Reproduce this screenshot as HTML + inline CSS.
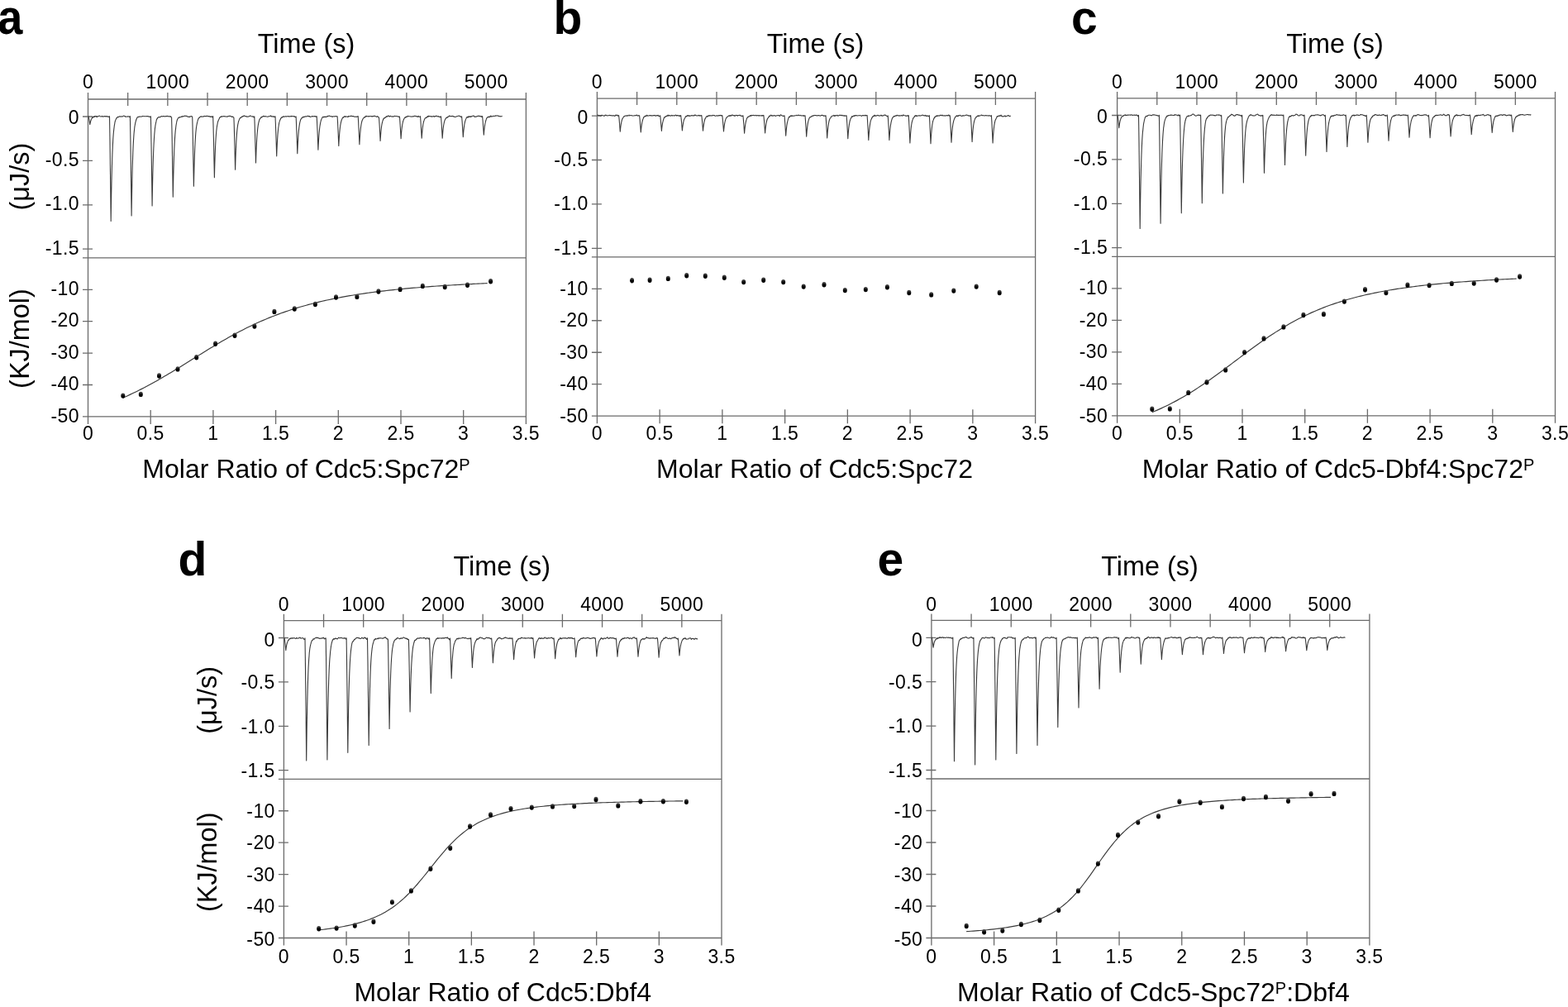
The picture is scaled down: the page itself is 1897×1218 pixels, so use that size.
<!DOCTYPE html>
<html><head><meta charset="utf-8"><title>ITC</title>
<style>
html,body{margin:0;padding:0;background:#fff;}
svg{display:block;}
text{font-family:'Liberation Sans', Arial, Helvetica, sans-serif;fill:#000;}
.tk{font-size:23px;letter-spacing:0.4px;}
</style></head><body>
<svg width="1897" height="1218" viewBox="0 0 1897 1218">
<defs><linearGradient id="dg" x1="0" y1="0" x2="0" y2="1"><stop offset="0" stop-color="#5a5a5a"/><stop offset="0.55" stop-color="#000"/><stop offset="1" stop-color="#000"/></linearGradient></defs>
<rect width="1897" height="1218" fill="#fff"/>
<g id="pa">
<path d="M106.5 112L106.5 512.9M636.4 112L636.4 512.9M106.5 120L636.4 120M100 311.9L636.4 311.9M100 503.9L636.4 503.9M154.67 112L154.67 128M202.85 112L202.85 128M251.02 112L251.02 128M299.19 112L299.19 128M347.36 112L347.36 128M395.54 112L395.54 128M443.71 112L443.71 128M491.88 112L491.88 128M540.05 112L540.05 128M588.23 112L588.23 128M100 141L112 141M100 194.4L112 194.4M100 247.8L112 247.8M100 301.2L112 301.2M182.2 495.9L182.2 512.9M257.9 495.9L257.9 512.9M333.6 495.9L333.6 512.9M409.3 495.9L409.3 512.9M485 495.9L485 512.9M560.7 495.9L560.7 512.9M100 350.3L112 350.3M100 388.7L112 388.7M100 427.1L112 427.1M100 465.5L112 465.5" stroke="#6b6b6b" stroke-width="1.3" fill="none"/>
<path d="M106.8 141.05L107.1 140.71L107.4 142.06L107.44 142.41L107.78 144.14L108 145.48L108.12 146.18L108.46 148.35L108.6 149.44L108.8 150.59L109.05 149.26L109.2 148.62L109.3 148.05L109.55 147.12L109.8 146.23L110.05 145.47L110.3 144.73L110.4 144.46L110.55 144.19L110.8 143.68L111 143.43L111.05 143.33L111.3 142.88L111.55 142.73L111.6 142.65L111.8 142.34L112.05 141.59L112.2 142.38L112.3 142.04L112.55 141.8L112.8 141.58L113.05 141L113.3 141.32L113.4 141.17L113.55 141.08L113.8 141.57L114 140.91L114.05 141.2L114.3 140.63L114.55 140.78L114.6 141.24L114.8 140.8L115.05 140.67L115.2 140.57L115.3 140.63L115.55 140.57L115.8 140.66L116.05 140.42L116.3 141.08L116.4 141.01L116.55 141.24L116.8 141.22L117 140.79L117.05 141.44L117.3 141.26L117.55 141.37L117.6 141.2L118.2 140.76L118.8 140.84L119.4 140.34L120 140.19L120.6 140.17L121.2 140.65L121.8 141.04L122.4 141.06L123 140.82L123.6 140.29L124.2 141.12L124.8 140.99L125.4 140.92L126 140.63L126.6 140.63L127.2 141.04L127.8 140.48L128.4 140.92L129 140.74L129.5 140.94L129.6 140.59L130 140.87L130.2 141.08L130.5 141.16L130.8 141.07L131 141.06L131.4 141.2L131.5 141.02L132 141.6L132.5 140.65L132.6 145.72L132.84 160.56L133.18 184.79L133.2 186.42L133.52 211.01L133.8 233.77L133.86 238.69L134.2 267.46L134.4 253.3L134.45 249.88L134.7 234.98L134.95 222.13L135 219.82L135.2 211.11L135.45 201.45L135.6 196.42L135.7 193.27L135.95 186.1L136.2 179.72L136.45 174.41L136.7 169.64L136.8 168.06L136.95 165.83L137.2 162.36L137.4 160L137.45 159.49L137.7 157.11L137.95 154.9L138 154.78L138.2 153.01L138.45 151.12L138.6 150.43L138.7 150.05L138.95 148.19L139.2 147.2L139.45 146.24L139.7 145.47L139.8 144.99L139.95 144.87L140.2 144.5L140.4 143.83L140.45 143.73L140.7 143.29L140.95 142.77L141 142.95L141.2 142.88L141.45 142.81L141.6 142.06L141.7 142.25L141.95 141.83L142.2 141.73L142.45 141.33L142.7 141.67L142.8 141.56L142.95 141.59L143.4 141.66L144 141.14L144.6 140.75L145.2 141.12L145.8 140.83L146.4 141L147 141.09L147.6 140.69L148.2 140.94L148.8 140.64L149.4 140.14L150 140.25L150.6 140.31L151.2 140.74L151.8 141.35L152.4 141.02L153 140.93L153.6 141.23L154.2 141.07L154.4 141.02L154.8 140.67L154.9 140.82L155.4 140.84L155.9 140.92L156 141.02L156.4 141.17L156.6 141.13L156.9 141.57L157.2 141.86L157.4 140.63L157.74 159.48L157.8 163.31L158.08 182.55L158.4 205.98L158.42 207.51L158.76 233.7L159 252.84L159.1 260.94L159.35 244.66L159.6 230.34L159.85 218.11L160.1 207.55L160.2 203.6L160.35 198.27L160.6 190.37L160.8 184.87L160.85 183.58L161.1 177.74L161.35 172.8L161.4 171.85L161.6 168.38L161.85 164.59L162 162.62L162.1 161.33L162.35 158.59L162.6 156.55L162.85 153.8L163.1 152.03L163.2 151.7L163.35 150.93L163.6 149.53L163.8 148.16L163.85 148.24L164.1 147.29L164.35 146.34L164.4 146.15L164.6 145.52L164.85 144.33L165 144.19L165.1 144.18L165.35 143.56L165.6 142.99L165.85 142.05L166.1 141.97L166.2 141.88L166.35 141.88L166.6 141.61L166.8 141.43L166.85 141.37L167.1 141.68L167.35 141.6L167.4 141.43L167.6 141.33L167.85 141.33L168 141.49L168.6 141.12L169.2 140.94L169.8 140.89L170.4 141.19L171 141.07L171.6 140.93L172.2 140.41L172.8 140.68L173.4 140.58L174 140.46L174.6 140.74L175.2 140.79L175.8 140.82L176.4 140.68L177 140.6L177.6 140.74L178.2 140.58L178.8 140.62L179.4 140.86L179.9 141.03L180 140.88L180.4 141.01L180.6 141.31L180.9 141.03L181.2 141.27L181.4 141.36L181.8 141.43L181.9 141.53L182.4 140.79L182.74 157.82L183 173.39L183.08 178.58L183.42 200.85L183.6 213.12L183.76 224.3L184.1 248.87L184.2 242.72L184.35 234.13L184.6 221.36L184.8 212.26L184.85 210.28L185.1 200.77L185.35 192.55L185.4 191.03L185.6 185.43L185.85 179.24L186 176.25L186.1 174.03L186.35 169.47L186.6 165.49L186.85 162.15L187.1 159.19L187.2 158.2L187.35 156.42L187.6 154.36L187.8 153.28L187.85 152.68L188.1 150.86L188.35 149.82L188.4 149.67L188.6 148.28L188.85 147.47L189 146.76L189.1 146.04L189.35 144.98L189.6 144.59L189.85 143.86L190.1 143.3L190.2 143.26L190.35 143.36L190.6 142.67L190.8 142.52L190.85 142.47L191.1 142.09L191.35 142.19L191.4 141.97L191.6 141.81L191.85 141.74L192 141.77L192.1 141.52L192.35 141.43L192.6 141.6L192.85 141.66L193.2 141.87L193.8 141.81L194.4 140.98L195 140.62L195.6 140.67L196.2 140.84L196.8 141.03L197.4 140.49L198 140.55L198.6 140.56L199.2 140.99L199.8 141.05L200.4 140.5L201 140.52L201.6 140.77L202.2 140.3L202.8 140.64L203.4 140.66L204 140.71L204.6 141.03L205.1 141.07L205.2 140.64L205.6 140.91L205.8 140.75L206.1 140.87L206.4 140.82L206.6 141.5L207 141.13L207.1 141.43L207.6 142.19L207.94 155.86L208.2 170.15L208.28 174.7L208.62 194.89L208.8 206.14L208.96 216.18L209.3 238.24L209.4 232.79L209.55 225L209.8 213.44L210 205.33L210.05 203.42L210.3 194.93L210.55 187.43L210.6 186.18L210.8 181.04L211.05 175.62L211.2 172.64L211.3 170.71L211.55 166.69L211.8 163.19L212.05 160.12L212.3 157.38L212.4 156.98L212.55 155.59L212.8 153.26L213 151.82L213.05 151.32L213.3 150L213.55 148.64L213.6 147.83L213.8 147.24L214.05 146.1L214.2 145.89L214.3 145.45L214.55 144.43L214.8 144.25L215.05 143.54L215.3 143.27L215.4 142.93L215.55 142.95L215.8 142.41L216 142.33L216.05 142.34L216.3 142L216.55 142.09L216.6 141.79L216.8 141.98L217.05 142.17L217.2 142L217.3 142.07L217.55 142.05L217.8 141.54L218.05 141.7L218.4 141.81L219 141.45L219.6 140.9L220.2 141.47L220.8 140.8L221.4 140.35L222 140.87L222.6 140.76L223.2 140.46L223.8 139.86L224.4 140.28L225 140.49L225.6 140.41L226.2 140.34L226.8 141.01L227.4 141.24L228 141.57L228.6 140.94L229.2 141.26L229.7 141.61L229.8 141.21L230.2 140.77L230.4 140.88L230.7 140.79L231 140.62L231.2 140.76L231.6 140.78L231.7 140.44L232.2 140.64L232.7 141.76L232.8 143.86L233.04 153.85L233.38 170.16L233.4 171.1L233.72 187.75L234 202.73L234.06 206.27L234.4 225.14L234.6 215.94L234.65 213.64L234.9 203.76L235.15 195.11L235.2 193.5L235.4 187.73L235.65 181.26L235.8 177.92L235.9 175.76L236.15 170.9L236.4 166.85L236.65 163.22L236.9 160.06L237 159.01L237.15 157.46L237.4 155.18L237.6 153.51L237.65 153.48L237.9 151.71L238.15 150.56L238.2 150.12L238.4 149.1L238.65 148.08L238.8 147.4L238.9 146.81L239.15 146.16L239.4 145.06L239.65 144.67L239.9 143.71L240 143.69L240.15 143.33L240.4 142.81L240.6 143.03L240.65 142.61L240.9 142.61L241.15 142.41L241.2 142.4L241.4 142.04L241.65 141.64L241.8 141.68L241.9 141.58L242.15 141.47L242.4 141.11L242.65 141.32L242.9 141.24L243 140.97L243.15 140.83L243.6 140.82L244.2 141.15L244.8 141.3L245.4 141.09L246 140.87L246.6 141.03L247.2 140.5L247.8 140.4L248.4 140.59L249 140.56L249.6 140.59L250.2 140.35L250.8 140.26L251.4 140.69L252 140.61L252.6 140.5L253.2 141.03L253.8 140.7L254.4 141.44L254.7 141.37L255 141.09L255.2 141.17L255.6 141.09L255.7 140.8L256.2 140.81L256.7 141.87L256.8 141.51L257.2 141.59L257.4 141.7L257.7 140.57L258 150.64L258.04 152.27L258.38 166.48L258.6 176.18L258.72 181.78L259.06 197.95L259.2 204.76L259.4 214.64L259.65 204.58L259.8 199.04L259.9 195.73L260.15 188.25L260.4 181.6L260.65 175.99L260.9 171.15L261 169.42L261.15 166.91L261.4 163.49L261.6 160.88L261.65 160.17L261.9 157.66L262.15 155.38L262.2 154.99L262.4 153.47L262.65 152.09L262.8 151.12L262.9 150.86L263.15 149.36L263.4 147.76L263.65 147.46L263.9 146.16L264 146.28L264.15 146.02L264.4 145.1L264.6 144.82L264.65 144.65L264.9 144.36L265.15 143.57L265.2 143.46L265.4 143.19L265.65 142.25L265.8 142.42L265.9 142.32L266.15 141.78L266.4 141.54L266.65 141.54L266.9 141.52L267 141.61L267.15 141.16L267.4 140.93L267.6 141.33L267.65 140.95L267.9 141.12L268.15 140.99L268.2 141.14L268.8 140.65L269.4 140.96L270 140.74L270.6 140.63L271.2 140.55L271.8 140.87L272.4 140.81L273 141.04L273.6 141.05L274.2 141.12L274.8 141.15L275.4 140.86L276 140.84L276.6 140.46L277.2 140.23L277.8 140.44L278.4 140.25L279 140.59L279.6 140.93L279.9 141L280.2 141.45L280.4 141.28L280.8 141.24L280.9 140.92L281.4 141.48L281.9 141.21L282 141.31L282.4 142.02L282.6 142.26L282.9 142.31L283.2 149.66L283.24 150.89L283.58 163.39L283.8 171.93L283.92 176.77L284.26 190.73L284.4 196.76L284.6 205.32L284.85 196.52L285 191.87L285.1 188.77L285.35 182.23L285.6 176.61L285.85 171.59L286.1 167.34L286.2 165.95L286.35 163.67L286.6 160.58L286.8 158.43L286.85 157.83L287.1 155.4L287.35 153.45L287.4 153.08L287.6 151.66L287.85 149.97L288 149.82L288.1 149.04L288.35 147.93L288.6 146.74L288.85 146.33L289.1 145.69L289.2 144.91L289.35 144.82L289.6 144.17L289.8 143.91L289.85 143.79L290.1 143.18L290.35 143.14L290.4 142.91L290.6 142.67L290.85 142.46L291 142.2L291.1 142.5L291.35 142.52L291.6 142.22L291.85 141.82L292.1 141.71L292.2 141.84L292.35 141.66L292.6 141.18L292.8 141.43L292.85 140.85L293.1 140.87L293.35 140.77L293.4 141.14L294 140.63L294.6 140.72L295.2 139.76L295.8 140.27L296.4 140.54L297 140.59L297.6 140.95L298.2 140.82L298.8 141.19L299.4 141.04L300 141.21L300.6 141.06L301.2 140.6L301.8 140.66L302.4 140.1L303 139.96L303.6 140.42L304.2 140.77L304.8 141.02L305.3 141.01L305.4 140.81L305.8 141.09L306 140.73L306.3 141.14L306.6 140.97L306.8 141.34L307.2 141.96L307.3 142.07L307.8 140.84L308.14 149.62L308.4 157.68L308.48 160.35L308.82 172.03L309 178.4L309.16 184.25L309.5 196.96L309.6 193.85L309.75 189.35L310 182.64L310.2 177.85L310.25 176.88L310.5 171.87L310.75 167.51L310.8 166.79L311 163.83L311.25 160.61L311.4 158.92L311.5 157.95L311.75 155.61L312 153.56L312.25 151.74L312.5 150.3L312.6 149.79L312.75 149.04L313 147.59L313.2 147.64L313.25 147.25L313.5 145.81L313.75 145.33L313.8 144.81L314 144.41L314.25 144.1L314.4 143.91L314.5 143.81L314.75 143.22L315 143.28L315.25 142.68L315.5 141.98L315.6 142.38L315.75 142.51L316 142.17L316.2 142.16L316.25 141.65L316.5 141.72L316.75 141.32L316.8 141.51L317 141.59L317.25 141.47L317.4 141.16L317.5 141.29L317.75 141.22L318 141.03L318.25 140.92L318.6 140.33L319.2 140.59L319.8 140.5L320.4 141.04L321 140.67L321.6 140.75L322.2 141.01L322.8 140.96L323.4 141.19L324 141.18L324.6 140.9L325.2 140.75L325.8 140.65L326.4 140.52L327 140.44L327.6 139.83L328.2 141.06L328.8 140.83L329.4 140.83L330 140.98L330.5 140.77L330.6 140.93L331 141.42L331.2 141.14L331.5 140.97L331.8 140.88L332 141.07L332.4 141.61L332.5 141.4L333 140.79L333.34 148.45L333.6 155.23L333.68 157.64L334.02 167.6L334.2 173.02L334.36 178.04L334.7 188.85L334.8 186.05L334.95 182.07L335.2 176.61L335.4 172.5L335.45 171.67L335.7 167.41L335.95 163.81L336 162.99L336.2 160.65L336.45 157.94L336.6 156.51L336.7 155.55L336.95 153.49L337.2 151.76L337.45 150.05L337.7 148.74L337.8 148L337.95 147.69L338.2 146.92L338.4 146.04L338.45 146.17L338.7 145.48L338.95 145.08L339 144.43L339.2 144.64L339.45 143.4L339.6 143.45L339.7 143.38L339.95 143.16L340.2 142.4L340.45 142.13L340.7 142.14L340.8 142.42L340.95 141.71L341.2 141.82L341.4 141.45L341.45 141.73L341.7 141.83L341.95 141.84L342 141.8L342.2 141.62L342.45 141.42L342.6 140.79L342.7 140.94L342.95 140.94L343.2 140.83L343.45 140.99L343.8 141.13L344.4 141.16L345 140.91L345.6 140.67L346.2 140.7L346.8 141.16L347.4 140.7L348 140.73L348.6 140.58L349.2 140.64L349.8 141.22L350.4 140.86L351 140.45L351.6 140.74L352.2 141.04L352.8 140.33L353.4 140.47L354 140.72L354.6 140.84L355.1 140.72L355.2 140.46L355.6 140.76L355.8 140.66L356.1 140.57L356.4 141.18L356.6 141.19L357 141.41L357.1 141.63L357.6 141.77L358.1 140.86L358.2 142.56L358.44 147.83L358.78 156.35L358.8 156.81L359.12 165.67L359.4 173.6L359.46 175.36L359.8 185.61L360 180.59L360.05 179.47L360.3 174L360.55 169.49L360.6 168.59L360.8 165.41L361.05 161.97L361.2 160.22L361.3 159.05L361.55 156.59L361.8 154.44L362.05 152.57L362.3 150.92L362.4 150.34L362.55 149.41L362.8 148.2L363 147.26L363.05 147.42L363.3 146.08L363.55 145.47L363.6 145.05L363.8 144.55L364.05 144.3L364.2 143.76L364.3 143.88L364.55 143.45L364.8 142.9L365.05 143.02L365.3 142.54L365.4 142.41L365.55 142.55L365.8 142.13L366 142.12L366.05 142.06L366.3 141.99L366.55 141.25L366.6 141.77L366.8 141.59L367.05 141.42L367.2 141.24L367.3 141.31L367.55 141.6L367.8 141.64L368.05 141.42L368.3 141.41L368.4 141.21L368.55 141.06L369 141.17L369.6 140.7L370.2 140.93L370.8 140.83L371.4 140.75L372 140.42L372.6 140.13L373.2 140.48L373.8 141.01L374.4 140.49L375 141.16L375.6 141.54L376.2 141.31L376.8 141.1L377.4 140.64L378 140.52L378.6 140.98L379.2 140.68L379.8 140.75L380.2 140.7L380.4 140.45L380.7 140.49L381 140.88L381.2 140.9L381.6 140.6L381.7 140.91L382.2 140.87L382.7 141.29L382.8 141.57L383.2 140.68L383.4 144.15L383.54 147.17L383.88 154.9L384 157.74L384.22 163.3L384.56 172.17L384.6 173.14L384.9 181.31L385.15 175.76L385.2 174.73L385.4 171.03L385.65 166.9L385.8 164.66L385.9 163.34L386.15 160.07L386.4 157.65L386.65 155.24L386.9 153.24L387 152.54L387.15 151.54L387.4 150.1L387.6 149.05L387.65 148.65L387.9 147.6L388.15 146.41L388.2 146.1L388.4 145.31L388.65 145.1L388.8 144.34L388.9 144.16L389.15 143.68L389.4 143.11L389.65 142.59L389.9 142.02L390 141.77L390.15 141.89L390.4 141.63L390.6 141.75L390.65 141.63L390.9 141.31L391.15 141.55L391.2 141.8L391.4 141.73L391.65 141.64L391.8 141.29L391.9 141.89L392.15 141.29L392.4 141.53L392.65 141.49L392.9 141.38L393 141.48L393.15 141L393.4 141.01L393.6 141.6L393.65 141.22L394.2 141.26L394.8 141.63L395.4 141.12L396 140.3L396.6 140.84L397.2 140.58L397.8 140.08L398.4 140.01L399 140.41L399.6 140.56L400.2 140.89L400.8 141.04L401.4 140.68L402 141.06L402.6 141.43L403.2 140.75L403.8 140.7L404.4 140.75L405 141.08L405.1 140.86L405.6 140.82L406.1 140.6L406.2 140.44L406.6 140.6L406.8 140.5L407.1 140.57L407.4 140.97L407.6 141.02L408 141.35L408.1 140.74L408.44 146.22L408.6 149.16L408.78 153.04L409.12 160.42L409.2 162.22L409.46 168.26L409.8 176.38L410.05 171.56L410.3 167.37L410.4 165.8L410.55 163.76L410.8 160.48L411 158.41L411.05 157.86L411.3 155.47L411.55 153.41L411.6 153.15L411.8 151.7L412.05 150.18L412.2 149.33L412.3 148.89L412.55 147.79L412.8 146.71L413.05 146.06L413.3 145.03L413.4 144.71L413.55 144.17L413.8 144.02L414 143.31L414.05 143.38L414.3 142.84L414.55 142.67L414.6 142.41L414.8 141.98L415.05 142.6L415.2 142.27L415.3 141.51L415.55 141.92L415.8 141.7L416.05 141.36L416.3 141L416.4 141.09L416.55 141.17L416.8 140.9L417 140.54L417.05 140.88L417.3 141.02L417.55 141.1L417.6 141.21L417.8 140.87L418.05 141.08L418.2 141.39L418.3 140.9L418.55 140.98L418.8 141.01L419.4 140.95L420 141.05L420.6 141.5L421.2 141.35L421.8 140.38L422.4 140.73L423 140.69L423.6 140.78L424.2 140.19L424.8 140.36L425.4 140.28L426 140.64L426.6 140.63L427.2 140.6L427.8 140.67L428.4 141.15L429 141.17L429.6 141.24L430.2 141.21L430.7 141.01L430.8 141.32L431.2 141.23L431.4 141.33L431.7 141.29L432 141.15L432.2 140.71L432.6 140.95L432.7 141L433.2 140.59L433.54 146.06L433.8 151.02L433.88 152.58L434.22 159.68L434.4 163.53L434.56 166.91L434.9 174.62L435 172.78L435.15 170.02L435.4 166.05L435.6 163.2L435.65 162.52L435.9 159.64L436.15 157.08L436.2 156.62L436.4 154.79L436.65 152.96L436.8 152.01L436.9 151.3L437.15 149.78L437.4 148.51L437.65 147.53L437.9 146.53L438 146.28L438.15 145.69L438.4 145.45L438.6 144.6L438.65 144.81L438.9 143.92L439.15 143.75L439.2 143.63L439.4 143.35L439.65 142.9L439.8 142.92L439.9 142.72L440.15 142.28L440.4 142.21L440.65 141.77L440.9 141.95L441 141.83L441.15 141.44L441.4 141.51L441.6 141.95L441.65 141.3L441.9 141.13L442.15 141.34L442.2 140.86L442.4 141.02L442.65 140.68L442.8 140.35L442.9 140.77L443.15 140.36L443.4 140.84L443.65 140.78L444 140.62L444.6 140.77L445.2 140.69L445.8 141.03L446.4 140.53L447 140.78L447.6 140.81L448.2 140.55L448.8 140.56L449.4 140.52L450 141.22L450.6 140.61L451.2 140.66L451.8 140.58L452.4 140.39L453 140.42L453.6 140.27L454.2 140.66L454.8 141.05L455.4 141.19L455.9 141.36L456 140.84L456.4 140.55L456.6 140.88L456.9 140.94L457.2 141.12L457.4 141.19L457.8 141.43L457.9 141.88L458.4 141.95L458.74 145.35L459 149.65L459.08 151.06L459.42 157.2L459.6 160.58L459.76 163.72L460.1 170.37L460.2 168.75L460.35 166.35L460.6 162.9L460.8 160.42L460.85 159.78L461.1 157.12L461.35 154.96L461.4 154.44L461.6 152.88L461.85 151.28L462 150.4L462.1 149.79L462.35 148.54L462.6 147.5L462.85 146.68L463.1 145.74L463.2 145.73L463.35 145.33L463.6 144.81L463.8 144L463.85 144.08L464.1 143.19L464.35 143.55L464.4 143.17L464.6 142.96L464.85 142.73L465 142.86L465.1 142.84L465.35 142.51L465.6 142.76L465.85 142.45L466.1 141.9L466.2 142.17L466.35 141.94L466.6 141.68L466.8 141.8L466.85 141.42L467.1 141.45L467.35 141.08L467.4 140.88L467.6 141.2L467.85 140.85L468 140.75L468.1 141.19L468.35 140.97L468.6 141.08L468.85 140.59L469.2 140.49L469.8 139.85L470.4 140.61L471 140.91L471.6 140.9L472.2 140.22L472.8 140.58L473.4 141.02L474 141.02L474.6 140.82L475.2 141.25L475.8 140.96L476.4 140.88L477 140.46L477.6 140.4L478.2 140.47L478.8 140.56L479.4 140.56L480 140.45L480.4 140.69L480.6 140.81L480.9 140.82L481.2 140.84L481.4 140.91L481.8 141.14L481.9 141.06L482.4 141.4L482.9 141.28L483 140.85L483.4 141.42L483.6 142.94L483.74 144.96L484.08 150.1L484.2 152.05L484.42 155.68L484.76 161.49L484.8 162.18L485.1 167.6L485.35 163.89L485.4 163.22L485.6 160.67L485.85 158.02L486 156.5L486.1 155.64L486.35 153.65L486.6 152.01L486.85 150.37L487.1 149.14L487.2 148.69L487.35 147.85L487.6 146.85L487.8 146.22L487.85 146.1L488.1 145.35L488.35 144.84L488.4 144.58L488.6 143.96L488.85 143.81L489 143.32L489.1 143.21L489.35 142.92L489.6 142.69L489.85 141.96L490.1 141.96L490.2 142.18L490.35 142L490.6 142.17L490.8 141.49L490.85 141.96L491.1 141.54L491.35 141.66L491.4 141.61L491.6 141.19L491.85 141.5L492 140.92L492.1 141.21L492.35 141.28L492.6 141.2L492.85 140.99L493.1 140.92L493.2 140.37L493.35 140.62L493.6 140.34L493.8 140.64L493.85 140.45L494.4 140.77L495 140.69L495.6 140.71L496.2 140.82L496.8 140.93L497.4 141.11L498 141L498.6 140.93L499.2 140.69L499.8 141.08L500.4 140.73L501 140.39L501.6 140.41L502.2 140.23L502.8 140.47L503.4 140.58L504 140.93L504.6 140.69L505.2 141.39L505.5 140.97L505.8 141.22L506 140.5L506.4 140.36L506.5 140.87L507 141.18L507.5 141.23L507.6 141.15L508 141.01L508.2 141.13L508.5 140.66L508.8 144.23L508.84 144.94L509.18 149.92L509.4 153.43L509.52 155.45L509.86 161.37L510 163.8L510.2 167.29L510.45 163.65L510.6 161.74L510.7 160.58L510.95 157.81L511.2 155.51L511.45 153.5L511.7 151.62L511.8 151.01L511.95 150.2L512.2 148.76L512.4 147.97L512.45 147.69L512.7 146.75L512.95 145.89L513 145.79L513.2 145.29L513.45 144.51L513.6 143.97L513.7 144.18L513.95 143.6L514.2 143.05L514.45 142.82L514.7 142.49L514.8 142.65L514.95 142.5L515.2 142.39L515.4 142.58L515.45 142.18L515.7 142.14L515.95 142.13L516 142.43L516.2 142.07L516.45 141.57L516.6 141.66L516.7 141.59L516.95 141.11L517.2 141.34L517.45 141.33L517.7 140.5L517.8 140.8L517.95 140.66L518.2 141.07L518.4 140.32L518.45 140.79L518.7 140.48L518.95 140.31L519 140.7L519.2 140.65L519.6 140.54L520.2 140.69L520.8 140.58L521.4 140.87L522 141.22L522.6 140.71L523.2 141.04L523.8 141.07L524.4 140.4L525 140.68L525.6 141.23L526.2 140.67L526.8 140.67L527.4 140.33L528 140.31L528.6 140.38L529.2 140.84L529.8 140.73L530.4 140.93L530.5 140.47L531 141.1L531.5 141.43L531.6 141.4L532 141.37L532.2 141.15L532.5 141.39L532.8 141.45L533 141.89L533.4 141.77L533.5 140.7L533.84 144.99L534 147.36L534.18 150.06L534.52 155.45L534.6 156.76L534.86 161.28L535.2 167.21L535.45 163.59L535.7 160.34L535.8 159.28L535.95 157.65L536.2 155.27L536.4 153.68L536.45 153.35L536.7 151.43L536.95 150.26L537 149.86L537.2 148.88L537.45 147.61L537.6 147.1L537.7 146.81L537.95 145.84L538.2 145.22L538.45 144.9L538.7 144.19L538.8 144.18L538.95 144L539.2 143.08L539.4 143.34L539.45 143.26L539.7 142.86L539.95 142.53L540 142.61L540.2 142.24L540.45 142.52L540.6 141.82L540.7 142.32L540.95 142.04L541.2 142.24L541.45 141.98L541.7 141.3L541.8 141.79L541.95 141.55L542.2 141.07L542.4 141.07L542.45 141.27L542.7 140.97L542.95 140.88L543 140.75L543.2 140.56L543.45 140.08L543.6 140.04L543.7 140.36L543.95 140.58L544.2 140.22L544.8 140.42L545.4 140.7L546 140.56L546.6 140.59L547.2 140.34L547.8 140.49L548.4 141.03L549 140.7L549.6 141.28L550.2 141.41L550.8 141.5L551.4 141.27L552 141.17L552.6 140.67L553.2 140.53L553.8 140.42L554.4 140.28L555 140.1L555.6 140.17L556.1 140.65L556.2 140.61L556.6 140.64L556.8 140.78L557.1 141.08L557.4 141.17L557.6 141.1L558 141.67L558.1 141.3L558.6 140.83L558.94 144.7L559.2 148.21L559.28 149.41L559.62 154.7L559.8 157.5L559.96 160L560.3 165.67L560.4 164.34L560.55 162.42L560.8 159.3L561 157.28L561.05 156.83L561.3 154.62L561.55 152.74L561.6 152.38L561.8 151.02L562.05 149.59L562.2 148.88L562.3 148.47L562.55 147.4L562.8 146.31L563.05 145.65L563.3 145.1L563.4 144.23L563.55 144L563.8 143.5L564 143.23L564.05 143.2L564.3 142.53L564.55 141.92L564.6 142.1L564.8 141.91L565.05 141.46L565.2 141.5L565.3 141.43L565.55 141.89L565.8 141.56L566.05 141.44L566.3 142.23L566.4 141.25L566.55 141.37L566.8 141.3L567 140.64L567.05 141L567.3 141.32L567.55 141.18L567.6 141.16L567.8 141.21L568.05 141.11L568.2 141.15L568.3 141.33L568.55 141.24L568.8 140.94L569.05 141.51L569.4 140.77L570 141.24L570.6 140.75L571.2 140.48L571.8 140.29L572.4 140.25L573 139.87L573.6 140.93L574.2 140.96L574.8 141.45L575.4 141.06L576 141.25L576.6 141L577.2 140.54L577.8 140.6L578.4 140.15L579 140.27L579.6 140.71L580.2 140.2L580.6 140.47L580.8 140.47L581.1 140.47L581.4 140.94L581.6 141.01L582 140.88L582.1 140.39L582.6 141.34L583.1 141.46L583.2 140.98L583.6 140.65L583.8 142.61L583.94 144.23L584.28 148.58L584.4 150.08L584.62 153.2L584.96 158.15L585 158.71L585.3 163.16L585.55 160.14L585.6 159.41L585.8 157.45L586.05 155.11L586.2 154.04L586.3 153.17L586.55 151.62L586.8 150L587.05 148.92L587.3 147.66L587.4 147.23L587.55 146.72L587.8 145.86L588 145.26L588.05 145.05L588.3 144.42L588.55 143.46L588.6 143.32L588.8 143.11L589.05 142.45L589.2 142.35L589.3 142.47L589.55 142.26L589.8 141.89L590.05 141.87L590.3 141.81L590.4 141.4L590.55 141.28L590.8 141.24L591 141.51L591.05 141.64L591.3 141.32L591.55 141.55L591.6 141.18L591.8 141.44L592.05 141.17L592.2 141.78L592.3 141.3L592.55 141.33L592.8 140.9L593.05 141.19L593.3 140.65L593.4 140.55L593.55 140.43L593.8 139.99L594 140.86L594.05 140.42L594.6 140.92L595.2 140.8L595.8 140.83L596.4 140.59L597 140.25L597.6 140.46L598.2 140.52L598.8 140.33L599.4 139.79L600 140.26L600.6 140.03L601.2 139.76L601.8 139.78L602.4 140.21L603 140.41L603.6 140.14L604.2 140.68L604.8 140.85L605.4 140.64L606 140.98L606.6 140.81L607.2 140.42L607.7 140.52" stroke="#3a3a3a" stroke-width="1.1" fill="none" stroke-linejoin="round"/>
<path d="M148.8 481.15L151.57 479.93L154.34 478.67L157.12 477.39L159.89 476.09L162.66 474.76L165.43 473.41L168.21 472.03L170.98 470.63L173.75 469.2L176.52 467.75L179.3 466.27L182.07 464.78L184.84 463.26L187.61 461.72L190.38 460.16L193.16 458.58L195.93 456.99L198.7 455.37L201.47 453.74L204.25 452.09L207.02 450.43L209.79 448.76L212.56 447.07L215.34 445.38L218.11 443.67L220.88 441.96L223.65 440.24L226.43 438.51L229.2 436.79L231.97 435.06L234.74 433.33L237.51 431.6L240.29 429.88L243.06 428.16L245.83 426.44L248.6 424.73L251.38 423.04L254.15 421.35L256.92 419.67L259.69 418L262.47 416.35L265.24 414.72L268.01 413.1L270.78 411.5L273.55 409.91L276.33 408.35L279.1 406.8L281.87 405.28L284.64 403.78L287.42 402.3L290.19 400.84L292.96 399.41L295.73 398L298.51 396.61L301.28 395.25L304.05 393.91L306.82 392.6L309.59 391.32L312.37 390.06L315.14 388.82L317.91 387.61L320.68 386.43L323.46 385.27L326.23 384.13L329 383.03L331.77 381.94L334.55 380.88L337.32 379.84L340.09 378.83L342.86 377.84L345.64 376.88L348.41 375.94L351.18 375.02L353.95 374.12L356.72 373.25L359.5 372.39L362.27 371.56L365.04 370.75L367.81 369.95L370.59 369.18L373.36 368.43L376.13 367.69L378.9 366.98L381.68 366.28L384.45 365.6L387.22 364.93L389.99 364.29L392.76 363.66L395.54 363.04L398.31 362.44L401.08 361.86L403.85 361.29L406.63 360.74L409.4 360.2L412.17 359.67L414.94 359.16L417.72 358.66L420.49 358.17L423.26 357.69L426.03 357.23L428.81 356.78L431.58 356.34L434.35 355.9L437.12 355.49L439.89 355.08L442.67 354.68L445.44 354.29L448.21 353.91L450.98 353.54L453.76 353.17L456.53 352.82L459.3 352.48L462.07 352.14L464.85 351.81L467.62 351.49L470.39 351.18L473.16 350.87L475.93 350.58L478.71 350.28L481.48 350L484.25 349.72L487.02 349.45L489.8 349.18L492.57 348.93L495.34 348.67L498.11 348.42L500.89 348.18L503.66 347.95L506.43 347.71L509.2 347.49L511.97 347.27L514.75 347.05L517.52 346.84L520.29 346.63L523.06 346.43L525.84 346.23L528.61 346.04L531.38 345.85L534.15 345.66L536.93 345.48L539.7 345.3L542.47 345.13L545.24 344.96L548.02 344.79L550.79 344.63L553.56 344.47L556.33 344.31L559.1 344.16L561.88 344.01L564.65 343.86L567.42 343.71L570.19 343.57L572.97 343.43L575.74 343.3L578.51 343.16L581.28 343.03L584.06 342.9L586.83 342.78L589.6 342.65" stroke="#3a3a3a" stroke-width="1.15" fill="none"/>
<ellipse cx="148.8" cy="478.6" rx="2.5" ry="3.2" fill="url(#dg)"/>
<ellipse cx="170.3" cy="476.9" rx="2.5" ry="3.2" fill="url(#dg)"/>
<ellipse cx="192.5" cy="454.5" rx="2.5" ry="3.2" fill="url(#dg)"/>
<ellipse cx="215" cy="446.4" rx="2.5" ry="3.2" fill="url(#dg)"/>
<ellipse cx="237.7" cy="432.3" rx="2.5" ry="3.2" fill="url(#dg)"/>
<ellipse cx="260.6" cy="415.8" rx="2.5" ry="3.2" fill="url(#dg)"/>
<ellipse cx="284" cy="405.7" rx="2.5" ry="3.2" fill="url(#dg)"/>
<ellipse cx="307.9" cy="394.6" rx="2.5" ry="3.2" fill="url(#dg)"/>
<ellipse cx="331.9" cy="376.9" rx="2.5" ry="3.2" fill="url(#dg)"/>
<ellipse cx="356.3" cy="373.5" rx="2.5" ry="3.2" fill="url(#dg)"/>
<ellipse cx="381.4" cy="368" rx="2.5" ry="3.2" fill="url(#dg)"/>
<ellipse cx="406.5" cy="359.5" rx="2.5" ry="3.2" fill="url(#dg)"/>
<ellipse cx="431.9" cy="358.9" rx="2.5" ry="3.2" fill="url(#dg)"/>
<ellipse cx="457.9" cy="352.5" rx="2.5" ry="3.2" fill="url(#dg)"/>
<ellipse cx="484.1" cy="349.9" rx="2.5" ry="3.2" fill="url(#dg)"/>
<ellipse cx="511.3" cy="345.9" rx="2.5" ry="3.2" fill="url(#dg)"/>
<ellipse cx="538.2" cy="347" rx="2.5" ry="3.2" fill="url(#dg)"/>
<ellipse cx="565.5" cy="344.8" rx="2.5" ry="3.2" fill="url(#dg)"/>
<ellipse cx="593.6" cy="340.2" rx="2.5" ry="3.2" fill="url(#dg)"/>
<text transform="translate(-2.7 40.8) scale(0.95 1.035)" font-size="57" font-weight="bold">a</text>
<text x="370.5" y="63.8" font-size="32.4" text-anchor="middle">Time (s)</text>
<text x="106.5" y="107.05" class="tk" text-anchor="middle">0</text>
<text x="202.85" y="107.05" class="tk" text-anchor="middle">1000</text>
<text x="299.19" y="107.05" class="tk" text-anchor="middle">2000</text>
<text x="395.54" y="107.05" class="tk" text-anchor="middle">3000</text>
<text x="491.88" y="107.05" class="tk" text-anchor="middle">4000</text>
<text x="588.23" y="107.05" class="tk" text-anchor="middle">5000</text>
<text x="95.9" y="149.8" class="tk" text-anchor="end">0</text>
<text x="95.9" y="200.8" class="tk" text-anchor="end">-0.5</text>
<text x="95.9" y="254.2" class="tk" text-anchor="end">-1.0</text>
<text x="95.9" y="307.6" class="tk" text-anchor="end">-1.5</text>
<text x="95.9" y="356.7" class="tk" text-anchor="end">-10</text>
<text x="95.9" y="395.1" class="tk" text-anchor="end">-20</text>
<text x="95.9" y="433.5" class="tk" text-anchor="end">-30</text>
<text x="95.9" y="471.9" class="tk" text-anchor="end">-40</text>
<text x="95.9" y="511.1" class="tk" text-anchor="end">-50</text>
<text x="106.5" y="532.2" class="tk" text-anchor="middle">0</text>
<text x="182.2" y="532.2" class="tk" text-anchor="middle">0.5</text>
<text x="257.9" y="532.2" class="tk" text-anchor="middle">1</text>
<text x="333.6" y="532.2" class="tk" text-anchor="middle">1.5</text>
<text x="409.3" y="532.2" class="tk" text-anchor="middle">2</text>
<text x="485" y="532.2" class="tk" text-anchor="middle">2.5</text>
<text x="560.7" y="532.2" class="tk" text-anchor="middle">3</text>
<text x="636.4" y="532.2" class="tk" text-anchor="middle">3.5</text>
<text x="370.5" y="578.4" font-size="32.05" text-anchor="middle">Molar Ratio of Cdc5:Spc72<tspan font-size="20" dy="-9">P</tspan></text>
<text transform="translate(34.8 213.6) rotate(-90)" font-size="32.4" text-anchor="middle">(μJ/s)</text>
<text transform="translate(34.9 409.6) rotate(-90)" font-size="32.4" text-anchor="middle">(KJ/mol)</text>
</g>
<g id="pb">
<path d="M722.4 111.1L722.4 512.2M1252.6 111.1L1252.6 512.2M722.4 119.1L1252.6 119.1M715.9 310.8L1252.6 310.8M715.9 503.2L1252.6 503.2M770.6 111.1L770.6 127.1M818.8 111.1L818.8 127.1M867 111.1L867 127.1M915.2 111.1L915.2 127.1M963.4 111.1L963.4 127.1M1011.6 111.1L1011.6 127.1M1059.8 111.1L1059.8 127.1M1108 111.1L1108 127.1M1156.2 111.1L1156.2 127.1M1204.4 111.1L1204.4 127.1M715.9 140.1L727.9 140.1M715.9 193.5L727.9 193.5M715.9 246.9L727.9 246.9M715.9 300.3L727.9 300.3M798.14 495.2L798.14 512.2M873.89 495.2L873.89 512.2M949.63 495.2L949.63 512.2M1025.37 495.2L1025.37 512.2M1101.11 495.2L1101.11 512.2M1176.86 495.2L1176.86 512.2M715.9 349.28L727.9 349.28M715.9 387.76L727.9 387.76M715.9 426.24L727.9 426.24M715.9 464.72L727.9 464.72" stroke="#6b6b6b" stroke-width="1.3" fill="none"/>
<path d="M722.7 139.7L723.3 139.18L723.9 139.49L724.5 139.69L725.1 139.53L725.7 139.74L726.3 139.8L726.9 140.25L727.5 139.52L728.1 139.25L728.7 139.73L729.3 139.82L729.9 139.81L730.5 140.25L731.1 140.27L731.7 139.75L732.3 139.13L732.9 139.54L733.5 139.37L734.1 139.86L734.7 139.99L735.3 139.69L735.9 139.69L736.5 139.8L737.1 139.35L737.7 139.59L738.3 139.66L738.9 139.62L739.5 139.63L740.1 139.97L740.7 139.86L741.3 140.03L741.9 139.63L742.5 139.9L743.1 139.76L743.7 140.39L744.3 140.07L744.9 139.18L745.5 139.35L745.6 139.45L746.1 139.18L746.6 139.58L746.7 139.84L747.1 139.31L747.3 139.76L747.6 139.95L747.9 140.26L748.1 139.93L748.5 140.15L748.6 139.66L748.94 142.68L749.1 144.33L749.28 146.4L749.62 150.47L749.7 151.55L749.96 154.86L750.3 159.17L750.55 156.54L750.8 154.15L750.9 153.27L751.05 152.21L751.3 150.47L751.5 149.35L751.55 149.09L751.8 147.82L752.05 146.74L752.1 146.64L752.3 145.76L752.55 145.05L752.7 144.61L752.8 144.22L753.05 143.57L753.3 143.15L753.55 143.01L753.8 142.53L753.9 142.05L754.05 141.89L754.3 141.67L754.5 141.41L754.55 141.24L754.8 141.06L755.05 140.7L755.1 141.05L755.3 140.83L755.55 140.54L755.7 140.38L755.8 140.25L756.05 140.19L756.3 140.18L756.55 140.1L756.8 139.76L756.9 139.98L757.05 140.09L757.3 140.17L757.5 140.29L757.55 140.24L757.8 140.19L758.05 140.25L758.1 140.17L758.3 139.67L758.55 139.63L758.7 139.75L758.8 139.97L759.05 139.87L759.3 139.82L759.9 140.2L760.5 139.7L761.1 139.13L761.7 139.97L762.3 139.81L762.9 139.57L763.5 139.55L764.1 139.74L764.7 139.89L765.3 140.04L765.9 140.02L766.5 139.97L767.1 139.95L767.7 139.74L768.3 139.59L768.9 139.77L769.5 139.72L770.1 139.32L770.6 139.13L770.7 139.33L771.1 139.92L771.3 139.94L771.6 140.12L771.9 140.08L772.1 139.67L772.5 139.73L772.6 139.59L773.1 139.98L773.6 139.72L773.7 140.64L773.94 142.98L774.28 146.63L774.3 147.03L774.62 151L774.9 154.53L774.96 155.39L775.3 160.05L775.5 157.88L775.55 157.27L775.8 154.9L776.05 152.75L776.1 152.47L776.3 151.1L776.55 149.58L776.7 148.6L776.8 148.11L777.05 147.01L777.3 146.05L777.55 145.08L777.8 144.33L777.9 144.06L778.05 143.69L778.3 143.21L778.5 142.5L778.55 142.12L778.8 141.89L779.05 141.95L779.1 141.36L779.3 141.37L779.55 141.45L779.7 140.71L779.8 140.95L780.05 140.7L780.3 140.41L780.55 140.79L780.8 140.36L780.9 140.29L781.05 140.52L781.3 140.31L781.5 139.97L781.55 140.68L781.8 140.31L782.05 140.08L782.1 140.04L782.3 139.41L782.55 139.76L782.7 139.53L782.8 139.36L783.05 139.43L783.3 139.81L783.55 140.11L783.8 140.07L783.9 140.19L784.05 140.04L784.5 140.06L785.1 139.94L785.7 139.65L786.3 139.66L786.9 139.52L787.5 139.97L788.1 139.76L788.7 139.88L789.3 139.9L789.9 139.93L790.5 139.57L791.1 139.87L791.7 139.59L792.3 139.4L792.9 140.2L793.5 140.17L794.1 139.87L794.7 139.63L795.3 139.74L795.7 139.57L795.9 139.85L796.2 139.28L796.5 140.01L796.7 140.19L797.1 140.48L797.2 140.2L797.7 140.43L798.2 140.65L798.3 140.64L798.7 139.75L798.9 141.33L799.04 142.63L799.38 146.4L799.5 147.78L799.72 150.15L800.06 154.14L800.1 154.75L800.4 158.42L800.65 155.72L800.7 155.28L800.9 153.5L801.15 151.61L801.3 150.69L801.4 150.06L801.65 148.64L801.9 147.3L802.15 146.5L802.4 145.47L802.5 145.14L802.65 144.72L802.9 144.01L803.1 143.41L803.15 143.28L803.4 142.78L803.65 141.81L803.7 142.11L803.9 141.98L804.15 141.8L804.3 141.75L804.4 141.63L804.65 141.63L804.9 141.47L805.15 140.9L805.4 140.82L805.5 141.2L805.65 140.55L805.9 140.43L806.1 140.68L806.15 140.44L806.4 140.22L806.65 140.38L806.7 140.5L806.9 140.27L807.15 140.39L807.3 139.89L807.4 140.02L807.65 139.54L807.9 139.3L808.15 139.14L808.4 139.93L808.5 139.6L808.65 140.12L808.9 140.18L809.1 140.22L809.15 139.85L809.7 139.59L810.3 139.86L810.9 139.9L811.5 140.19L812.1 139.81L812.7 139.37L813.3 139.93L813.9 139.72L814.5 139.85L815.1 139.74L815.7 139.73L816.3 140.12L816.9 139.38L817.5 139.12L818.1 139.46L818.7 140.12L819.3 139.51L819.9 139.47L820.5 139.85L820.7 139.76L821.1 140.13L821.2 139.88L821.7 140.12L822.2 140.39L822.3 139.81L822.7 139.79L822.9 140.44L823.2 140.08L823.5 139.83L823.7 139.69L824.04 142.68L824.1 143.09L824.38 146.09L824.7 149.68L824.72 149.68L825.06 153.84L825.3 156.73L825.4 157.95L825.65 155.51L825.9 153.28L826.15 151.57L826.4 149.96L826.5 149.37L826.65 148.44L826.9 147.33L827.1 146.46L827.15 146.17L827.4 145.33L827.65 144.6L827.7 144.41L827.9 144.04L828.15 143.45L828.3 143.1L828.4 143.14L828.65 142.68L828.9 142.26L829.15 141.48L829.4 141.38L829.5 141.21L829.65 140.78L829.9 140.5L830.1 140.99L830.15 140.99L830.4 140.81L830.65 140.65L830.7 140.73L830.9 140.4L831.15 140.13L831.3 140.01L831.4 139.69L831.65 140.07L831.9 139.61L832.15 139.69L832.4 140.15L832.5 139.88L832.65 139.76L832.9 139.65L833.1 139.9L833.15 140.1L833.4 140.28L833.65 139.9L833.7 140.03L833.9 139.95L834.15 140.08L834.3 140.54L834.9 139.96L835.5 140.09L836.1 139.93L836.7 139.54L837.3 139.64L837.9 139.93L838.5 140.02L839.1 139.56L839.7 139.94L840.3 139.67L840.9 138.88L841.5 139.49L842.1 139.78L842.7 139.86L843.3 139.92L843.9 140.06L844.5 139.76L845.1 139.47L845.7 139.86L845.8 139.33L846.3 140.07L846.8 139.86L846.9 139.87L847.3 140.03L847.5 139.71L847.8 139.82L848.1 140L848.3 139.62L848.7 140.26L848.8 139.62L849.14 142.52L849.3 144.21L849.48 146.17L849.82 149.88L849.9 150.76L850.16 153.83L850.5 158.09L850.75 155.61L851 153.53L851.1 152.87L851.25 151.81L851.5 150.03L851.7 148.91L851.75 148.54L852 147.45L852.25 146.31L852.3 146.1L852.5 145.36L852.75 144.51L852.9 144.08L853 143.85L853.25 143.38L853.5 142.84L853.75 142.98L854 141.95L854.1 141.74L854.25 141.29L854.5 141.14L854.7 140.76L854.75 140.97L855 140.74L855.25 140.73L855.3 140.58L855.5 140.83L855.75 141.21L855.9 141L856 140.97L856.25 140.43L856.5 140.19L856.75 140.61L857 140.08L857.1 140.04L857.25 139.86L857.5 139.91L857.7 139.99L857.75 139.85L858 140.13L858.25 139.91L858.3 140.1L858.5 139.68L858.75 139.73L858.9 139.91L859 139.81L859.25 139.97L859.5 139.76L860.1 139.85L860.7 140.06L861.3 139.72L861.9 139.93L862.5 139.26L863.1 139.48L863.7 139.51L864.3 139.5L864.9 140.12L865.5 140.28L866.1 140.19L866.7 139.86L867.3 139.82L867.9 139.83L868.5 140.14L869.1 139.94L869.7 139.51L870.3 139.53L870.8 139.86L870.9 139.86L871.3 139.45L871.5 139.72L871.8 139.53L872.1 139.61L872.3 139.6L872.7 139.81L872.8 139.68L873.3 140.25L873.8 139.63L873.9 140.51L874.14 142.62L874.48 146.41L874.5 146.5L874.82 150.35L875.1 153.78L875.16 154.69L875.5 158.99L875.7 156.76L875.75 156.35L876 154.09L876.25 152.01L876.3 151.64L876.5 150.32L876.75 148.92L876.9 148.08L877 147.67L877.25 146.49L877.5 145.59L877.75 144.87L878 144.14L878.1 143.85L878.25 143.55L878.5 142.9L878.7 142.73L878.75 142.48L879 142.17L879.25 142.17L879.3 141.85L879.5 141.6L879.75 141.45L879.9 141.22L880 141.45L880.25 141.17L880.5 140.82L880.75 140.63L881 140.5L881.1 140.29L881.25 140.24L881.5 140.02L881.7 139.98L881.75 139.96L882 140.18L882.25 139.99L882.3 139.73L882.5 139.83L882.75 140.1L882.9 140.41L883 139.9L883.25 140.25L883.5 139.95L883.75 139.59L884 139.83L884.1 139.97L884.25 139.64L884.7 140.08L885.3 139.34L885.9 138.9L886.5 139.45L887.1 139.91L887.7 139.46L888.3 139.54L888.9 140.32L889.5 140.14L890.1 139.36L890.7 139.57L891.3 139.84L891.9 139.48L892.5 140.1L893.1 139.6L893.7 139.5L894.3 139.51L894.9 139.21L895.5 139.21L895.9 139.97L896.1 140.17L896.4 140.28L896.7 140.18L896.9 140.02L897.3 140.33L897.4 140.21L897.9 140.4L898.4 140.44L898.5 140.6L898.9 139.73L899.1 141.55L899.24 143.09L899.58 147.18L899.7 148.69L899.92 151.53L900.26 156.29L900.3 156.86L900.6 161.29L900.85 158.36L900.9 157.81L901.1 155.77L901.35 153.58L901.5 152.4L901.6 151.62L901.85 150.03L902.1 148.72L902.35 147.41L902.6 146.39L902.7 146.11L902.85 145.43L903.1 144.67L903.3 143.98L903.35 144.01L903.6 143.34L903.85 142.46L903.9 142.6L904.1 142.43L904.35 141.9L904.5 141.65L904.6 141.88L904.85 141.7L905.1 141.35L905.35 141.02L905.6 141.23L905.7 141.17L905.85 141.24L906.1 140.84L906.3 140.85L906.35 141L906.6 140.64L906.85 140.62L906.9 140.52L907.1 140.16L907.35 140.2L907.5 139.85L907.6 140.22L907.85 139.59L908.1 139.85L908.35 140.38L908.6 139.82L908.7 139.98L908.85 139.97L909.1 139.35L909.3 139.79L909.35 139.51L909.9 139.79L910.5 139.57L911.1 139.57L911.7 139.38L912.3 139.68L912.9 139.5L913.5 139.77L914.1 139.81L914.7 139.33L915.3 139.98L915.9 139.7L916.5 139.66L917.1 139.45L917.7 139.92L918.3 140.11L918.9 139.49L919.5 139.76L920.1 140L920.7 140.07L920.9 139.9L921.3 139.49L921.4 139.73L921.9 140.09L922.4 139.65L922.5 140.05L922.9 139.93L923.1 139.44L923.4 139.79L923.7 140.02L923.9 139.55L924.24 143.07L924.3 143.73L924.58 147.1L924.9 151.28L924.92 151.63L925.26 156.17L925.5 159.55L925.6 160.99L925.85 158.13L926.1 155.46L926.35 153.37L926.6 151.57L926.7 150.89L926.85 150.01L927.1 148.62L927.3 147.65L927.35 147.39L927.6 146.41L927.85 145.49L927.9 145.29L928.1 144.79L928.35 143.95L928.5 143.55L928.6 143.32L928.85 143.31L929.1 142.84L929.35 142.32L929.6 142.25L929.7 142.07L929.85 141.51L930.1 141.58L930.3 141.66L930.35 141.21L930.6 140.57L930.85 140.08L930.9 140.68L931.1 140.32L931.35 139.97L931.5 140.15L931.6 140.22L931.85 140.27L932.1 139.68L932.35 139.72L932.6 139.41L932.7 139.15L932.85 139.16L933.1 139.77L933.3 139.66L933.35 139.57L933.6 139.72L933.85 140.1L933.9 140.15L934.1 140.13L934.35 139.92L934.5 140.17L935.1 139.7L935.7 140.19L936.3 139.74L936.9 139.66L937.5 139.74L938.1 140.22L938.7 140.47L939.3 139.74L939.9 139.76L940.5 139.67L941.1 139.4L941.7 139.65L942.3 139.54L942.9 140.18L943.5 140.45L944.1 139.03L944.7 138.85L945.3 139.34L945.9 139.68L946 139.89L946.5 140.09L947 140L947.1 140.29L947.5 140.39L947.7 140.34L948 140.49L948.3 140.27L948.5 140.18L948.9 140.55L949 139.7L949.34 143.55L949.5 145.73L949.68 148.31L950.02 153.33L950.1 154.56L950.36 158.63L950.7 164.19L950.95 160.96L951.2 157.97L951.3 156.95L951.45 155.6L951.7 153.32L951.9 151.76L951.95 151.45L952.2 149.8L952.45 148.47L952.5 148.17L952.7 147.34L952.95 146.23L953.1 145.7L953.2 145.16L953.45 144.4L953.7 143.8L953.95 142.66L954.2 142.29L954.3 141.75L954.45 141.57L954.7 141.41L954.9 141.89L954.95 141.14L955.2 141.38L955.45 141.5L955.5 141.43L955.7 140.93L955.95 140.75L956.1 140.16L956.2 140.7L956.45 140.1L956.7 140.11L956.95 140.02L957.2 139.68L957.3 140.03L957.45 140.06L957.7 140.36L957.9 140.65L957.95 140.57L958.2 140.45L958.45 139.88L958.5 140.08L958.7 140.12L958.95 140.25L959.1 140.24L959.2 140.15L959.45 140.18L959.7 140.08L960.3 140.27L960.9 140.17L961.5 139.77L962.1 139.72L962.7 139.79L963.3 139.71L963.9 139.34L964.5 139.66L965.1 139.81L965.7 139.2L966.3 139.12L966.9 139.8L967.5 139.72L968.1 139.37L968.7 139.66L969.3 140.1L969.9 139.71L970.5 139.8L971 139.94L971.1 140.03L971.5 140.17L971.7 139.77L972 140.29L972.3 139.62L972.5 139.8L972.9 140.17L973 140.09L973.5 140.32L974 139.76L974.1 140.72L974.34 143.87L974.68 148.57L974.7 148.88L975.02 153.78L975.3 158.33L975.36 159.37L975.7 165.12L975.9 162.3L975.95 161.67L976.2 158.66L976.45 156.2L976.5 155.59L976.7 153.83L976.95 151.95L977.1 150.83L977.2 150.17L977.45 148.66L977.7 147.48L977.95 146.25L978.2 145.46L978.3 145.16L978.45 144.66L978.7 144.07L978.9 143.57L978.95 143.42L979.2 142.78L979.45 142.16L979.5 142.3L979.7 141.77L979.95 141.78L980.1 141.68L980.2 141.83L980.45 141.76L980.7 141.56L980.95 141.26L981.2 141.31L981.3 141.04L981.45 141.08L981.7 140.76L981.9 140.42L981.95 140.35L982.2 140.36L982.45 140.63L982.5 140.57L982.7 140.64L982.95 140.39L983.1 140.21L983.2 140.38L983.45 139.71L983.7 139.95L983.95 139.83L984.2 139.88L984.3 139.75L984.45 139.72L984.9 139.9L985.5 139.42L986.1 139.54L986.7 139.63L987.3 139.78L987.9 139.65L988.5 140.11L989.1 139.67L989.7 139.52L990.3 139.87L990.9 139.59L991.5 139.87L992.1 140.03L992.7 140.13L993.3 139.6L993.9 139.69L994.5 139.14L995.1 139.4L995.7 139.81L996 140.06L996.3 140.31L996.5 139.93L996.9 139.81L997 139.78L997.5 140.08L998 140.19L998.1 140.36L998.5 140.44L998.7 140.56L999 139.65L999.3 143.4L999.34 143.99L999.68 149.19L999.9 152.91L1000.02 154.87L1000.36 160.8L1000.5 163.39L1000.7 166.97L1000.95 163.33L1001.1 161.24L1001.2 159.98L1001.45 157.12L1001.7 154.84L1001.95 152.81L1002.2 151.15L1002.3 150.45L1002.45 149.5L1002.7 148.25L1002.9 147.17L1002.95 146.93L1003.2 145.99L1003.45 145L1003.5 144.83L1003.7 144.28L1003.95 143.82L1004.1 143.57L1004.2 143.27L1004.45 143.06L1004.7 142.73L1004.95 142.26L1005.2 141.64L1005.3 142.03L1005.45 141.5L1005.7 141.22L1005.9 141.2L1005.95 140.92L1006.2 140.71L1006.45 140.72L1006.5 140.26L1006.7 140.29L1006.95 140.32L1007.1 140.19L1007.2 140.1L1007.45 140.06L1007.7 139.94L1007.95 140.07L1008.2 139.98L1008.3 139.86L1008.45 139.7L1008.7 139.65L1008.9 139.43L1008.95 139.67L1009.2 140.14L1009.45 139.93L1009.5 140.38L1010.1 140.43L1010.7 139.56L1011.3 139.61L1011.9 140.02L1012.5 139.59L1013.1 139.33L1013.7 140.11L1014.3 140.14L1014.9 139.6L1015.5 139.22L1016.1 139.47L1016.7 139.4L1017.3 139.57L1017.9 139.25L1018.5 139.83L1019.1 139.42L1019.7 139.83L1020.3 139.73L1020.9 140.12L1021.1 140.37L1021.5 139.7L1021.6 140L1022.1 140.13L1022.6 139.98L1022.7 140.06L1023.1 139.85L1023.3 140L1023.6 140.32L1023.9 140.41L1024.1 139.7L1024.44 143.97L1024.5 144.96L1024.78 149.26L1025.1 154.76L1025.12 155.17L1025.46 161.29L1025.7 165.76L1025.8 167.64L1026.05 163.8L1026.3 160.44L1026.55 157.59L1026.8 155.27L1026.9 154.31L1027.05 153.22L1027.3 151.42L1027.5 149.99L1027.55 149.81L1027.8 148.39L1028.05 147.22L1028.1 146.89L1028.3 146.1L1028.55 145.2L1028.7 144.68L1028.8 144.51L1029.05 143.84L1029.3 143.4L1029.55 143.08L1029.8 142.37L1029.9 142L1030.05 142.04L1030.3 141.65L1030.5 141.78L1030.55 141.02L1030.8 140.66L1031.05 141.48L1031.1 140.86L1031.3 141.01L1031.55 140.85L1031.7 140.92L1031.8 140.88L1032.05 140.56L1032.3 140.38L1032.55 140L1032.8 140.29L1032.9 140.31L1033.05 140.39L1033.3 140.12L1033.5 140.07L1033.55 140.54L1033.8 140.15L1034.05 139.97L1034.1 139.77L1034.3 139.47L1034.55 139.47L1034.7 139.63L1035.3 139.87L1035.9 139.55L1036.5 139.56L1037.1 140.06L1037.7 140.02L1038.3 139.68L1038.9 139.72L1039.5 139.81L1040.1 139.64L1040.7 139.74L1041.3 139.82L1041.9 140.13L1042.5 140.46L1043.1 139.82L1043.7 139.52L1044.3 139.46L1044.9 140.01L1045.5 139.84L1046.1 139.5L1046.6 139.75L1046.7 139.34L1047.1 139.98L1047.3 139.68L1047.6 139.43L1047.9 139.56L1048.1 139.62L1048.5 139.69L1048.6 139.54L1049.1 139.65L1049.44 144.54L1049.7 148.72L1049.78 150.16L1050.12 156.3L1050.3 159.7L1050.46 162.67L1050.8 169.39L1050.9 167.74L1051.05 165.45L1051.3 162.04L1051.5 159.54L1051.55 158.91L1051.8 156.32L1052.05 154.03L1052.1 153.63L1052.3 152.1L1052.55 150.37L1052.7 149.33L1052.8 148.81L1053.05 147.48L1053.3 146.33L1053.55 145.66L1053.8 144.89L1053.9 144.58L1054.05 144.28L1054.3 144L1054.5 142.84L1054.55 143.48L1054.8 143.06L1055.05 142.26L1055.1 142.19L1055.3 141.72L1055.55 141.48L1055.7 141.24L1055.8 141.39L1056.05 140.57L1056.3 140.83L1056.55 141.02L1056.8 140.31L1056.9 140.43L1057.05 140.05L1057.3 140.39L1057.5 139.95L1057.55 139.94L1057.8 139.33L1058.05 139.68L1058.1 139.37L1058.3 139.69L1058.55 140.02L1058.7 140.38L1058.8 140.33L1059.05 140.01L1059.3 140.1L1059.55 140.11L1059.9 139.71L1060.5 140.13L1061.1 139.73L1061.7 139.37L1062.3 139.61L1062.9 140.04L1063.5 139.7L1064.1 139.99L1064.7 140.18L1065.3 139.67L1065.9 139.27L1066.5 139.58L1067.1 140.33L1067.7 139.84L1068.3 139.71L1068.9 139.88L1069.5 139.36L1070.1 138.91L1070.7 139.2L1071.2 139.44L1071.3 139.28L1071.7 139.56L1071.9 139.78L1072.2 140.05L1072.5 140.1L1072.7 140.19L1073.1 140.58L1073.2 140.47L1073.7 140.94L1074.2 139.89L1074.3 140.81L1074.54 144.37L1074.88 150.01L1074.9 150.45L1075.22 156.2L1075.5 161.49L1075.56 162.77L1075.9 169.43L1076.1 166.09L1076.15 165.44L1076.4 161.91L1076.65 158.9L1076.7 158.38L1076.9 156.21L1077.15 154.01L1077.3 152.68L1077.4 151.97L1077.65 150.38L1077.9 148.9L1078.15 147.55L1078.4 146.61L1078.5 146.09L1078.65 145.59L1078.9 144.76L1079.1 144.3L1079.15 143.94L1079.4 143.1L1079.65 142.97L1079.7 142.73L1079.9 142.5L1080.15 142.14L1080.3 141.63L1080.4 141.64L1080.65 141.71L1080.9 141.32L1081.15 141.1L1081.4 140.35L1081.5 140.71L1081.65 140.51L1081.9 140.5L1082.1 140.8L1082.15 140.65L1082.4 140.8L1082.65 140.63L1082.7 140.28L1082.9 140.38L1083.15 140.25L1083.3 140.27L1083.4 139.75L1083.65 139.78L1083.9 140.09L1084.15 140.28L1084.4 139.91L1084.5 139.97L1084.65 139.86L1085.1 139.28L1085.7 139.81L1086.3 139.64L1086.9 139.92L1087.5 139.75L1088.1 140.23L1088.7 139.7L1089.3 140.01L1089.9 139.97L1090.5 139.53L1091.1 139.57L1091.7 140.18L1092.3 139.87L1092.9 138.85L1093.5 139.43L1094.1 139.69L1094.7 139.81L1095.3 139.69L1095.9 140.12L1096.2 140.62L1096.5 140.26L1096.7 140.2L1097.1 139.86L1097.2 139.88L1097.7 139.81L1098.2 139.68L1098.3 140.09L1098.7 140.48L1098.9 140.93L1099.2 139.66L1099.5 144.19L1099.54 144.93L1099.88 151.31L1100.1 155.79L1100.22 158.27L1100.56 165.53L1100.7 168.66L1100.9 173.02L1101.15 168.56L1101.3 166.17L1101.4 164.59L1101.65 161.16L1101.9 158.29L1102.15 155.55L1102.4 153.32L1102.5 152.6L1102.65 151.5L1102.9 149.85L1103.1 148.67L1103.15 148.5L1103.4 147.27L1103.65 146.36L1103.7 146.12L1103.9 145.45L1104.15 144.78L1104.3 144.43L1104.4 144.16L1104.65 142.96L1104.9 143.15L1105.15 142.37L1105.4 142.18L1105.5 141.93L1105.65 141.74L1105.9 141.98L1106.1 141.33L1106.15 141.66L1106.4 140.75L1106.65 140.54L1106.7 140.33L1106.9 140.14L1107.15 139.9L1107.3 139.91L1107.4 140.08L1107.65 139.89L1107.9 139.86L1108.15 140.52L1108.4 139.97L1108.5 140.05L1108.65 140.23L1108.9 139.69L1109.1 140.24L1109.15 140.37L1109.4 140.14L1109.65 140.37L1109.7 140.2L1110.3 140.04L1110.9 139.97L1111.5 139.73L1112.1 139.97L1112.7 139.66L1113.3 139.93L1113.9 140.09L1114.5 139.72L1115.1 139.48L1115.7 139.3L1116.3 139.14L1116.9 139.49L1117.5 139.55L1118.1 140.16L1118.7 139.71L1119.3 139.35L1119.9 140.14L1120.5 139.85L1121.1 140.69L1121.3 140.31L1121.7 139.93L1121.8 139.89L1122.3 140.09L1122.8 140.44L1122.9 140.17L1123.3 140.5L1123.5 140.69L1123.8 140.4L1124.1 140.38L1124.3 139.62L1124.64 144.95L1124.7 146.04L1124.98 151.56L1125.3 158.1L1125.32 158.59L1125.66 166.05L1125.9 171.4L1126 173.63L1126.25 169.1L1126.5 165.02L1126.75 161.53L1127 158.62L1127.1 157.6L1127.25 156.04L1127.5 153.74L1127.7 152.23L1127.75 151.91L1128 150.14L1128.25 148.65L1128.3 148.46L1128.5 147.48L1128.75 146.38L1128.9 145.96L1129 145.52L1129.25 144.84L1129.5 144.61L1129.75 143.31L1130 143.64L1130.1 142.69L1130.25 142.62L1130.5 142.42L1130.7 141.61L1130.75 141.86L1131 141.77L1131.25 141.88L1131.3 141.27L1131.5 140.91L1131.75 141.29L1131.9 140.82L1132 141.03L1132.25 140.51L1132.5 140.47L1132.75 140.18L1133 140.13L1133.1 140.7L1133.25 140.43L1133.5 140.29L1133.7 139.72L1133.75 140.5L1134 139.91L1134.25 139.85L1134.3 140.18L1134.5 139.98L1134.75 140.18L1134.9 140.22L1135.5 139.87L1136.1 139.83L1136.7 140.16L1137.3 139.63L1137.9 139.09L1138.5 139.5L1139.1 139.9L1139.7 139.19L1140.3 139.33L1140.9 140.07L1141.5 140.06L1142.1 139.62L1142.7 139.97L1143.3 140.1L1143.9 139.76L1144.5 139.83L1145.1 139.79L1145.7 139.53L1146.3 139.94L1146.8 139.65L1146.9 139.7L1147.3 139.67L1147.5 139.09L1147.8 139.58L1148.1 139.1L1148.3 139.76L1148.7 139.81L1148.8 140.52L1149.3 139.71L1149.64 144.73L1149.9 149.47L1149.98 150.99L1150.32 157.7L1150.5 161.43L1150.66 164.67L1151 172.1L1151.1 170.36L1151.25 167.8L1151.5 163.86L1151.7 161.13L1151.75 160.4L1152 157.69L1152.25 155.2L1152.3 154.68L1152.5 153.08L1152.75 151.28L1152.9 150.22L1153 149.69L1153.25 148.31L1153.5 147.32L1153.75 146.22L1154 145.39L1154.1 145.12L1154.25 144.74L1154.5 143.95L1154.7 143.59L1154.75 143.23L1155 143L1155.25 142.35L1155.3 142.49L1155.5 141.55L1155.75 141.64L1155.9 141.61L1156 141.37L1156.25 141.03L1156.5 140.6L1156.75 140.37L1157 140.32L1157.1 139.91L1157.25 140.15L1157.5 140.38L1157.7 139.91L1157.75 139.93L1158 140.3L1158.25 140.26L1158.3 140.1L1158.5 140.74L1158.75 140.55L1158.9 140.44L1159 140.67L1159.25 139.89L1159.5 139.68L1159.75 139.61L1160.1 140.02L1160.7 139.82L1161.3 139.3L1161.9 139.55L1162.5 140.21L1163.1 140.3L1163.7 140.39L1164.3 139.79L1164.9 140.18L1165.5 139.59L1166.1 140.01L1166.7 139.97L1167.3 139.67L1167.9 139.44L1168.5 139.24L1169.1 139.17L1169.7 139L1170.3 139.45L1170.9 139.77L1171.4 139.86L1171.5 139.55L1171.9 140.09L1172.1 140.19L1172.4 140.2L1172.7 139.93L1172.9 139.99L1173.3 139.75L1173.4 140.35L1173.9 140.62L1174.4 139.82L1174.5 140.96L1174.74 144.58L1175.08 150.75L1175.1 151.04L1175.42 157.3L1175.7 162.96L1175.76 164.29L1176.1 171.5L1176.3 168.04L1176.35 167.05L1176.6 163.4L1176.85 160.06L1176.9 159.6L1177.1 157.05L1177.35 154.7L1177.5 153.39L1177.6 152.61L1177.85 150.82L1178.1 149.24L1178.35 148.09L1178.6 146.65L1178.7 146.51L1178.85 145.82L1179.1 144.98L1179.3 144.2L1179.35 143.91L1179.6 143.98L1179.85 143.35L1179.9 143.01L1180.1 142.78L1180.35 142.08L1180.5 142.35L1180.6 141.82L1180.85 141.6L1181.1 141.81L1181.35 141.1L1181.6 141.23L1181.7 141.2L1181.85 141.03L1182.1 140.73L1182.3 140.42L1182.35 140.62L1182.6 140.27L1182.85 140.12L1182.9 140.05L1183.1 140.55L1183.35 140.51L1183.5 140.07L1183.6 140.29L1183.85 140.3L1184.1 140.6L1184.35 139.7L1184.6 140.2L1184.7 139.95L1184.85 139.9L1185.3 140.05L1185.9 140.07L1186.5 139.6L1187.1 139.04L1187.7 139.26L1188.3 139.72L1188.9 139.55L1189.5 139.72L1190.1 139.75L1190.7 139.84L1191.3 139.95L1191.9 139.77L1192.5 139.64L1193.1 139.64L1193.7 139.97L1194.3 139.69L1194.9 139.73L1195.5 140.12L1196.1 139.92L1196.4 139.99L1196.7 139.58L1196.9 139.82L1197.3 139.73L1197.4 140.01L1197.9 140.12L1198.4 140.11L1198.5 140.37L1198.9 140.11L1199.1 140.68L1199.4 139.62L1199.7 144.17L1199.74 144.9L1200.08 151.2L1200.3 155.65L1200.42 158.19L1200.76 165.36L1200.9 168.49L1201.1 172.93L1201.35 168.39L1201.5 165.97L1201.6 164.45L1201.85 161.1L1202.1 158.15L1202.35 155.64L1202.6 153.56L1202.7 152.67L1202.85 151.66L1203.1 150.17L1203.3 148.94L1203.35 148.77L1203.6 147.51L1203.85 146.49L1203.9 146.31L1204.1 145.45L1204.35 145.12L1204.5 144.56L1204.6 144.24L1204.85 144.13L1205.1 143.54L1205.35 143.02L1205.6 142.58L1205.7 142.35L1205.85 141.53L1206.1 141.06L1206.3 140.99L1206.35 141.23L1206.6 140.69L1206.85 140.56L1206.9 140.63L1207.1 140.66L1207.35 140.64L1207.5 140.51L1207.6 140.87L1207.85 140.46L1208.1 140.54L1208.35 140.12L1208.6 139.77L1208.7 139.79L1208.85 140.03L1209.1 139.84L1209.3 139.91L1209.35 140.21L1209.6 140.5L1209.85 140.49L1209.9 140.42L1210.5 139.64L1211.1 139.17L1211.7 140.45L1212.3 140.58L1212.9 140.9L1213.5 140.69L1214.1 140.86L1214.7 140.53L1215.3 140.48L1215.9 139.92L1216.5 140.86L1217.1 140.93L1217.7 140.42L1218.3 140.23L1218.9 140.07L1219.5 139.55L1220.1 139.99L1220.7 139.85L1221.3 140.58L1221.9 140.58L1222.5 140.16L1222.6 139.88" stroke="#3a3a3a" stroke-width="1.1" fill="none" stroke-linejoin="round"/>
<ellipse cx="764.5" cy="339.3" rx="2.5" ry="3.2" fill="url(#dg)"/>
<ellipse cx="786.1" cy="338.7" rx="2.5" ry="3.2" fill="url(#dg)"/>
<ellipse cx="808.3" cy="336.9" rx="2.5" ry="3.2" fill="url(#dg)"/>
<ellipse cx="830.7" cy="333.2" rx="2.5" ry="3.2" fill="url(#dg)"/>
<ellipse cx="853.3" cy="333.7" rx="2.5" ry="3.2" fill="url(#dg)"/>
<ellipse cx="876.3" cy="335.8" rx="2.5" ry="3.2" fill="url(#dg)"/>
<ellipse cx="899.7" cy="341.1" rx="2.5" ry="3.2" fill="url(#dg)"/>
<ellipse cx="923.7" cy="338.7" rx="2.5" ry="3.2" fill="url(#dg)"/>
<ellipse cx="947.7" cy="341.1" rx="2.5" ry="3.2" fill="url(#dg)"/>
<ellipse cx="972.2" cy="346.6" rx="2.5" ry="3.2" fill="url(#dg)"/>
<ellipse cx="997" cy="344.3" rx="2.5" ry="3.2" fill="url(#dg)"/>
<ellipse cx="1022.3" cy="351.1" rx="2.5" ry="3.2" fill="url(#dg)"/>
<ellipse cx="1047.3" cy="350.1" rx="2.5" ry="3.2" fill="url(#dg)"/>
<ellipse cx="1073.4" cy="347.2" rx="2.5" ry="3.2" fill="url(#dg)"/>
<ellipse cx="1099.8" cy="354" rx="2.5" ry="3.2" fill="url(#dg)"/>
<ellipse cx="1126.7" cy="356.4" rx="2.5" ry="3.2" fill="url(#dg)"/>
<ellipse cx="1153.8" cy="351.6" rx="2.5" ry="3.2" fill="url(#dg)"/>
<ellipse cx="1181.2" cy="346.6" rx="2.5" ry="3.2" fill="url(#dg)"/>
<ellipse cx="1209.2" cy="354" rx="2.5" ry="3.2" fill="url(#dg)"/>
<text x="669.5" y="41" font-size="57" font-weight="bold">b</text>
<text x="986.4" y="63.7" font-size="32.4" text-anchor="middle">Time (s)</text>
<text x="722.4" y="106.8" class="tk" text-anchor="middle">0</text>
<text x="818.8" y="106.8" class="tk" text-anchor="middle">1000</text>
<text x="915.2" y="106.8" class="tk" text-anchor="middle">2000</text>
<text x="1011.6" y="106.8" class="tk" text-anchor="middle">3000</text>
<text x="1108" y="106.8" class="tk" text-anchor="middle">4000</text>
<text x="1204.4" y="106.8" class="tk" text-anchor="middle">5000</text>
<text x="711.6" y="149.9" class="tk" text-anchor="end">0</text>
<text x="711.6" y="200.9" class="tk" text-anchor="end">-0.5</text>
<text x="711.6" y="254.3" class="tk" text-anchor="end">-1.0</text>
<text x="711.6" y="307.7" class="tk" text-anchor="end">-1.5</text>
<text x="711.6" y="356.68" class="tk" text-anchor="end">-10</text>
<text x="711.6" y="395.16" class="tk" text-anchor="end">-20</text>
<text x="711.6" y="433.64" class="tk" text-anchor="end">-30</text>
<text x="711.6" y="472.12" class="tk" text-anchor="end">-40</text>
<text x="711.6" y="511.4" class="tk" text-anchor="end">-50</text>
<text x="722.4" y="531.7" class="tk" text-anchor="middle">0</text>
<text x="798.14" y="531.7" class="tk" text-anchor="middle">0.5</text>
<text x="873.89" y="531.7" class="tk" text-anchor="middle">1</text>
<text x="949.63" y="531.7" class="tk" text-anchor="middle">1.5</text>
<text x="1025.37" y="531.7" class="tk" text-anchor="middle">2</text>
<text x="1101.11" y="531.7" class="tk" text-anchor="middle">2.5</text>
<text x="1176.86" y="531.7" class="tk" text-anchor="middle">3</text>
<text x="1252.6" y="531.7" class="tk" text-anchor="middle">3.5</text>
<text x="985.5" y="577.6" font-size="32.05" text-anchor="middle">Molar Ratio of Cdc5:Spc72</text>
</g>
<g id="pc">
<path d="M1351.6 110.9L1351.6 511.8M1881.5 110.9L1881.5 511.8M1351.6 118.9L1881.5 118.9M1345.1 310.4L1881.5 310.4M1345.1 502.8L1881.5 502.8M1399.77 110.9L1399.77 126.9M1447.95 110.9L1447.95 126.9M1496.12 110.9L1496.12 126.9M1544.29 110.9L1544.29 126.9M1592.46 110.9L1592.46 126.9M1640.64 110.9L1640.64 126.9M1688.81 110.9L1688.81 126.9M1736.98 110.9L1736.98 126.9M1785.15 110.9L1785.15 126.9M1833.33 110.9L1833.33 126.9M1345.1 139.5L1357.1 139.5M1345.1 192.9L1357.1 192.9M1345.1 246.3L1357.1 246.3M1345.1 299.7L1357.1 299.7M1427.3 494.8L1427.3 511.8M1503 494.8L1503 511.8M1578.7 494.8L1578.7 511.8M1654.4 494.8L1654.4 511.8M1730.1 494.8L1730.1 511.8M1805.8 494.8L1805.8 511.8M1345.1 348.88L1357.1 348.88M1345.1 387.36L1357.1 387.36M1345.1 425.84L1357.1 425.84M1345.1 464.32L1357.1 464.32" stroke="#6b6b6b" stroke-width="1.3" fill="none"/>
<path d="M1351.9 140.34L1352.1 139.4L1352.44 141.73L1352.5 142.26L1352.78 144.65L1353.1 147.64L1353.12 147.75L1353.46 151.18L1353.7 153.69L1353.8 154.79L1354.05 152.74L1354.3 150.82L1354.55 149.22L1354.8 147.87L1354.9 147.27L1355.05 146.67L1355.3 145.59L1355.5 144.9L1355.55 144.89L1355.8 144.12L1356.05 143.42L1356.1 143.28L1356.3 142.84L1356.55 142.27L1356.7 142L1356.8 141.94L1357.05 141.55L1357.3 141.17L1357.55 141.01L1357.8 140.75L1357.9 140.71L1358.05 140.39L1358.3 140.35L1358.5 139.97L1358.55 140.43L1358.8 140.36L1359.05 139.73L1359.1 140.01L1359.3 139.8L1359.55 139.75L1359.7 139.67L1359.8 139.85L1360.05 139.59L1360.3 139.18L1360.55 139.27L1360.8 139.18L1360.9 139L1361.05 139.19L1361.3 139.16L1361.5 139.48L1361.55 139.18L1361.8 139.38L1362.05 138.91L1362.1 139.04L1362.3 139.48L1362.55 139.48L1362.7 139.64L1363.3 139.22L1363.9 139.38L1364.5 138.94L1365.1 139.19L1365.7 139.11L1366.3 139.07L1366.9 138.99L1367.5 139.32L1368.1 138.83L1368.7 138.86L1369.3 139.27L1369.9 139.14L1370.5 139.39L1371.1 139.19L1371.7 139.21L1372.3 139.01L1372.9 139.33L1373.5 139.41L1374.1 139.14L1374.5 139.27L1374.7 139.27L1375 139.06L1375.3 139.05L1375.5 139.52L1375.9 139.5L1376 139.56L1376.5 140.13L1377 140.84L1377.1 140.06L1377.5 139.4L1377.7 151.09L1377.84 160.87L1378.18 187.24L1378.3 196.99L1378.52 215.67L1378.86 245.52L1378.9 249.08L1379.2 276.47L1379.45 257.7L1379.5 254.2L1379.7 241.43L1379.95 227.48L1380.1 220L1380.2 215.35L1380.45 205.07L1380.7 195.95L1380.95 188.23L1381.2 181.55L1381.3 179.01L1381.45 175.94L1381.7 170.78L1381.9 167.39L1381.95 166.41L1382.2 162.84L1382.45 159.7L1382.5 159.35L1382.7 157.57L1382.95 155.08L1383.1 153.75L1383.2 152.91L1383.45 150.56L1383.7 148.99L1383.95 147.82L1384.2 146.66L1384.3 146L1384.45 145.35L1384.7 144.36L1384.9 143.71L1384.95 143.51L1385.2 142.5L1385.45 142.33L1385.5 141.86L1385.7 141.37L1385.95 141.31L1386.1 140.84L1386.2 140.78L1386.45 140.81L1386.7 140.48L1386.95 140.38L1387.2 140.6L1387.3 140.72L1387.45 140.63L1387.7 140.62L1387.9 140.09L1387.95 140.5L1388.5 140.07L1389.1 139.48L1389.7 139.28L1390.3 139.26L1390.9 139.27L1391.5 139.19L1392.1 139.69L1392.7 139.63L1393.3 139.66L1393.9 139.29L1394.5 138.81L1395.1 138.87L1395.7 139.1L1396.3 138.78L1396.9 139L1397.5 139.3L1398.1 139.19L1398.7 139.31L1399.3 139.69L1399.4 139.46L1399.9 139.63L1400.4 139.65L1400.5 139.96L1400.9 139.94L1401.1 140.01L1401.4 140.06L1401.7 140.06L1401.9 140.07L1402.3 141.22L1402.4 139.22L1402.74 159.82L1402.9 171.18L1403.08 184.86L1403.42 211.97L1403.5 218.5L1403.76 240.6L1404.1 270.21L1404.35 252.19L1404.6 236.81L1404.7 231.24L1404.85 223.44L1405.1 211.93L1405.3 203.85L1405.35 201.97L1405.6 193.32L1405.85 185.99L1405.9 184.69L1406.1 179.62L1406.35 174.17L1406.5 171.17L1406.6 169.28L1406.85 165.12L1407.1 161.57L1407.35 158.45L1407.6 155.73L1407.7 154.26L1407.85 153.58L1408.1 151.83L1408.3 150.02L1408.35 149.94L1408.6 148.27L1408.85 147.46L1408.9 146.82L1409.1 146.1L1409.35 145.49L1409.5 144.89L1409.6 144.33L1409.85 143.93L1410.1 143.21L1410.35 142.78L1410.6 142.44L1410.7 142.31L1410.85 141.6L1411.1 141.3L1411.3 141.35L1411.35 141.13L1411.6 140.32L1411.85 140.92L1411.9 140.43L1412.1 140.46L1412.35 140.21L1412.5 140.19L1412.6 140.33L1412.85 139.74L1413.1 139.96L1413.7 139.58L1414.3 139.6L1414.9 139.42L1415.5 139.32L1416.1 138.97L1416.7 139.45L1417.3 139.08L1417.9 139.19L1418.5 139.34L1419.1 139.44L1419.7 139.51L1420.3 139.33L1420.9 139.34L1421.5 138.57L1422.1 138.97L1422.7 139.06L1423.3 138.98L1423.9 139.31L1424.5 139.8L1424.6 139.83L1425.1 139.64L1425.6 138.94L1425.7 139.73L1426.1 139.27L1426.3 139.94L1426.6 139.41L1426.9 139.69L1427.1 139.64L1427.5 140.27L1427.6 139.14L1427.94 157.7L1428.1 168.14L1428.28 180.45L1428.62 204.9L1428.7 211.03L1428.96 230.85L1429.3 257.81L1429.55 241.56L1429.8 227.74L1429.9 222.6L1430.05 215.74L1430.3 205.18L1430.5 197.95L1430.55 196.12L1430.8 188.44L1431.05 181.67L1431.1 180.52L1431.3 176L1431.55 170.96L1431.7 168.18L1431.8 166.48L1432.05 162.77L1432.3 159.47L1432.55 156.92L1432.8 154.22L1432.9 153.34L1433.05 151.65L1433.3 149.84L1433.5 148.52L1433.55 148.48L1433.8 147.12L1434.05 145.45L1434.1 145.94L1434.3 145.31L1434.55 143.72L1434.7 143.46L1434.8 143.52L1435.05 142.58L1435.3 142.12L1435.55 141.68L1435.8 140.98L1435.9 141.1L1436.05 140.8L1436.3 140.76L1436.5 140.72L1436.55 140.75L1436.8 140.63L1437.05 140.43L1437.1 140.61L1437.3 140.96L1437.55 140.36L1437.7 139.89L1437.8 140.29L1438.05 140.23L1438.3 140.08L1438.9 140.21L1439.5 140L1440.1 139.87L1440.7 139.56L1441.3 139.54L1441.9 138.88L1442.5 138.51L1443.1 137.94L1443.7 138.06L1444.3 138.48L1444.9 139.2L1445.5 139.31L1446.1 139.93L1446.7 140.19L1447.3 139.93L1447.9 139.89L1448.5 139.29L1449.1 139.25L1449.6 139.23L1449.7 139.35L1450.1 139.42L1450.3 139L1450.6 138.94L1450.9 139.02L1451.1 139.45L1451.5 139.44L1451.6 139.58L1452.1 139.57L1452.6 139.08L1452.7 143.21L1452.94 155.72L1453.28 176.23L1453.3 177.53L1453.62 198.35L1453.9 217.36L1453.96 221.57L1454.3 245.78L1454.5 233.99L1454.55 231.27L1454.8 218.72L1455.05 207.89L1455.1 205.94L1455.3 198.54L1455.55 190.38L1455.7 186.19L1455.8 183.41L1456.05 177.38L1456.3 172.18L1456.55 167.72L1456.8 163.73L1456.9 162.45L1457.05 160.38L1457.3 157.4L1457.5 154.74L1457.55 154.8L1457.8 152.46L1458.05 150.48L1458.1 150.06L1458.3 148.64L1458.55 147.38L1458.7 146.37L1458.8 145.87L1459.05 145.36L1459.3 144.25L1459.55 143.67L1459.8 143.37L1459.9 143.49L1460.05 143.3L1460.3 142.78L1460.5 142.01L1460.55 142.58L1460.8 142.36L1461.05 141.75L1461.1 141.81L1461.3 141.21L1461.55 140.98L1461.7 140.92L1461.8 140.82L1462.05 140.55L1462.3 140.42L1462.55 140.12L1462.8 140.26L1462.9 139.6L1463.05 140.11L1463.5 139.8L1464.1 139.29L1464.7 139.07L1465.3 139.27L1465.9 139.06L1466.5 139.26L1467.1 139.17L1467.7 139.06L1468.3 139.68L1468.9 139.62L1469.5 139.56L1470.1 139.92L1470.7 139.87L1471.3 139.37L1471.9 139.13L1472.5 138.94L1473.1 139.01L1473.7 139.15L1474.3 139.16L1474.7 139.13L1474.9 138.85L1475.2 139.11L1475.5 139.18L1475.7 139.3L1476.1 139.38L1476.2 139.5L1476.7 139.69L1477.2 140.42L1477.3 140.3L1477.7 139.4L1477.9 147.39L1478.04 154.31L1478.38 172.39L1478.5 179.19L1478.72 192.1L1479.06 212.61L1479.1 215.21L1479.4 233.96L1479.65 221.04L1479.7 218.67L1479.9 209.79L1480.15 200.06L1480.3 195.01L1480.4 191.7L1480.65 184.51L1480.9 178.2L1481.15 172.91L1481.4 168.17L1481.5 166.67L1481.65 164.31L1481.9 160.9L1482.1 158.39L1482.15 157.9L1482.4 155.36L1482.65 152.54L1482.7 152.23L1482.9 150.73L1483.15 149.49L1483.3 148.72L1483.4 148.12L1483.65 146.68L1483.9 145.91L1484.15 145.04L1484.4 144.13L1484.5 144.32L1484.65 144.14L1484.9 143.52L1485.1 142.68L1485.15 142.95L1485.4 141.95L1485.65 141.76L1485.7 142.06L1485.9 141.59L1486.15 141.46L1486.3 141.74L1486.4 141.27L1486.65 141.23L1486.9 140.86L1487.15 140.81L1487.4 140.65L1487.5 140.34L1487.65 140.09L1487.9 140.17L1488.1 139.65L1488.15 140.05L1488.7 139.47L1489.3 139.03L1489.9 138.12L1490.5 138.6L1491.1 138.58L1491.7 139.23L1492.3 139.52L1492.9 140.09L1493.5 139.97L1494.1 140.09L1494.7 139.32L1495.3 138.76L1495.9 138.9L1496.5 138.43L1497.1 138.61L1497.7 138.8L1498.3 139.25L1498.9 139.04L1499.5 139.4L1499.7 139.32L1500.1 139.28L1500.2 139.46L1500.7 139.69L1501.2 139.65L1501.3 139.99L1501.7 139.85L1501.9 140.29L1502.2 140.92L1502.5 140.96L1502.7 139.35L1503.04 152.2L1503.1 154.81L1503.38 167.78L1503.7 183.68L1503.72 184.67L1504.06 202.43L1504.3 215.48L1504.4 220.96L1504.65 209.71L1504.9 200.1L1505.15 191.66L1505.4 184.57L1505.5 181.76L1505.65 178.28L1505.9 172.89L1506.1 169.22L1506.15 168.28L1506.4 164.44L1506.65 161.05L1506.7 160.39L1506.9 158.03L1507.15 155.55L1507.3 154.17L1507.4 153.38L1507.65 151.63L1507.9 150.12L1508.15 148.67L1508.4 147.91L1508.5 147.32L1508.65 146.35L1508.9 145.66L1509.1 145.3L1509.15 144.86L1509.4 143.92L1509.65 143.38L1509.7 143.43L1509.9 143.14L1510.15 142.2L1510.3 141.63L1510.4 141.89L1510.65 141.28L1510.9 140.56L1511.15 140.18L1511.4 140.03L1511.5 139.69L1511.65 139.58L1511.9 139.68L1512.1 139.6L1512.15 139.47L1512.4 139.04L1512.65 139.13L1512.7 138.77L1512.9 139.08L1513.15 138.77L1513.3 139.28L1513.9 139.05L1514.5 139.32L1515.1 139.57L1515.7 140.01L1516.3 139.8L1516.9 140L1517.5 139.97L1518.1 140.02L1518.7 139.32L1519.3 139.07L1519.9 138.81L1520.5 138.78L1521.1 137.96L1521.7 138.18L1522.3 138.92L1522.9 139.47L1523.5 139.43L1524.1 139.64L1524.7 139.91L1524.8 140.2L1525.3 140.08L1525.8 139.81L1525.9 140.2L1526.3 139.68L1526.5 139.91L1526.8 139.88L1527.1 139.82L1527.3 140.19L1527.7 140.53L1527.8 139.24L1528.14 150.28L1528.3 156.38L1528.48 163.67L1528.82 178.16L1528.9 181.55L1529.16 193.34L1529.5 209.24L1529.75 199.62L1530 191.39L1530.1 188.32L1530.25 184.27L1530.5 177.98L1530.7 173.6L1530.75 172.7L1531 168.04L1531.25 164.09L1531.3 163.47L1531.5 160.7L1531.75 157.76L1531.9 156.2L1532 155.13L1532.25 153.01L1532.5 151.15L1532.75 149.83L1533 148.36L1533.1 148L1533.25 147.31L1533.5 146.2L1533.7 145.92L1533.75 145.78L1534 144.95L1534.25 144.35L1534.3 143.81L1534.5 143.59L1534.75 143.18L1534.9 142.95L1535 142.22L1535.25 141.88L1535.5 141.9L1535.75 141.13L1536 140.75L1536.1 140.65L1536.25 140.76L1536.5 140.28L1536.7 139.85L1536.75 139.86L1537 139.82L1537.25 139.22L1537.3 139.29L1537.5 138.88L1537.75 139.31L1537.9 139.23L1538 138.76L1538.25 139.08L1538.5 138.62L1539.1 139.09L1539.7 139.39L1540.3 139.1L1540.9 139.23L1541.5 139.58L1542.1 139.22L1542.7 139.32L1543.3 139.47L1543.9 139.53L1544.5 138.89L1545.1 139.11L1545.7 139.56L1546.3 139.39L1546.9 139.36L1547.5 139.15L1548.1 139.47L1548.7 139.18L1549.3 139.29L1549.8 139.45L1549.9 139.03L1550.3 139.22L1550.5 139.29L1550.8 139.46L1551.1 139.48L1551.3 139.26L1551.7 139.63L1551.8 139.7L1552.3 140L1552.8 139.08L1552.9 141.41L1553.14 148.65L1553.48 160.03L1553.5 160.91L1553.82 172.64L1554.1 183.43L1554.16 185.7L1554.5 199.4L1554.7 192.73L1554.75 191.29L1555 184.25L1555.25 178.01L1555.3 177.03L1555.5 172.78L1555.75 168.18L1555.9 165.8L1556 164.25L1556.25 160.88L1556.5 157.95L1556.75 155.27L1557 153.05L1557.1 152.33L1557.25 151.08L1557.5 149.36L1557.7 147.9L1557.75 147.74L1558 146.43L1558.25 145.35L1558.3 145.16L1558.5 144.26L1558.75 143.63L1558.9 142.58L1559 142.72L1559.25 141.97L1559.5 141.65L1559.75 141.59L1560 140.91L1560.1 141.16L1560.25 140.75L1560.5 140.86L1560.7 140.52L1560.75 140.82L1561 141.05L1561.25 140.74L1561.3 140.47L1561.5 140.52L1561.75 140.51L1561.9 140.43L1562 140.35L1562.25 139.97L1562.5 140.14L1562.75 139.5L1563 139.63L1563.1 139.69L1563.25 139.77L1563.7 139.45L1564.3 139.85L1564.9 140.14L1565.5 139.59L1566.1 139.68L1566.7 139.19L1567.3 139.06L1567.9 138.09L1568.5 138.24L1569.1 138.37L1569.7 138.69L1570.3 139.66L1570.9 139.81L1571.5 140L1572.1 139.99L1572.7 139.13L1573.3 139.16L1573.9 138.78L1574.5 138.78L1575 138.92L1575.1 139.07L1575.5 138.96L1575.7 139.25L1576 139.24L1576.3 139.62L1576.5 140L1576.9 139.46L1577 139.91L1577.5 139.86L1578 139.09L1578.1 140.98L1578.34 146.8L1578.68 156.23L1578.7 156.7L1579.02 166.44L1579.3 175.08L1579.36 177.11L1579.7 188.11L1579.9 182.82L1579.95 181.51L1580.2 175.72L1580.45 170.88L1580.5 169.82L1580.7 166.39L1580.95 162.71L1581.1 160.75L1581.2 159.51L1581.45 156.77L1581.7 154.36L1581.95 152.18L1582.2 150.45L1582.3 149.82L1582.45 148.99L1582.7 147.52L1582.9 146.68L1582.95 146.54L1583.2 145.12L1583.45 144.5L1583.5 144.36L1583.7 143.67L1583.95 143.05L1584.1 142.61L1584.2 142.29L1584.45 142.04L1584.7 141.68L1584.95 141.09L1585.2 140.98L1585.3 140.66L1585.45 140.91L1585.7 140.98L1585.9 140.13L1585.95 140.51L1586.2 139.79L1586.45 139.79L1586.5 139.22L1586.7 139.63L1586.95 139.82L1587.1 139.5L1587.2 139.8L1587.45 139.72L1587.7 139.74L1587.95 139.67L1588.2 139.53L1588.3 139.75L1588.45 139.78L1588.9 139.39L1589.5 139.88L1590.1 139.45L1590.7 139.79L1591.3 138.93L1591.9 138.93L1592.5 139.01L1593.1 138.84L1593.7 139.07L1594.3 138.86L1594.9 138.89L1595.5 139.27L1596.1 139.32L1596.7 139.54L1597.3 139.98L1597.9 139.48L1598.5 139.51L1599.1 138.97L1599.7 138.99L1600.3 138.77L1600.8 138.64L1600.9 138.85L1601.3 139.09L1601.5 139.24L1601.8 139.29L1602.1 139.64L1602.3 139.71L1602.7 140.5L1602.8 140.44L1603.3 139.32L1603.64 146.33L1603.9 152.74L1603.98 154.76L1604.32 163.93L1604.5 168.87L1604.66 173.46L1605 183.51L1605.1 180.88L1605.25 177.45L1605.5 172.24L1605.7 168.5L1605.75 167.63L1606 163.68L1606.25 160.39L1606.3 159.74L1606.5 157.36L1606.75 154.87L1606.9 153.63L1607 152.75L1607.25 151.03L1607.5 149.33L1607.75 147.92L1608 146.86L1608.1 146.47L1608.25 145.73L1608.5 144.83L1608.7 144.08L1608.75 143.94L1609 143.17L1609.25 142.78L1609.3 142.29L1609.5 141.99L1609.75 141.27L1609.9 141.65L1610 141.18L1610.25 140.48L1610.5 140.26L1610.75 140.32L1611 140.76L1611.1 140.38L1611.25 140.21L1611.5 140.48L1611.7 140.4L1611.75 140.14L1612 140.24L1612.25 140.02L1612.3 139.92L1612.5 140.01L1612.75 140.5L1612.9 140L1613 140.44L1613.25 139.74L1613.5 139.74L1613.75 140.21L1614.1 139.72L1614.7 139.37L1615.3 139.59L1615.9 139.17L1616.5 138.88L1617.1 138.9L1617.7 138.59L1618.3 138.93L1618.9 139.22L1619.5 139.08L1620.1 139.32L1620.7 138.98L1621.3 139.8L1621.9 139.3L1622.5 139.25L1623.1 139.52L1623.7 139.58L1624.3 139.09L1624.9 139.09L1625.2 138.99L1625.5 138.78L1625.7 139.07L1626.1 139.2L1626.2 139.25L1626.7 139.21L1627.2 139.54L1627.3 139.46L1627.7 140.08L1627.9 139.91L1628.2 139.18L1628.5 144.42L1628.54 145.18L1628.88 152.58L1629.1 157.72L1629.22 160.58L1629.56 168.77L1629.7 172.29L1629.9 177.43L1630.15 172.21L1630.3 169.33L1630.4 167.58L1630.65 163.79L1630.9 160.4L1631.15 157.51L1631.4 155.05L1631.5 154L1631.65 152.84L1631.9 151.05L1632.1 149.64L1632.15 149.34L1632.4 148.04L1632.65 146.76L1632.7 146.5L1632.9 145.86L1633.15 144.62L1633.3 144.9L1633.4 144.49L1633.65 143.56L1633.9 143.1L1634.15 142.28L1634.4 142.21L1634.5 142.2L1634.65 141.68L1634.9 140.92L1635.1 140.91L1635.15 140.96L1635.4 140.5L1635.65 140.01L1635.7 139.76L1635.9 140.1L1636.15 139.76L1636.3 139.54L1636.4 139.79L1636.65 139.7L1636.9 139.22L1637.15 139.57L1637.4 139.79L1637.5 139.68L1637.65 139.35L1637.9 139.14L1638.1 139.38L1638.15 139.87L1638.4 139.82L1638.65 139.2L1638.7 140.03L1639.3 139.53L1639.9 139.63L1640.5 139.19L1641.1 139.03L1641.7 139.13L1642.3 139.14L1642.9 138.99L1643.5 139.48L1644.1 139.54L1644.7 139.57L1645.3 139.23L1645.9 138.64L1646.5 138.6L1647.1 138.87L1647.7 138.81L1648.3 138.72L1648.9 139.1L1649.5 139.38L1650.1 139.65L1650.2 139.47L1650.7 139.8L1651.2 140.07L1651.3 139.85L1651.7 139.75L1651.9 140.42L1652.2 140.36L1652.5 140.52L1652.7 140.67L1653.1 140.62L1653.2 139.21L1653.54 144.38L1653.7 147.19L1653.88 150.63L1654.22 157.45L1654.3 159.13L1654.56 164.59L1654.9 172.12L1655.15 167.5L1655.4 163.54L1655.5 162.21L1655.65 160.31L1655.9 157.3L1656.1 155.26L1656.15 154.95L1656.4 152.69L1656.65 150.88L1656.7 150.62L1656.9 149.35L1657.15 148.08L1657.3 147.27L1657.4 146.82L1657.65 145.9L1657.9 145.06L1658.15 144.54L1658.4 143.67L1658.5 143.58L1658.65 143.16L1658.9 142.89L1659.1 142.64L1659.15 142.43L1659.4 142.47L1659.65 141.81L1659.7 142.02L1659.9 141.42L1660.15 141.18L1660.3 141.31L1660.4 140.7L1660.65 140.33L1660.9 140.19L1661.15 140.26L1661.4 139.79L1661.5 139.89L1661.65 140.02L1661.9 139.74L1662.1 139.46L1662.15 139.89L1662.4 139.66L1662.65 139.54L1662.7 139.31L1662.9 139.2L1663.15 138.87L1663.3 139.05L1663.4 138.97L1663.65 138.77L1663.9 138.45L1664.5 138.81L1665.1 138.81L1665.7 139.39L1666.3 139.33L1666.9 139.28L1667.5 139.64L1668.1 139.2L1668.7 138.89L1669.3 139.16L1669.9 139.56L1670.5 139.52L1671.1 139.48L1671.7 139.03L1672.3 139.14L1672.9 138.68L1673.5 138.48L1674.1 139.02L1674.7 139.04L1675.3 139.65L1675.8 140.21L1675.9 139.58L1676.3 139.76L1676.5 139.62L1676.8 140.25L1677.1 139.92L1677.3 139.91L1677.7 139.8L1677.8 139.75L1678.3 139L1678.64 143.92L1678.9 148.46L1678.98 149.9L1679.32 156.44L1679.5 160L1679.66 163.15L1680 170.28L1680.1 168.58L1680.25 166.07L1680.5 162.54L1680.7 159.94L1680.75 159.4L1681 156.66L1681.25 154.23L1681.3 153.7L1681.5 152.23L1681.75 150.51L1681.9 149.49L1682 148.87L1682.25 147.55L1682.5 146.42L1682.75 145.22L1683 144.49L1683.1 144.11L1683.25 143.71L1683.5 142.95L1683.7 142.12L1683.75 142.21L1684 141.92L1684.25 141.43L1684.3 141.25L1684.5 141.18L1684.75 140.93L1684.9 140.91L1685 140.82L1685.25 140.64L1685.5 140.37L1685.75 140.04L1686 140.57L1686.1 140.77L1686.25 140.47L1686.5 140.45L1686.7 139.88L1686.75 139.88L1687 139.97L1687.25 139.81L1687.3 139.88L1687.5 139.38L1687.75 139.47L1687.9 139.91L1688 139.96L1688.25 139.53L1688.5 139.21L1688.75 139.35L1689.1 139.16L1689.7 138.93L1690.3 139.05L1690.9 139.17L1691.5 139.06L1692.1 139.24L1692.7 138.56L1693.3 139.36L1693.9 139.74L1694.5 139.41L1695.1 139.73L1695.7 139.24L1696.3 139.33L1696.9 139.43L1697.5 138.87L1698.1 139.01L1698.7 139.39L1699.3 139.02L1699.9 139.26L1700.3 139.15L1700.5 139.29L1700.8 139.65L1701.1 139.18L1701.3 139.66L1701.7 139.44L1701.8 139.8L1702.3 139.68L1702.8 139.66L1702.9 139.67L1703.3 139.14L1703.5 141.5L1703.64 143.39L1703.98 148.63L1704.1 150.58L1704.32 154.18L1704.66 160.1L1704.7 160.88L1705 166.27L1705.25 162.54L1705.3 161.89L1705.5 159.45L1705.75 156.6L1705.9 155.13L1706 154.3L1706.25 152.26L1706.5 150.52L1706.75 149L1707 147.61L1707.1 147.17L1707.25 146.39L1707.5 145.51L1707.7 144.77L1707.75 144.73L1708 143.92L1708.25 143.04L1708.3 143.21L1708.5 142.82L1708.75 142.4L1708.9 141.69L1709 141.62L1709.25 141.56L1709.5 140.79L1709.75 140.67L1710 140.33L1710.1 140.33L1710.25 139.9L1710.5 139.87L1710.7 139.57L1710.75 139.44L1711 139.95L1711.25 139.77L1711.3 139.87L1711.5 139.97L1711.75 140.06L1711.9 139.79L1712 139.77L1712.25 139.62L1712.5 140.01L1712.75 139.58L1713 140.16L1713.1 139.71L1713.25 139.94L1713.5 139.91L1713.7 139.51L1713.75 139.54L1714.3 138.97L1714.9 138.94L1715.5 138.5L1716.1 138.73L1716.7 139.03L1717.3 139.14L1717.9 139.48L1718.5 139.43L1719.1 139.6L1719.7 139.62L1720.3 139.44L1720.9 139.26L1721.5 139.44L1722.1 139.31L1722.7 138.86L1723.3 138.8L1723.9 138.94L1724.5 138.8L1725.1 138.88L1725.4 138.99L1725.7 139.14L1725.9 139.1L1726.3 139.53L1726.4 139.62L1726.9 140.03L1727.4 140L1727.5 140.1L1727.9 140.6L1728.1 140.18L1728.4 139.32L1728.7 143.08L1728.74 143.53L1729.08 148.82L1729.3 152.49L1729.42 154.42L1729.76 160.45L1729.9 162.99L1730.1 166.7L1730.35 162.83L1730.5 160.92L1730.6 159.74L1730.85 156.71L1731.1 154.31L1731.35 152.21L1731.6 150.38L1731.7 149.82L1731.85 148.88L1732.1 147.61L1732.3 146.53L1732.35 146.54L1732.6 145.27L1732.85 144.51L1732.9 144.47L1733.1 143.84L1733.35 143.03L1733.5 142.41L1733.6 142.58L1733.85 142.17L1734.1 141.85L1734.35 141.63L1734.6 141.28L1734.7 141.53L1734.85 141.23L1735.1 140.94L1735.3 140.6L1735.35 141.14L1735.6 140.24L1735.85 140.38L1735.9 140.37L1736.1 140.02L1736.35 140.03L1736.5 139.5L1736.6 139.56L1736.85 139.49L1737.1 139.73L1737.35 139.22L1737.6 139.36L1737.7 139.39L1737.85 139.55L1738.1 139.63L1738.3 139.58L1738.35 139.72L1738.6 139.48L1738.85 139.33L1738.9 139.6L1739.5 139.41L1740.1 139.34L1740.7 139.18L1741.3 139.16L1741.9 139L1742.5 138.69L1743.1 139.05L1743.7 139.14L1744.3 139.28L1744.9 139.6L1745.5 139.15L1746.1 138.72L1746.7 138.19L1747.3 138.77L1747.9 139.25L1748.5 139.46L1749.1 139.94L1749.7 139.87L1750.3 139.23L1750.4 139.42L1750.9 139.33L1751.4 139.05L1751.5 138.45L1751.9 138.64L1752.1 138.73L1752.4 138.64L1752.7 138.77L1752.9 139.35L1753.3 139.6L1753.4 139.11L1753.74 143.25L1753.9 145.56L1754.08 148.15L1754.42 153.56L1754.5 154.74L1754.76 159.18L1755.1 164.94L1755.35 161.58L1755.6 158.51L1755.7 157.42L1755.85 155.89L1756.1 153.63L1756.3 151.96L1756.35 151.62L1756.6 150L1756.85 148.46L1756.9 148.2L1757.1 147.17L1757.35 146.13L1757.5 145.54L1757.6 145.15L1757.85 144.47L1758.1 143.66L1758.35 143.46L1758.6 142.69L1758.7 142.52L1758.85 142.05L1759.1 141.48L1759.3 141.28L1759.35 141.06L1759.6 140.53L1759.85 140.7L1759.9 140.12L1760.1 140.02L1760.35 139.92L1760.5 140.47L1760.6 139.5L1760.85 139.63L1761.1 139.32L1761.35 139.22L1761.6 139.4L1761.7 139.15L1761.85 139.2L1762.1 138.94L1762.3 139.08L1762.35 139.36L1762.6 138.95L1762.85 139.33L1762.9 139.09L1763.1 139.63L1763.35 139.35L1763.5 139.52L1763.6 139.9L1763.85 139.88L1764.1 139.83L1764.7 139.5L1765.3 139.57L1765.9 139.65L1766.5 139.91L1767.1 139.86L1767.7 139.36L1768.3 139.02L1768.9 139.08L1769.5 138.83L1770.1 138.36L1770.7 138.51L1771.3 139.03L1771.9 139.15L1772.5 139.25L1773.1 139.49L1773.7 139.55L1774.3 139.49L1774.9 139.41L1775.5 139.56L1776 139.83L1776.1 139.49L1776.5 139.57L1776.7 139.87L1777 139.5L1777.3 139.6L1777.5 139.44L1777.9 139.28L1778 139.14L1778.5 139.08L1778.84 142.9L1779.1 146.17L1779.18 147.21L1779.52 152.17L1779.7 154.84L1779.86 157.32L1780.2 162.75L1780.3 161.36L1780.45 159.48L1780.7 156.83L1780.9 154.85L1780.95 154.47L1781.2 152.31L1781.45 150.7L1781.5 150.26L1781.7 149.11L1781.95 147.8L1782.1 146.98L1782.2 146.65L1782.45 145.49L1782.7 144.67L1782.95 143.82L1783.2 143.21L1783.3 142.8L1783.45 142.22L1783.7 141.97L1783.9 141.34L1783.95 141.55L1784.2 140.62L1784.45 140.55L1784.5 140.67L1784.7 140.13L1784.95 140.24L1785.1 139.86L1785.2 140.02L1785.45 140.08L1785.7 140.47L1785.95 140.21L1786.2 140.24L1786.3 139.39L1786.45 140.16L1786.7 140.04L1786.9 140.24L1786.95 139.76L1787.2 140.18L1787.45 140.02L1787.5 139.45L1787.7 139.8L1787.95 139.74L1788.1 139.38L1788.2 139.31L1788.45 139.5L1788.7 139.38L1788.95 139.26L1789.3 139.66L1789.9 139.44L1790.5 139.28L1791.1 139.39L1791.7 139.21L1792.3 138.97L1792.9 138.98L1793.5 139L1794.1 138.46L1794.7 138.39L1795.3 139.56L1795.9 140.09L1796.5 139.72L1797.1 139.82L1797.7 139.5L1798.3 139.35L1798.9 138.93L1799.5 138.64L1800.1 138.69L1800.5 138.93L1800.7 138.79L1801 138.87L1801.3 139.28L1801.5 139.12L1801.9 139.32L1802 139.74L1802.5 139.73L1803 140L1803.1 140.25L1803.5 139.39L1803.7 141.17L1803.84 142.68L1804.18 146.6L1804.3 148.06L1804.52 150.92L1804.86 155.58L1804.9 156.2L1805.2 160.39L1805.45 157.59L1805.5 157.02L1805.7 154.95L1805.95 152.82L1806.1 151.69L1806.2 150.92L1806.45 149.33L1806.7 147.78L1806.95 146.63L1807.2 145.58L1807.3 145.35L1807.45 144.73L1807.7 143.97L1807.9 143.32L1807.95 143.22L1808.2 142.72L1808.45 141.47L1808.5 141.92L1808.7 141.33L1808.95 141.18L1809.1 141.28L1809.2 140.79L1809.45 140.36L1809.7 140.27L1809.95 140.43L1810.2 140.23L1810.3 140.42L1810.45 140.28L1810.7 140.38L1810.9 140.16L1810.95 140.14L1811.2 140.07L1811.45 140.32L1811.5 139.95L1811.7 140.03L1811.95 139.83L1812.1 140.02L1812.2 140.19L1812.45 139.67L1812.7 139.81L1812.95 139.78L1813.2 139.53L1813.3 139.62L1813.45 139.39L1813.7 139.52L1813.9 139.56L1813.95 139.08L1814.5 139.32L1815.1 139.06L1815.7 138.9L1816.3 138.91L1816.9 139.05L1817.5 139.46L1818.1 139.1L1818.7 139.26L1819.3 138.67L1819.9 138.69L1820.5 138.8L1821.1 139.5L1821.7 139.05L1822.3 139.65L1822.9 139.91L1823.5 139.55L1824.1 139.39L1824.7 139.17L1825.3 139.21L1825.6 139.34L1825.9 139.16L1826.1 139.02L1826.5 139.34L1826.6 139.5L1827.1 139.07L1827.6 139.9L1827.7 139.63L1828.1 139.68L1828.3 139.62L1828.6 139.16L1828.9 142.02L1828.94 142.38L1829.28 146.25L1829.5 148.94L1829.62 150.46L1829.96 154.85L1830.1 156.77L1830.3 159.55L1830.55 156.71L1830.7 155.13L1830.8 154.28L1831.05 152.29L1831.3 150.51L1831.55 148.88L1831.8 147.74L1831.9 147.03L1832.05 146.52L1832.3 145.48L1832.5 144.78L1832.55 144.53L1832.8 143.85L1833.05 143.26L1833.1 143.15L1833.3 142.74L1833.55 142.34L1833.7 141.81L1833.8 141.58L1834.05 141.86L1834.3 141.1L1834.55 140.83L1834.8 140.74L1834.9 140.8L1835.05 141.02L1835.3 140.2L1835.5 140.6L1835.55 140.21L1835.8 140.27L1836.05 140.23L1836.1 140.36L1836.3 140.17L1836.55 140.23L1836.7 139.68L1836.8 139.95L1837.05 139.54L1837.3 139L1837.55 139.35L1837.8 139.25L1837.9 139.29L1838.05 139.42L1838.3 139.54L1838.5 138.69L1838.55 138.87L1838.8 138.8L1839.05 138.91L1839.1 138.5L1839.7 138.83L1840.3 138.75L1840.9 138.56L1841.5 138.81L1842.1 138.64L1842.7 138.67L1843.3 139L1843.9 139.17L1844.5 139.29L1845.1 139L1845.7 138.93L1846.3 138.81L1846.9 138.72L1847.5 138.48L1848.1 138.47L1848.7 138.54L1849.3 138.99L1849.9 138.8L1850.5 138.79L1851.1 139.11L1851.7 139L1852.2 138.48" stroke="#3a3a3a" stroke-width="1.1" fill="none" stroke-linejoin="round"/>
<path d="M1393.8 498.7L1396.57 497.54L1399.34 496.35L1402.12 495.13L1404.89 493.87L1407.66 492.58L1410.43 491.26L1413.21 489.9L1415.98 488.51L1418.75 487.08L1421.52 485.62L1424.3 484.13L1427.07 482.6L1429.84 481.03L1432.61 479.43L1435.38 477.8L1438.16 476.13L1440.93 474.43L1443.7 472.7L1446.47 470.94L1449.25 469.14L1452.02 467.31L1454.79 465.46L1457.56 463.57L1460.34 461.66L1463.11 459.73L1465.88 457.77L1468.65 455.78L1471.43 453.78L1474.2 451.76L1476.97 449.73L1479.74 447.67L1482.51 445.61L1485.29 443.54L1488.06 441.46L1490.83 439.37L1493.6 437.28L1496.38 435.19L1499.15 433.1L1501.92 431.02L1504.69 428.94L1507.47 426.87L1510.24 424.81L1513.01 422.76L1515.78 420.73L1518.55 418.72L1521.33 416.72L1524.1 414.75L1526.87 412.8L1529.64 410.87L1532.42 408.97L1535.19 407.09L1537.96 405.25L1540.73 403.43L1543.51 401.64L1546.28 399.89L1549.05 398.17L1551.82 396.48L1554.59 394.82L1557.37 393.2L1560.14 391.61L1562.91 390.06L1565.68 388.54L1568.46 387.06L1571.23 385.61L1574 384.2L1576.77 382.82L1579.55 381.47L1582.32 380.16L1585.09 378.88L1587.86 377.64L1590.64 376.42L1593.41 375.24L1596.18 374.1L1598.95 372.98L1601.72 371.89L1604.5 370.83L1607.27 369.81L1610.04 368.81L1612.81 367.84L1615.59 366.89L1618.36 365.97L1621.13 365.08L1623.9 364.22L1626.68 363.38L1629.45 362.56L1632.22 361.77L1634.99 360.99L1637.76 360.25L1640.54 359.52L1643.31 358.81L1646.08 358.12L1648.85 357.46L1651.63 356.81L1654.4 356.18L1657.17 355.57L1659.94 354.97L1662.72 354.4L1665.49 353.84L1668.26 353.29L1671.03 352.76L1673.81 352.25L1676.58 351.75L1679.35 351.26L1682.12 350.79L1684.89 350.33L1687.67 349.88L1690.44 349.44L1693.21 349.02L1695.98 348.61L1698.76 348.21L1701.53 347.82L1704.3 347.44L1707.07 347.07L1709.85 346.71L1712.62 346.36L1715.39 346.02L1718.16 345.69L1720.93 345.36L1723.71 345.05L1726.48 344.74L1729.25 344.44L1732.02 344.15L1734.8 343.87L1737.57 343.59L1740.34 343.32L1743.11 343.06L1745.89 342.8L1748.66 342.55L1751.43 342.31L1754.2 342.07L1756.97 341.84L1759.75 341.61L1762.52 341.39L1765.29 341.18L1768.06 340.96L1770.84 340.76L1773.61 340.56L1776.38 340.36L1779.15 340.17L1781.93 339.98L1784.7 339.8L1787.47 339.62L1790.24 339.45L1793.02 339.27L1795.79 339.11L1798.56 338.94L1801.33 338.78L1804.1 338.63L1806.88 338.47L1809.65 338.33L1812.42 338.18L1815.19 338.04L1817.97 337.9L1820.74 337.76L1823.51 337.62L1826.28 337.49L1829.06 337.36L1831.83 337.24L1834.6 337.12" stroke="#3a3a3a" stroke-width="1.15" fill="none"/>
<ellipse cx="1393.8" cy="494.8" rx="2.5" ry="3.2" fill="url(#dg)"/>
<ellipse cx="1415.3" cy="494.4" rx="2.5" ry="3.2" fill="url(#dg)"/>
<ellipse cx="1437.7" cy="474.9" rx="2.5" ry="3.2" fill="url(#dg)"/>
<ellipse cx="1460" cy="462.2" rx="2.5" ry="3.2" fill="url(#dg)"/>
<ellipse cx="1482.7" cy="447.4" rx="2.5" ry="3.2" fill="url(#dg)"/>
<ellipse cx="1505.6" cy="426.1" rx="2.5" ry="3.2" fill="url(#dg)"/>
<ellipse cx="1529" cy="409.4" rx="2.5" ry="3.2" fill="url(#dg)"/>
<ellipse cx="1552.9" cy="395.4" rx="2.5" ry="3.2" fill="url(#dg)"/>
<ellipse cx="1576.9" cy="381" rx="2.5" ry="3.2" fill="url(#dg)"/>
<ellipse cx="1601.4" cy="379.9" rx="2.5" ry="3.2" fill="url(#dg)"/>
<ellipse cx="1626.4" cy="364.6" rx="2.5" ry="3.2" fill="url(#dg)"/>
<ellipse cx="1651.5" cy="350.3" rx="2.5" ry="3.2" fill="url(#dg)"/>
<ellipse cx="1676.9" cy="354" rx="2.5" ry="3.2" fill="url(#dg)"/>
<ellipse cx="1702.9" cy="344.7" rx="2.5" ry="3.2" fill="url(#dg)"/>
<ellipse cx="1729.1" cy="345.1" rx="2.5" ry="3.2" fill="url(#dg)"/>
<ellipse cx="1756.3" cy="342.9" rx="2.5" ry="3.2" fill="url(#dg)"/>
<ellipse cx="1783.2" cy="342.5" rx="2.5" ry="3.2" fill="url(#dg)"/>
<ellipse cx="1810.5" cy="338.5" rx="2.5" ry="3.2" fill="url(#dg)"/>
<ellipse cx="1838.6" cy="334.5" rx="2.5" ry="3.2" fill="url(#dg)"/>
<text x="1296" y="40.8" font-size="57" font-weight="bold">c</text>
<text x="1615" y="63.7" font-size="32.4" text-anchor="middle">Time (s)</text>
<text x="1351.6" y="106.6" class="tk" text-anchor="middle">0</text>
<text x="1447.95" y="106.6" class="tk" text-anchor="middle">1000</text>
<text x="1544.29" y="106.6" class="tk" text-anchor="middle">2000</text>
<text x="1640.64" y="106.6" class="tk" text-anchor="middle">3000</text>
<text x="1736.98" y="106.6" class="tk" text-anchor="middle">4000</text>
<text x="1833.33" y="106.6" class="tk" text-anchor="middle">5000</text>
<text x="1340.1" y="149.4" class="tk" text-anchor="end">0</text>
<text x="1340.1" y="200.4" class="tk" text-anchor="end">-0.5</text>
<text x="1340.1" y="253.8" class="tk" text-anchor="end">-1.0</text>
<text x="1340.1" y="307.2" class="tk" text-anchor="end">-1.5</text>
<text x="1340.1" y="356.38" class="tk" text-anchor="end">-10</text>
<text x="1340.1" y="394.86" class="tk" text-anchor="end">-20</text>
<text x="1340.1" y="433.34" class="tk" text-anchor="end">-30</text>
<text x="1340.1" y="471.82" class="tk" text-anchor="end">-40</text>
<text x="1340.1" y="511.1" class="tk" text-anchor="end">-50</text>
<text x="1351.6" y="532" class="tk" text-anchor="middle">0</text>
<text x="1427.3" y="532" class="tk" text-anchor="middle">0.5</text>
<text x="1503" y="532" class="tk" text-anchor="middle">1</text>
<text x="1578.7" y="532" class="tk" text-anchor="middle">1.5</text>
<text x="1654.4" y="532" class="tk" text-anchor="middle">2</text>
<text x="1730.1" y="532" class="tk" text-anchor="middle">2.5</text>
<text x="1805.8" y="532" class="tk" text-anchor="middle">3</text>
<text x="1881.5" y="532" class="tk" text-anchor="middle">3.5</text>
<text x="1619" y="578" font-size="32.05" text-anchor="middle">Molar Ratio of Cdc5-Dbf4:Spc72<tspan font-size="20" dy="-9">P</tspan></text>
</g>
<g id="pd">
<path d="M343.4 742.7L343.4 1143.5M873 742.7L873 1143.5M343.4 750.7L873 750.7M336.9 942.3L873 942.3M336.9 1134.5L873 1134.5M391.55 742.7L391.55 758.7M439.69 742.7L439.69 758.7M487.84 742.7L487.84 758.7M535.98 742.7L535.98 758.7M584.13 742.7L584.13 758.7M632.27 742.7L632.27 758.7M680.42 742.7L680.42 758.7M728.56 742.7L728.56 758.7M776.71 742.7L776.71 758.7M824.85 742.7L824.85 758.7M336.9 771.5L348.9 771.5M336.9 824.9L348.9 824.9M336.9 878.3L348.9 878.3M336.9 931.7L348.9 931.7M419.06 1126.5L419.06 1143.5M494.71 1126.5L494.71 1143.5M570.37 1126.5L570.37 1143.5M646.03 1126.5L646.03 1143.5M721.69 1126.5L721.69 1143.5M797.34 1126.5L797.34 1143.5M336.9 980.74L348.9 980.74M336.9 1019.18L348.9 1019.18M336.9 1057.62L348.9 1057.62M336.9 1096.06L348.9 1096.06" stroke="#6b6b6b" stroke-width="1.3" fill="none"/>
<path d="M343.7 771.84L344.1 771.64L344.3 772.95L344.44 773.91L344.78 776.87L344.9 777.91L345.12 779.91L345.46 783.25L345.5 783.73L345.8 786.61L346.05 784.44L346.1 784.18L346.3 782.7L346.55 781.29L346.7 780.56L346.8 780.01L347.05 778.94L347.3 778.1L347.55 777.22L347.8 776.45L347.9 776.25L348.05 775.81L348.3 775.28L348.5 774.82L348.55 774.83L348.8 774.35L349.05 774.24L349.1 773.89L349.3 774.27L349.55 773.74L349.7 773.59L349.8 773.01L350.05 773.01L350.3 772.61L350.55 772.75L350.8 772.12L350.9 772.5L351.05 772.64L351.3 772.17L351.5 772.38L351.55 772.13L351.8 772.22L352.05 772.13L352.1 772.3L352.3 771.97L352.55 771.72L352.7 771.96L352.8 771.85L353.05 772.08L353.3 771.76L353.55 772.13L353.8 771.85L353.9 771.85L354.05 771.98L354.3 771.66L354.5 771.69L354.55 771.9L355.1 771.9L355.7 771.8L356.3 771.65L356.9 772.11L357.5 772.49L358.1 772.16L358.7 771.23L359.3 772.09L359.9 771.96L360.5 771.99L361.1 772.1L361.7 771.8L362.3 771.18L362.9 770.98L363.5 771.61L364.1 772.25L364.7 772.03L365.3 771.74L365.9 771.82L366 771.44L366.5 771.91L367 772L367.1 772.16L367.5 772.78L367.7 772.73L368 773.56L368.3 773.38L368.5 773.43L368.9 773.42L369 771.78L369.34 795.12L369.5 808.04L369.68 823.49L370.02 854.17L370.1 861.7L370.36 886.48L370.7 920.05L370.95 899.88L371.2 882.32L371.3 876L371.45 867.22L371.7 854.29L371.9 845.04L371.95 842.87L372.2 833.02L372.45 824.63L372.5 823.16L372.7 817.45L372.95 811.26L373.1 807.8L373.2 805.82L373.45 801.23L373.7 797.01L373.95 793.97L374.2 790.17L374.3 789.04L374.45 787.89L374.7 785.55L374.9 784.25L374.95 783.81L375.2 782.34L375.45 781.13L375.5 780.79L375.7 780.27L375.95 778.77L376.1 778.51L376.2 778.3L376.45 776.91L376.7 776.4L376.95 775.7L377.2 775.01L377.3 774.82L377.45 774.77L377.7 774.55L377.9 774.17L377.95 774.58L378.2 774.19L378.45 773.76L378.5 773.78L378.7 773.53L378.95 772.8L379.1 773.53L379.2 772.72L379.45 773.08L379.7 772.86L380.3 772.88L380.9 772L381.5 771.6L382.1 771.11L382.7 771.78L383.3 771.51L383.9 771.02L384.5 771.67L385.1 771.5L385.7 771.91L386.3 772.41L386.9 772.09L387.5 772.37L388.1 772.32L388.7 771.94L389.3 771.75L389.9 772.19L390.5 771.59L391.1 771.06L391.2 771.11L391.7 771.56L392.2 772.79L392.3 772.49L392.7 772.44L392.9 772.6L393.2 772.05L393.5 772.01L393.7 772.28L394.1 772.94L394.2 771.68L394.54 794.8L394.7 807.73L394.88 822.96L395.22 853.4L395.3 860.93L395.56 885.57L395.9 918.98L396.15 898.97L396.4 881.63L396.5 875.28L396.65 866.57L396.9 853.55L397.1 844.45L397.15 842.43L397.4 832.69L397.65 824.33L397.7 822.79L397.9 817.31L398.15 811.05L398.3 807.81L398.4 805.76L398.65 801.12L398.9 797.22L399.15 794.23L399.4 791.49L399.5 790.27L399.65 788.4L399.9 786.4L400.1 784.81L400.15 784.44L400.4 782.43L400.65 780.72L400.7 780.72L400.9 779.64L401.15 778.01L401.3 777.93L401.4 777.27L401.65 776.13L401.9 775.9L402.15 774.58L402.4 774.14L402.5 773.93L402.65 774.09L402.9 773.28L403.1 773.31L403.15 773.16L403.4 772.82L403.65 772.92L403.7 772.66L403.9 773.11L404.15 772.78L404.3 772.79L404.4 773.07L404.65 772.67L404.9 772.87L405.5 772.25L406.1 771.87L406.7 772.56L407.3 772.41L407.9 772.97L408.5 772.51L409.1 771.77L409.7 771.16L410.3 771.48L410.9 771.81L411.5 771.8L412.1 771.35L412.7 771.3L413.3 771.76L413.9 771.7L414.5 772.03L415.1 772.14L415.7 772.07L416.1 771.7L416.3 771.65L416.6 772.1L416.9 771.81L417.1 771.71L417.5 771.88L417.6 771.76L418.1 772.24L418.6 773.11L418.7 772.83L419.1 771.71L419.3 783.46L419.44 793.48L419.78 819.95L419.9 829.92L420.12 848.59L420.46 878.92L420.5 882.59L420.8 910.35L421.05 891.42L421.1 887.92L421.3 875.11L421.55 860.88L421.7 853.21L421.8 848.59L422.05 838.14L422.3 829.1L422.55 821.2L422.8 814.46L422.9 812.11L423.05 808.69L423.3 803.59L423.5 800.02L423.55 799.15L423.8 795.27L424.05 791.85L424.1 791.21L424.3 789.17L424.55 786.62L424.7 785.34L424.8 784.6L425.05 782.85L425.3 780.8L425.55 779.66L425.8 778.36L425.9 778.08L426.05 777.51L426.3 776.7L426.5 776.32L426.55 776.07L426.8 776.12L427.05 775.72L427.1 775.69L427.3 775.73L427.55 775.35L427.7 774.83L427.8 775.07L428.05 774.49L428.3 774.05L428.55 773.65L428.8 773.49L428.9 773.79L429.05 773.11L429.3 773.62L429.5 773.18L429.55 772.91L430.1 772.63L430.7 771.96L431.3 771.49L431.9 771.42L432.5 771.39L433.1 771.44L433.7 771.85L434.3 771.51L434.9 771.97L435.5 772.45L436.1 772.39L436.7 772.24L437.3 771.94L437.9 771.08L438.5 771.68L439.1 772.14L439.7 772.37L440.3 771.48L440.9 770.95L441.5 771.34L442 771.84L442.1 771.44L442.5 771.95L442.7 771.63L443 772.4L443.3 773.15L443.5 772.74L443.9 773.41L444 773.08L444.5 771.71L444.84 792.14L445.1 810.79L445.18 816.94L445.52 843.72L445.7 858.58L445.86 872.06L446.2 901.39L446.3 893.91L446.45 883.48L446.7 868.44L446.9 857.6L446.95 855.23L447.2 843.72L447.45 833.9L447.5 832.13L447.7 825.41L447.95 818.17L448.1 814.02L448.2 811.67L448.45 806.25L448.7 801.56L448.95 797.5L449.2 794.03L449.3 793.11L449.45 791.06L449.7 788.44L449.9 786.65L449.95 786.37L450.2 783.93L450.45 782.89L450.5 782.13L450.7 780.98L450.95 779.87L451.1 779.09L451.2 778.73L451.45 777.9L451.7 777.12L451.95 776.24L452.2 775.17L452.3 774.89L452.45 774.65L452.7 773.69L452.9 773.78L452.95 773.98L453.2 773.93L453.45 773.42L453.5 773.15L453.7 773.15L453.95 773.28L454.1 773.28L454.2 772.74L454.45 772.28L454.7 772.55L454.95 772.75L455.3 772.98L455.9 772.81L456.5 772.53L457.1 771.83L457.7 772.71L458.3 771.74L458.9 771.85L459.5 771.87L460.1 771.97L460.7 771.64L461.3 772.02L461.9 772.07L462.5 772.15L463.1 772.03L463.7 772.12L464.3 771.59L464.9 771.39L465.5 770.93L466.1 771.21L466.4 770.89L466.7 771.38L466.9 771.23L467.3 772.04L467.4 772.03L467.9 772.77L468.4 772.83L468.5 772.61L468.9 773.05L469.1 772.86L469.4 773.75L469.7 786.65L469.74 789.08L470.08 810.19L470.3 824.72L470.42 832.71L470.76 856.7L470.9 866.81L471.1 881.51L471.35 866.52L471.5 858.52L471.6 853.64L471.85 842.51L472.1 832.86L472.35 824.38L472.6 817.04L472.7 814.49L472.85 810.69L473.1 805.3L473.3 801.54L473.35 800.71L473.6 796.77L473.85 793.52L473.9 792.82L474.1 790.56L474.35 787.9L474.5 786.45L474.6 785.76L474.85 783.81L475.1 782.64L475.35 781.09L475.6 779.78L475.7 779.17L475.85 778.35L476.1 777.68L476.3 776.98L476.35 776.79L476.6 776.27L476.85 775.85L476.9 775.79L477.1 774.88L477.35 774.5L477.5 774.35L477.6 774.05L477.85 774.25L478.1 773.91L478.35 773.64L478.6 773.5L478.7 773.2L478.85 773.09L479.1 773.15L479.3 772.93L479.35 772.72L479.6 772.23L479.85 772.86L479.9 772.43L480.5 772.02L481.1 771.24L481.7 771.83L482.3 772.29L482.9 772.32L483.5 772.67L484.1 772.28L484.7 772.45L485.3 771.7L485.9 772.04L486.5 772.34L487.1 771.71L487.7 771.05L488.3 770.95L488.9 771.14L489.5 771.67L490.1 771.89L490.7 772.13L491.3 772.39L491.4 772.29L491.9 772.07L492.4 772.94L492.5 772.51L492.9 773.16L493.1 773.51L493.4 772.96L493.7 773.18L493.9 773.2L494.3 773.9L494.4 773.57L494.74 785.84L494.9 793.67L495.08 802.93L495.42 821.35L495.5 825.74L495.76 840.63L496.1 861.02L496.35 848.78L496.6 838.27L496.7 834.39L496.85 829.1L497.1 821.29L497.3 815.58L497.35 814.38L497.6 808.43L497.85 803.57L497.9 802.59L498.1 799.12L498.35 795.37L498.5 793.49L498.6 792.26L498.85 789.45L499.1 787.11L499.35 784.6L499.6 783.17L499.7 782.7L499.85 781.44L500.1 780.53L500.3 779.83L500.35 779.05L500.6 778.21L500.85 777.11L500.9 777.27L501.1 776.79L501.35 775.29L501.5 775.16L501.6 775.46L501.85 774.4L502.1 774.48L502.35 774.44L502.6 774.2L502.7 774.45L502.85 774.25L503.1 773.9L503.3 773.58L503.35 773.82L503.6 773.21L503.85 772.74L503.9 772.74L504.1 772.78L504.35 772.76L504.5 772.38L504.6 772.83L504.85 772.35L505.1 772.09L505.7 771.87L506.3 771.95L506.9 772.31L507.5 771.68L508.1 771.51L508.7 771.79L509.3 771.54L509.9 771.76L510.5 771.96L511.1 771.75L511.7 771.72L512.3 771.91L512.9 771.13L513.5 771.63L514.1 771.81L514.7 772.41L515.3 773.01L515.9 771.68L516.5 771.65L516.6 771.76L517.1 771.95L517.6 772.13L517.7 772.09L518.1 771.64L518.3 772.5L518.6 772.8L518.9 773.07L519.1 773.11L519.5 772.75L519.6 771.74L519.94 782.02L520.1 787.8L520.28 794.78L520.62 808.7L520.7 811.99L520.96 823.27L521.3 838.58L521.55 829.53L521.8 821.57L521.9 818.77L522.05 814.78L522.3 808.98L522.5 804.79L522.55 803.71L522.8 799.4L523.05 795.76L523.1 795.08L523.3 792.51L523.55 789.58L523.7 788.03L523.8 787.19L524.05 785.02L524.3 783.19L524.55 781.54L524.8 780.52L524.9 779.84L525.05 779.34L525.3 778.89L525.5 777.78L525.55 777.88L525.8 776.86L526.05 776.17L526.1 775.99L526.3 775.91L526.55 775.04L526.7 774.77L526.8 774.6L527.05 774.11L527.3 774.11L527.55 773.35L527.8 772.85L527.9 773.08L528.05 772.94L528.3 772.39L528.5 772.57L528.55 772.49L528.8 772.09L529.05 771.91L529.1 772.39L529.3 772.22L529.55 772.2L529.7 771.64L529.8 772.07L530.05 771.71L530.3 771.73L530.9 772.35L531.5 772.09L532.1 771.68L532.7 771.71L533.3 772.04L533.9 772.27L534.5 771.64L535.1 771.89L535.7 771.83L536.3 771.91L536.9 771.59L537.5 772.11L538.1 771.61L538.7 771.35L539.3 771.44L539.9 771.49L540.5 771.73L541.1 770.79L541.5 771.76L541.7 771.85L542 771.71L542.3 772.07L542.5 772.57L542.9 772.77L543 772.48L543.5 773.29L544 773.81L544.1 773.35L544.5 771.95L544.7 775.98L544.84 779.53L545.18 788.8L545.3 792.29L545.52 798.92L545.86 809.43L545.9 810.86L546.2 820.4L546.45 813.83L546.5 812.55L546.7 808.08L546.95 803.17L547.1 800.44L547.2 798.78L547.45 795.11L547.7 791.88L547.95 789.07L548.2 786.52L548.3 785.73L548.45 784.37L548.7 782.63L548.9 781.56L548.95 781.17L549.2 779.99L549.45 778.91L549.5 778.77L549.7 778.67L549.95 777.7L550.1 776.99L550.2 776.98L550.45 776.33L550.7 775.47L550.95 774.86L551.2 774.77L551.3 774.49L551.45 774.51L551.7 773.97L551.9 773.47L551.95 773.59L552.2 773.26L552.45 772.91L552.5 773.06L552.7 772.32L552.95 772.47L553.1 772.77L553.2 772.23L553.45 772.67L553.7 772.63L553.95 772.35L554.2 772.45L554.3 772.86L554.45 772.34L554.7 772.28L554.9 772.09L554.95 771.85L555.5 772.17L556.1 772.23L556.7 772.09L557.3 772.02L557.9 771.99L558.5 771.74L559.1 771.82L559.7 771.1L560.3 771.49L560.9 771.24L561.5 771.75L562.1 772.02L562.7 771.48L563.3 771.34L563.9 771.88L564.5 772.16L565.1 772.28L565.7 772.49L566.3 772.79L566.7 772.21L566.9 772.32L567.2 772.01L567.5 772.25L567.7 772.19L568.1 772.32L568.2 772.15L568.7 772.72L569.2 772L569.3 772.22L569.7 771.67L569.9 774.72L570.04 777.2L570.38 784.1L570.5 786.81L570.72 791.65L571.06 799.62L571.1 800.33L571.4 807.48L571.65 802.63L571.7 801.76L571.9 798.48L572.15 794.9L572.3 792.96L572.4 791.72L572.65 788.95L572.9 786.64L573.15 784.54L573.4 782.88L573.5 782.17L573.65 781.3L573.9 780.14L574.1 779.27L574.15 779.09L574.4 778L574.65 777.72L574.7 777.65L574.9 776.84L575.15 775.96L575.3 775.76L575.4 775.7L575.65 775.13L575.9 774.73L576.15 774.52L576.4 774.32L576.5 774.08L576.65 773.35L576.9 772.86L577.1 773.32L577.15 773.23L577.4 772.86L577.65 772.64L577.7 773.29L577.9 773.03L578.15 773.11L578.3 773.25L578.4 773.29L578.65 772.77L578.9 772.49L579.15 772.32L579.4 771.96L579.5 771.52L579.65 772.15L579.9 771.8L580.1 771.63L580.15 771.65L580.7 770.93L581.3 770.97L581.9 771.24L582.5 771.71L583.1 771.72L583.7 771.61L584.3 772.33L584.9 772.8L585.5 772.5L586.1 772.83L586.7 772.5L587.3 772.08L587.9 771.45L588.5 771.17L589.1 771.17L589.7 771.5L590.3 771.92L590.9 771.38L591.5 771.56L591.7 771.39L592.1 772.03L592.2 771.85L592.7 772.1L593.2 772.52L593.3 772.47L593.7 772.61L593.9 772.17L594.2 772.68L594.5 772.71L594.7 771.94L595.04 776.5L595.1 777.38L595.38 782.04L595.7 787.78L595.72 788.12L596.06 794.64L596.3 799.46L596.4 801.67L596.65 797.56L596.9 794.19L597.15 791.2L597.4 788.53L597.5 787.53L597.65 786.21L597.9 784.14L598.1 782.74L598.15 782.53L598.4 781.08L598.65 779.9L598.7 779.61L598.9 778.67L599.15 777.84L599.3 777.32L599.4 777.11L599.65 776.4L599.9 776.1L600.15 775.46L600.4 775.1L600.5 774.98L600.65 774.88L600.9 774.26L601.1 774.44L601.15 773.8L601.4 773.53L601.65 773.03L601.7 773.23L601.9 772.54L602.15 772.68L602.3 771.97L602.4 772.61L602.65 772.09L602.9 772.07L603.15 771.91L603.4 771.92L603.5 771.55L603.65 771.34L603.9 771.67L604.1 771.57L604.15 771.4L604.4 771.38L604.65 771.46L604.7 771.55L604.9 771.77L605.15 771.61L605.3 771.8L605.9 772.26L606.5 772.5L607.1 772.93L607.7 772.33L608.3 772.21L608.9 772.21L609.5 772.17L610.1 771.34L610.7 771.18L611.3 771.44L611.9 770.86L612.5 771.35L613.1 771.93L613.7 772.05L614.3 771.8L614.9 772.32L615.5 772.45L616.1 771.95L616.7 771.69L616.9 772.39L617.3 771.75L617.4 772L617.9 772.22L618.4 772.26L618.5 771.99L618.9 772.14L619.1 772.08L619.4 772.6L619.7 772.09L619.9 771.7L620.24 775.67L620.3 776.59L620.58 780.65L620.9 785.9L620.92 786.1L621.26 791.87L621.5 796.04L621.6 797.82L621.85 794.24L622.1 791.1L622.35 788.44L622.6 786.24L622.7 785.49L622.85 784.33L623.1 782.56L623.3 781.37L623.35 781.02L623.6 779.69L623.85 778.59L623.9 778.43L624.1 777.67L624.35 776.81L624.5 776.3L624.6 776.11L624.85 775.18L625.1 775.7L625.35 775.29L625.6 775.26L625.7 775.1L625.85 774.51L626.1 774.14L626.3 773.57L626.35 773.19L626.6 773.16L626.85 772.87L626.9 772.84L627.1 773.05L627.35 772.5L627.5 772.35L627.6 772.81L627.85 772.75L628.1 772.47L628.35 772.22L628.6 772.19L628.7 772.18L628.85 772.2L629.1 772.23L629.3 772.62L629.35 772.29L629.6 772.14L629.85 772.25L629.9 772.06L630.1 771.78L630.35 771.73L630.5 771.21L631.1 771.09L631.7 771.64L632.3 771.72L632.9 771.73L633.5 771.96L634.1 771.84L634.7 771.58L635.3 772.21L635.9 771.89L636.5 771.69L637.1 771.98L637.7 772.08L638.3 771.84L638.9 771.57L639.5 771.82L640.1 771.8L640.7 772.03L641.3 771.83L641.9 772.15L642.4 771.79L642.5 771.24L642.9 771.65L643.1 771.54L643.4 771.41L643.7 772.38L643.9 772.45L644.3 772.4L644.4 772.19L644.9 771.64L645.24 775.45L645.5 778.95L645.58 780.18L645.92 785.22L646.1 788.02L646.26 790.47L646.6 795.86L646.7 794.48L646.85 792.55L647.1 789.7L647.3 787.75L647.35 787.29L647.6 785.19L647.85 783.54L647.9 783.08L648.1 781.86L648.35 780.46L648.5 779.79L648.6 779.32L648.85 778.22L649.1 777.39L649.35 776.62L649.6 775.89L649.7 775.67L649.85 775.49L650.1 775.33L650.3 774.83L650.35 774.57L650.6 774.28L650.85 773.87L650.9 773.76L651.1 773.39L651.35 772.88L651.5 772.71L651.6 772.5L651.85 772.1L652.1 771.77L652.35 771.87L652.6 771.89L652.7 771.65L652.85 771.67L653.1 772.03L653.3 772.35L653.35 772.33L653.6 772.14L653.85 772.26L653.9 772.37L654.1 772.48L654.35 772.42L654.5 771.88L654.6 772.41L654.85 772.12L655.1 771.71L655.35 771.88L655.7 771.8L656.3 772.22L656.9 772.45L657.5 771.93L658.1 772.11L658.7 771.47L659.3 770.91L659.9 771.47L660.5 772L661.1 772.31L661.7 771.76L662.3 772.35L662.9 771.89L663.5 771.61L664.1 771.65L664.7 771.89L665.3 771.7L665.9 771.64L666.5 771.45L667 771.42L667.1 771.06L667.5 771.42L667.7 771.38L668 771.71L668.3 771.85L668.5 772.38L668.9 772.3L669 772.33L669.5 772.7L670 771.77L670.1 772.79L670.34 775.63L670.68 780.36L670.7 780.66L671.02 785.61L671.3 789.89L671.36 790.95L671.7 796.62L671.9 793.99L671.95 793.28L672.2 790.37L672.45 787.91L672.5 787.61L672.7 785.85L672.95 783.97L673.1 782.92L673.2 782.2L673.45 780.69L673.7 779.47L673.95 778.3L674.2 777.47L674.3 777.17L674.45 776.78L674.7 775.96L674.9 775.2L674.95 775.66L675.2 774.87L675.45 774.08L675.5 773.95L675.7 773.71L675.95 773.11L676.1 773.16L676.2 773.47L676.45 773.37L676.7 773.35L676.95 772.88L677.2 772.72L677.3 772.06L677.45 771.89L677.7 771.38L677.9 771.64L677.95 771.56L678.2 772.18L678.45 772.41L678.5 772.03L678.7 772.13L678.95 772.74L679.1 772.79L679.2 772.24L679.45 772.37L679.7 772.4L679.95 772.02L680.2 772.21L680.3 771.92L680.45 771.97L680.9 771.97L681.5 771.62L682.1 771.93L682.7 771.86L683.3 772.04L683.9 771.36L684.5 771.89L685.1 772.14L685.7 772.11L686.3 771.92L686.9 772.1L687.5 771.29L688.1 771.25L688.7 771.84L689.3 772.1L689.9 771.26L690.5 771.58L691.1 771.98L691.7 771.56L692 771.65L692.3 771.36L692.5 772.3L692.9 772.44L693 772.5L693.5 772.44L694 772.59L694.1 772.58L694.5 772.32L694.7 772.51L695 771.77L695.3 774.97L695.34 775.44L695.68 779.82L695.9 782.78L696.02 784.51L696.36 789.39L696.5 791.53L696.7 794.59L696.95 791.52L697.1 789.84L697.2 788.85L697.45 786.48L697.7 784.53L697.95 782.68L698.2 781.1L698.3 780.5L698.45 779.8L698.7 778.6L698.9 777.83L698.95 777.59L699.2 776.81L699.45 776.06L699.5 775.93L699.7 775.48L699.95 775.06L700.1 774.63L700.2 774.83L700.45 774.28L700.7 774.49L700.95 774.23L701.2 774.22L701.3 774.37L701.45 774.15L701.7 773.29L701.9 773.28L701.95 773.23L702.2 772.71L702.45 772.49L702.5 772.37L702.7 772.55L702.95 772.26L703.1 772.5L703.2 772.56L703.45 772.35L703.7 772.16L703.95 772.41L704.2 772.13L704.3 771.85L704.45 772.1L704.7 772.25L704.9 772.09L704.95 772.3L705.2 772.21L705.45 772.07L705.5 771.88L706.1 771.22L706.7 771.65L707.3 772.22L707.9 772.28L708.5 771.87L709.1 771.83L709.7 771.87L710.3 771.47L710.9 771.33L711.5 771.52L712.1 771.85L712.7 771.79L713.3 772.06L713.9 772.5L714.5 772.57L715.1 771.95L715.7 772.09L716.3 772.05L716.9 771.5L717.2 771.8L717.5 771.74L717.7 771.54L718.1 771.7L718.2 771.49L718.7 771.28L719.2 771.47L719.3 771.88L719.7 772.01L719.9 772.36L720.2 771.73L720.5 774.73L720.54 775.26L720.88 779.46L721.1 782.37L721.22 784.05L721.56 788.88L721.7 791.02L721.9 793.87L722.15 790.86L722.3 789.19L722.4 788.26L722.65 786.09L722.9 784L723.15 782.35L723.4 780.94L723.5 780.47L723.65 779.77L723.9 778.81L724.1 777.96L724.15 777.72L724.4 776.78L724.65 776.17L724.7 775.99L724.9 775.43L725.15 774.87L725.3 774.61L725.4 774.71L725.65 774.3L725.9 773.75L726.15 773.56L726.4 773.3L726.5 772.86L726.65 772.41L726.9 771.96L727.1 772.31L727.15 772.06L727.4 771.57L727.65 771.94L727.7 772.11L727.9 772.15L728.15 772.07L728.3 772.24L728.4 771.93L728.65 772.4L728.9 772.53L729.15 772.83L729.4 772.7L729.5 772.66L729.65 773.09L729.9 772.89L730.1 772.46L730.15 772.11L730.4 771.96L730.65 772.05L730.7 772.04L731.3 771.89L731.9 772.33L732.5 772.46L733.1 772.02L733.7 771.68L734.3 771.21L734.9 770.72L735.5 771.91L736.1 772.33L736.7 772.31L737.3 771.59L737.9 771.89L738.5 771.4L739.1 771.29L739.7 771.98L740.3 771.84L740.9 771.62L741.5 771.47L742.1 772.05L742.3 771.89L742.7 772.04L742.8 771.86L743.3 772.66L743.8 772.26L743.9 772.42L744.3 772.46L744.5 772.76L744.8 772.65L745.1 772.22L745.3 771.98L745.64 775.27L745.7 775.99L745.98 779.63L746.3 783.82L746.32 784.22L746.66 789.05L746.9 792.66L747 794.2L747.25 791.01L747.5 788.49L747.75 786.28L748 784.26L748.1 783.62L748.25 782.6L748.5 781.21L748.7 780.05L748.75 779.83L749 778.68L749.25 777.69L749.3 777.63L749.5 776.93L749.75 776.26L749.9 775.94L750 775.82L750.25 775.2L750.5 775.25L750.75 774.35L751 774.12L751.1 774.14L751.25 774.06L751.5 773.43L751.7 773.74L751.75 773.61L752 773.88L752.25 773.05L752.3 773.38L752.5 773.02L752.75 772.74L752.9 772.62L753 772.39L753.25 772.34L753.5 772.15L753.75 771.98L754 772.8L754.1 772.41L754.25 772.13L754.5 772.47L754.7 772.44L754.75 772.33L755 772.07L755.25 772.08L755.3 771.66L755.5 771.5L755.75 771.41L755.9 771.47L756.5 771.82L757.1 772.01L757.7 771.91L758.3 771.64L758.9 771.47L759.5 771.09L760.1 771.39L760.7 771.8L761.3 772.59L761.9 772L762.5 771.8L763.1 771.96L763.7 772.09L764.3 772.71L764.9 772.34L765.5 771.31L766.1 771.12L766.7 771.1L767.3 771.11L767.8 770.93L767.9 771.66L768.3 771.88L768.5 772.08L768.8 772.34L769.1 772.44L769.3 772.09L769.7 772.18L769.8 772.5L770.3 771.93L770.64 775.38L770.9 778.7L770.98 779.76L771.32 784.28L771.5 786.88L771.66 789.2L772 794.26L772.1 792.95L772.25 791.11L772.5 788.58L772.7 786.71L772.75 786.39L773 784.4L773.25 782.55L773.3 782.33L773.5 780.99L773.75 779.64L773.9 778.97L774 778.47L774.25 777.42L774.5 776.62L774.75 776.1L775 775.36L775.1 774.72L775.25 774.22L775.5 774.21L775.7 773.78L775.75 773.99L776 773.43L776.25 773.58L776.3 773.44L776.5 773.42L776.75 773.36L776.9 773.35L777 772.97L777.25 772.6L777.5 772.77L777.75 772.79L778 772.36L778.1 772.81L778.25 772.46L778.5 772.8L778.7 772.91L778.75 772.95L779 773.32L779.25 772.84L779.3 772.87L779.5 772.9L779.75 772.91L779.9 772.59L780 772.96L780.25 772.54L780.5 772.35L780.75 772.06L781.1 771.95L781.7 771.34L782.3 770.59L782.9 771.75L783.5 771.43L784.1 771.44L784.7 771.77L785.3 772.24L785.9 771.98L786.5 771.81L787.1 772.27L787.7 771.68L788.3 771.78L788.9 771.91L789.5 771.83L790.1 771.5L790.7 772L791.3 771.95L791.9 771.92L792.4 772.36L792.5 772.2L792.9 772.3L793.1 772.2L793.4 772.15L793.7 772.1L793.9 772.03L794.3 771.35L794.4 771.71L794.9 772.1L795.4 771.79L795.5 772.6L795.74 775.37L796.08 779.76L796.1 779.98L796.42 784.6L796.7 788.86L796.76 789.74L797.1 795.14L797.3 792.46L797.35 791.92L797.6 789.11L797.85 786.73L797.9 786.21L798.1 784.6L798.35 782.82L798.5 781.91L798.6 781.44L798.85 780L799.1 779.07L799.35 778.07L799.6 777.3L799.7 776.98L799.85 776.57L800.1 776.02L800.3 775.73L800.35 776.04L800.6 775.07L800.85 775.05L800.9 774.93L801.1 774.66L801.35 774.78L801.5 774.42L801.6 774.58L801.85 773.83L802.1 773.5L802.35 772.97L802.6 772.86L802.7 772.48L802.85 772.17L803.1 771.92L803.3 772.27L803.35 772.55L803.6 772.47L803.85 772.18L803.9 772.34L804.1 772.3L804.35 771.9L804.5 771.81L804.6 771.68L804.85 771.52L805.1 771.57L805.35 770.81L805.6 770.69L805.7 771.4L805.85 771.05L806.3 771.19L806.9 771.46L807.5 771.88L808.1 772.41L808.7 772.48L809.3 772.22L809.9 771.95L810.5 772.13L811.1 772.38L811.7 772.79L812.3 772.12L812.9 771.84L813.5 771.57L814.1 771.58L814.7 771.3L815.3 770.92L815.9 771.8L816.5 770.75L817.1 771L817.3 771.18L817.7 771.77L817.8 771.51L818.3 772.36L818.8 772.29L818.9 772.27L819.3 772.55L819.5 772.94L819.8 772.97L820.1 773.14L820.3 772.11L820.64 775.26L820.7 775.97L820.98 779.25L821.3 783.46L821.32 783.66L821.66 788.35L821.9 791.72L822 793.06L822.25 790.2L822.5 787.61L822.75 785.37L823 783.58L823.1 782.84L823.25 781.95L823.5 780.56L823.7 779.7L823.75 779.36L824 778.32L824.25 777.44L824.3 777.21L824.5 776.65L824.75 775.98L824.9 775.54L825 775.27L825.25 774.43L825.5 774.36L825.75 773.76L826 773.62L826.1 773.37L826.25 773.19L826.5 773.21L826.7 772.5L826.75 773.08L827 772.65L827.25 772.64L827.3 772.36L827.5 772.22L827.75 771.95L827.9 772.3L828 772.54L828.25 772.37L828.5 772.26L828.75 771.88L829 771.91L829.1 772.27L829.25 771.85L829.5 772.05L829.7 772.77L829.75 772.61L830 772.79L830.25 773.22L830.3 773.05L830.5 773.08L830.75 772.94L830.9 772.99L831.5 772.98L832.1 772.99L832.7 773.01L833.3 772.14L833.9 772.02L834.5 772.02L835.1 771.64L835.7 772.01L836.3 773.38L836.9 772.63L837.5 772.57L838.1 772.05L838.7 772.58L839.3 772.46L839.9 773.37L840.5 773.02L841.1 772.16L841.7 772.27L842.3 772.69L842.9 772.38L843.5 772.91L844.1 772.64" stroke="#3a3a3a" stroke-width="1.1" fill="none" stroke-linejoin="round"/>
<path d="M385.7 1124.85L388.47 1124.55L391.24 1124.23L394.02 1123.9L396.79 1123.54L399.56 1123.17L402.33 1122.78L405.1 1122.36L407.87 1121.93L410.65 1121.47L413.42 1120.98L416.19 1120.46L418.96 1119.92L421.73 1119.34L424.5 1118.72L427.28 1118.07L430.05 1117.38L432.82 1116.65L435.59 1115.87L438.36 1115.04L441.13 1114.16L443.91 1113.22L446.68 1112.23L449.45 1111.16L452.22 1110.03L454.99 1108.83L457.76 1107.55L460.54 1106.18L463.31 1104.73L466.08 1103.18L468.85 1101.53L471.62 1099.78L474.39 1097.92L477.17 1095.94L479.94 1093.85L482.71 1091.64L485.48 1089.3L488.25 1086.83L491.02 1084.24L493.8 1081.53L496.57 1078.69L499.34 1075.74L502.11 1072.67L504.88 1069.5L507.65 1066.24L510.43 1062.9L513.2 1059.49L515.97 1056.04L518.74 1052.56L521.51 1049.06L524.28 1045.57L527.06 1042.1L529.83 1038.67L532.6 1035.31L535.37 1032.01L538.14 1028.81L540.92 1025.7L543.69 1022.7L546.46 1019.81L549.23 1017.05L552 1014.41L554.77 1011.89L557.55 1009.5L560.32 1007.24L563.09 1005.1L565.86 1003.08L568.63 1001.17L571.4 999.38L574.18 997.69L576.95 996.1L579.72 994.61L582.49 993.21L585.26 991.9L588.03 990.66L590.81 989.5L593.58 988.41L596.35 987.39L599.12 986.43L601.89 985.53L604.66 984.68L607.44 983.88L610.21 983.13L612.98 982.42L615.75 981.76L618.52 981.13L621.29 980.54L624.07 979.98L626.84 979.45L629.61 978.95L632.38 978.48L635.15 978.03L637.92 977.61L640.7 977.21L643.47 976.83L646.24 976.47L649.01 976.13L651.78 975.8L654.55 975.49L657.33 975.2L660.1 974.92L662.87 974.65L665.64 974.4L668.41 974.16L671.18 973.93L673.96 973.71L676.73 973.49L679.5 973.29L682.27 973.1L685.04 972.92L687.82 972.74L690.59 972.57L693.36 972.41L696.13 972.25L698.9 972.11L701.67 971.96L704.45 971.82L707.22 971.69L709.99 971.57L712.76 971.44L715.53 971.33L718.3 971.21L721.08 971.11L723.85 971L726.62 970.9L729.39 970.8L732.16 970.71L734.93 970.62L737.71 970.53L740.48 970.45L743.25 970.37L746.02 970.29L748.79 970.21L751.56 970.14L754.34 970.07L757.11 970L759.88 969.93L762.65 969.87L765.42 969.8L768.19 969.74L770.97 969.68L773.74 969.63L776.51 969.57L779.28 969.52L782.05 969.47L784.82 969.42L787.6 969.37L790.37 969.32L793.14 969.27L795.91 969.23L798.68 969.19L801.45 969.14L804.23 969.1L807 969.06L809.77 969.02L812.54 968.99L815.31 968.95L818.08 968.91L820.86 968.88L823.63 968.84L826.4 968.81" stroke="#3a3a3a" stroke-width="1.15" fill="none"/>
<ellipse cx="385.7" cy="1123.2" rx="2.5" ry="3.2" fill="url(#dg)"/>
<ellipse cx="407.1" cy="1122.6" rx="2.5" ry="3.2" fill="url(#dg)"/>
<ellipse cx="429.3" cy="1119.5" rx="2.5" ry="3.2" fill="url(#dg)"/>
<ellipse cx="451.9" cy="1114.8" rx="2.5" ry="3.2" fill="url(#dg)"/>
<ellipse cx="474.4" cy="1091.1" rx="2.5" ry="3.2" fill="url(#dg)"/>
<ellipse cx="497.4" cy="1077.4" rx="2.5" ry="3.2" fill="url(#dg)"/>
<ellipse cx="520.9" cy="1050.8" rx="2.5" ry="3.2" fill="url(#dg)"/>
<ellipse cx="544.7" cy="1025.8" rx="2.5" ry="3.2" fill="url(#dg)"/>
<ellipse cx="568.6" cy="999.5" rx="2.5" ry="3.2" fill="url(#dg)"/>
<ellipse cx="593.5" cy="985.5" rx="2.5" ry="3.2" fill="url(#dg)"/>
<ellipse cx="618" cy="978.1" rx="2.5" ry="3.2" fill="url(#dg)"/>
<ellipse cx="643.3" cy="976.6" rx="2.5" ry="3.2" fill="url(#dg)"/>
<ellipse cx="668.5" cy="975.4" rx="2.5" ry="3.2" fill="url(#dg)"/>
<ellipse cx="694.7" cy="975.1" rx="2.5" ry="3.2" fill="url(#dg)"/>
<ellipse cx="721" cy="967" rx="2.5" ry="3.2" fill="url(#dg)"/>
<ellipse cx="747.8" cy="974.4" rx="2.5" ry="3.2" fill="url(#dg)"/>
<ellipse cx="774.9" cy="969.2" rx="2.5" ry="3.2" fill="url(#dg)"/>
<ellipse cx="802.4" cy="969.2" rx="2.5" ry="3.2" fill="url(#dg)"/>
<ellipse cx="830.4" cy="969.7" rx="2.5" ry="3.2" fill="url(#dg)"/>
<text x="215.5" y="696" font-size="57" font-weight="bold">d</text>
<text x="607.2" y="696.3" font-size="32.4" text-anchor="middle">Time (s)</text>
<text x="343.4" y="739.4" class="tk" text-anchor="middle">0</text>
<text x="439.69" y="739.4" class="tk" text-anchor="middle">1000</text>
<text x="535.98" y="739.4" class="tk" text-anchor="middle">2000</text>
<text x="632.27" y="739.4" class="tk" text-anchor="middle">3000</text>
<text x="728.56" y="739.4" class="tk" text-anchor="middle">4000</text>
<text x="824.85" y="739.4" class="tk" text-anchor="middle">5000</text>
<text x="332.8" y="782.1" class="tk" text-anchor="end">0</text>
<text x="332.8" y="833.1" class="tk" text-anchor="end">-0.5</text>
<text x="332.8" y="886.5" class="tk" text-anchor="end">-1.0</text>
<text x="332.8" y="939.9" class="tk" text-anchor="end">-1.5</text>
<text x="332.8" y="988.94" class="tk" text-anchor="end">-10</text>
<text x="332.8" y="1027.38" class="tk" text-anchor="end">-20</text>
<text x="332.8" y="1065.82" class="tk" text-anchor="end">-30</text>
<text x="332.8" y="1104.26" class="tk" text-anchor="end">-40</text>
<text x="332.8" y="1143.5" class="tk" text-anchor="end">-50</text>
<text x="343.4" y="1164.5" class="tk" text-anchor="middle">0</text>
<text x="419.06" y="1164.5" class="tk" text-anchor="middle">0.5</text>
<text x="494.71" y="1164.5" class="tk" text-anchor="middle">1</text>
<text x="570.37" y="1164.5" class="tk" text-anchor="middle">1.5</text>
<text x="646.03" y="1164.5" class="tk" text-anchor="middle">2</text>
<text x="721.69" y="1164.5" class="tk" text-anchor="middle">2.5</text>
<text x="797.34" y="1164.5" class="tk" text-anchor="middle">3</text>
<text x="873" y="1164.5" class="tk" text-anchor="middle">3.5</text>
<text x="608.3" y="1210.5" font-size="32.05" text-anchor="middle">Molar Ratio of Cdc5:Dbf4</text>
<text transform="translate(261.6 846.9) rotate(-90)" font-size="32.4" text-anchor="middle">(μJ/s)</text>
<text transform="translate(262.2 1042.7) rotate(-90)" font-size="32.4" text-anchor="middle">(KJ/mol)</text>
</g>
<g id="pe">
<path d="M1126.9 742.4L1126.9 1143.5M1656.9 742.4L1656.9 1143.5M1126.9 750.4L1656.9 750.4M1120.4 942L1656.9 942M1120.4 1134.5L1656.9 1134.5M1175.08 742.4L1175.08 758.4M1223.26 742.4L1223.26 758.4M1271.45 742.4L1271.45 758.4M1319.63 742.4L1319.63 758.4M1367.81 742.4L1367.81 758.4M1415.99 742.4L1415.99 758.4M1464.17 742.4L1464.17 758.4M1512.35 742.4L1512.35 758.4M1560.54 742.4L1560.54 758.4M1608.72 742.4L1608.72 758.4M1120.4 771.3L1132.4 771.3M1120.4 824.7L1132.4 824.7M1120.4 878.1L1132.4 878.1M1120.4 931.5L1132.4 931.5M1202.61 1126.5L1202.61 1143.5M1278.33 1126.5L1278.33 1143.5M1354.04 1126.5L1354.04 1143.5M1429.76 1126.5L1429.76 1143.5M1505.47 1126.5L1505.47 1143.5M1581.19 1126.5L1581.19 1143.5M1120.4 980.5L1132.4 980.5M1120.4 1019L1132.4 1019M1120.4 1057.5L1132.4 1057.5M1120.4 1096L1132.4 1096" stroke="#6b6b6b" stroke-width="1.3" fill="none"/>
<path d="M1127.2 771.46L1127.4 771.19L1127.74 773.07L1127.8 773.56L1128.08 775.48L1128.4 777.77L1128.42 777.9L1128.76 780.58L1129 782.53L1129.1 783.26L1129.35 781.58L1129.6 780.09L1129.85 778.88L1130.1 777.83L1130.2 777.47L1130.35 776.93L1130.6 776.23L1130.8 775.76L1130.85 775.5L1131.1 775.07L1131.35 774.46L1131.4 774.37L1131.6 773.91L1131.85 773.51L1132 773.49L1132.1 773.26L1132.35 773.28L1132.6 772.91L1132.85 772.77L1133.1 772.85L1133.2 772.52L1133.35 771.81L1133.6 772.02L1133.8 772.49L1133.85 772.68L1134.1 772.19L1134.35 772L1134.4 771.85L1134.6 772.19L1134.85 771.66L1135 771.73L1135.1 771.97L1135.35 771.87L1135.6 771.67L1135.85 771.78L1136.1 771.15L1136.2 771.09L1136.35 771.14L1136.6 771.09L1136.8 770.93L1136.85 771.38L1137.1 770.83L1137.35 771.09L1137.4 770.86L1137.6 771.1L1137.85 771.02L1138 771.08L1138.6 771.53L1139.2 770.95L1139.8 771.21L1140.4 770.8L1141 771.07L1141.6 771.56L1142.2 770.94L1142.8 771.16L1143.4 771.45L1144 771.37L1144.6 771.24L1145.2 771.07L1145.8 770.92L1146.4 771.36L1147 771.21L1147.6 770.91L1148.2 771.27L1148.8 771.63L1149.4 771.3L1149.8 771.07L1150 771.27L1150.3 771.4L1150.6 771.69L1150.8 771.9L1151.2 771.67L1151.3 771.74L1151.8 772.12L1152.3 772.15L1152.4 772.32L1152.8 770.98L1153 783.77L1153.14 794.63L1153.48 823.18L1153.6 833.99L1153.82 854.25L1154.16 886.85L1154.2 890.92L1154.5 920.8L1154.75 900.35L1154.8 896.63L1155 882.76L1155.25 867.43L1155.4 859.36L1155.5 854.31L1155.75 842.9L1156 833.26L1156.25 824.8L1156.5 817.44L1156.6 814.61L1156.75 811.05L1157 805.59L1157.2 801.69L1157.25 800.89L1157.5 796.72L1157.75 793.07L1157.8 792.5L1158 790.24L1158.25 787.7L1158.4 786.78L1158.5 785.54L1158.75 783.76L1159 782.01L1159.25 781.02L1159.5 778.97L1159.6 778.72L1159.75 778.24L1160 776.51L1160.2 775.81L1160.25 775.73L1160.5 774.75L1160.75 774.65L1160.8 774.2L1161 774.14L1161.25 773.69L1161.4 773.43L1161.5 773.53L1161.75 773.1L1162 773.25L1162.25 772.67L1162.5 772.71L1162.6 773.07L1162.75 772.36L1163 772.78L1163.2 772.52L1163.25 772.46L1163.8 772.07L1164.4 771.98L1165 771.1L1165.6 771.57L1166.2 771.56L1166.8 771.18L1167.4 770.84L1168 770.74L1168.6 770.54L1169.2 770.64L1169.8 771.34L1170.4 771.5L1171 771.9L1171.6 772.04L1172.2 771.89L1172.8 771.69L1173.4 771.1L1174 770.88L1174.6 770.99L1174.9 770.88L1175.2 770.53L1175.4 770.81L1175.8 770.87L1175.9 771.31L1176.4 771.73L1176.9 771.86L1177 771.65L1177.4 772.36L1177.6 772.25L1177.9 771.25L1178.2 792.12L1178.24 795.35L1178.58 824.84L1178.8 845.33L1178.92 856.75L1179.26 890.3L1179.4 904.37L1179.6 925.04L1179.85 903.9L1180 892.77L1180.1 885.79L1180.35 869.98L1180.6 856.43L1180.85 844.73L1181.1 834.66L1181.2 830.98L1181.35 826.01L1181.6 818.43L1181.8 813.11L1181.85 812.03L1182.1 806.46L1182.35 801.74L1182.4 800.85L1182.6 797.58L1182.85 794.27L1183 792.44L1183.1 791.14L1183.35 788.43L1183.6 786.24L1183.85 784.37L1184.1 782.13L1184.2 781.83L1184.35 780.77L1184.6 779.51L1184.8 778.34L1184.85 778.27L1185.1 777.13L1185.35 776.52L1185.4 776.04L1185.6 775.48L1185.85 774.95L1186 774.29L1186.1 774.26L1186.35 774.37L1186.6 773.83L1186.85 773.4L1187.1 773.24L1187.2 772.85L1187.35 772.62L1187.6 772.26L1187.8 771.72L1187.85 772.21L1188.1 771.74L1188.35 771.59L1188.4 771.52L1189 771.41L1189.6 771.22L1190.2 771.77L1190.8 772.1L1191.4 771.69L1192 771.18L1192.6 770.82L1193.2 771L1193.8 771.29L1194.4 771.41L1195 771.65L1195.6 771.27L1196.2 771.76L1196.8 771.66L1197.4 771.4L1198 771.14L1198.6 771.03L1199.2 771.02L1199.8 770.91L1200.1 770.99L1200.4 771.33L1200.6 770.52L1201 770.51L1201.1 770.97L1201.6 771.03L1202.1 771.66L1202.2 771.41L1202.6 772.21L1202.8 772.72L1203.1 771.31L1203.4 791.29L1203.44 794.45L1203.78 822.83L1204 842.48L1204.12 853.32L1204.46 885.49L1204.6 899.22L1204.8 918.89L1205.05 898.66L1205.2 888.01L1205.3 881.17L1205.55 866.17L1205.8 853.26L1206.05 841.94L1206.3 832.34L1206.4 828.73L1206.55 823.98L1206.8 816.74L1207 811.75L1207.05 810.46L1207.3 805.06L1207.55 800.4L1207.6 799.62L1207.8 796.32L1208.05 792.54L1208.2 791.05L1208.3 789.64L1208.55 787.01L1208.8 784.55L1209.05 782.97L1209.3 781.02L1209.4 780.41L1209.55 779.77L1209.8 779.15L1210 778.13L1210.05 777.73L1210.3 777.01L1210.55 776.44L1210.6 776.45L1210.8 775.37L1211.05 775.39L1211.2 774.99L1211.3 774.47L1211.55 774.07L1211.8 773.83L1212.05 773.3L1212.3 773.03L1212.4 772.65L1212.55 772.3L1212.8 772.85L1213 772.19L1213.05 772.15L1213.3 772L1213.55 772.01L1213.6 771.9L1214.2 771.33L1214.8 771.4L1215.4 771.31L1216 771.51L1216.6 771.62L1217.2 772.27L1217.8 772.32L1218.4 772.16L1219 770.8L1219.6 770.91L1220.2 770.74L1220.8 770.77L1221.4 770.74L1222 770.69L1222.6 770.99L1223.2 770.88L1223.8 770.8L1224.4 771.08L1225 771.89L1225.2 771.65L1225.6 771.93L1225.7 772.08L1226.2 771.69L1226.7 771.72L1226.8 771.73L1227.2 772.22L1227.4 772.39L1227.7 772.44L1228 772.95L1228.2 771.29L1228.54 793.3L1228.6 797.91L1228.88 820.19L1229.2 847.44L1229.22 849.15L1229.56 879.85L1229.8 902.01L1229.9 911.44L1230.15 892.29L1230.4 875.76L1230.65 861.27L1230.9 849.04L1231 844.55L1231.15 838.23L1231.4 829.02L1231.6 822.62L1231.65 821.25L1231.9 814.26L1232.15 808.43L1232.2 807.35L1232.4 803.18L1232.65 798.88L1232.8 796.59L1232.9 795.05L1233.15 791.77L1233.4 788.5L1233.65 785.99L1233.9 784.13L1234 783.61L1234.15 782.37L1234.4 781.13L1234.6 779.59L1234.65 779.54L1234.9 778.81L1235.15 777.07L1235.2 777.44L1235.4 776.51L1235.65 775.77L1235.8 775.45L1235.9 774.97L1236.15 774.89L1236.4 774.39L1236.65 774.19L1236.9 773.75L1237 773.46L1237.15 773.69L1237.4 773.17L1237.6 773.15L1237.65 773.73L1237.9 773.38L1238.15 773.06L1238.2 773.22L1238.4 772.68L1238.65 772.6L1238.8 772.16L1239.4 771.72L1240 771.53L1240.6 771.75L1241.2 771.32L1241.8 771.65L1242.4 771.25L1243 770.5L1243.6 770.06L1244.2 770.3L1244.8 771.1L1245.4 771.43L1246 771.87L1246.6 771.36L1247.2 771.51L1247.8 771.42L1248.4 771.46L1249 771.98L1249.6 771.7L1250.2 771.44L1250.3 771.52L1250.8 771.25L1251.3 771.1L1251.4 771.19L1251.8 771.15L1252 771.54L1252.3 770.97L1252.6 771.65L1252.8 772.46L1253.2 772.42L1253.3 771.07L1253.64 791.54L1253.8 802.94L1253.98 816.47L1254.32 843.55L1254.4 849.92L1254.66 871.77L1255 901.37L1255.25 883.53L1255.5 868.2L1255.6 862.63L1255.75 855L1256 843.44L1256.2 835.55L1256.25 833.64L1256.5 825.09L1256.75 817.71L1256.8 816.45L1257 811.41L1257.25 805.88L1257.4 802.99L1257.5 801.11L1257.75 797.17L1258 793.64L1258.25 790.87L1258.5 787.98L1258.6 787.04L1258.75 785.28L1259 783.41L1259.2 781.98L1259.25 781.67L1259.5 780.29L1259.75 778.8L1259.8 778.51L1260 778.06L1260.25 776.86L1260.4 776.34L1260.5 775.78L1260.75 775.29L1261 774.99L1261.25 774.64L1261.5 773.85L1261.6 774.06L1261.75 773.94L1262 773.5L1262.2 773.42L1262.25 773.64L1262.5 772.99L1262.75 772.58L1262.8 772.8L1263 772.51L1263.25 772.42L1263.4 772.4L1263.5 772.33L1263.75 771.93L1264 771.89L1264.6 771.29L1265.2 771.41L1265.8 771.39L1266.4 771.32L1267 771L1267.6 771.11L1268.2 771.24L1268.8 771.6L1269.4 771.85L1270 772.04L1270.6 771.5L1271.2 771.2L1271.8 770.43L1272.4 770.57L1273 771.15L1273.6 771.18L1274.2 770.76L1274.8 771.21L1275.1 771.26L1275.4 771.23L1275.6 771.23L1276 771.62L1276.1 771.65L1276.6 772.18L1277.1 772.25L1277.2 772.28L1277.6 772.52L1277.8 771.99L1278.1 771.15L1278.4 785.91L1278.44 788.14L1278.78 808.89L1279 823.25L1279.12 831.38L1279.46 855L1279.6 865.1L1279.8 879.6L1280.05 864.8L1280.2 856.9L1280.3 851.97L1280.55 841.01L1280.8 831.54L1281.05 823.3L1281.3 816.09L1281.4 813.5L1281.55 810.05L1281.8 804.69L1282 800.97L1282.05 800.03L1282.3 796.16L1282.55 792.74L1282.6 792.06L1282.8 789.79L1283.05 787.01L1283.2 785.82L1283.3 784.59L1283.55 783.01L1283.8 781.86L1284.05 779.99L1284.3 778.86L1284.4 778.14L1284.55 777.39L1284.8 776.39L1285 775.59L1285.05 775.66L1285.3 774.71L1285.55 774.36L1285.6 774.92L1285.8 774.07L1286.05 773.59L1286.2 773.76L1286.3 773.56L1286.55 773.25L1286.8 772.94L1287.05 773L1287.3 772.85L1287.4 772.91L1287.55 772.93L1287.8 772.83L1288 772.53L1288.05 772.81L1288.3 772.7L1288.55 772.22L1288.6 772.56L1289.2 772.1L1289.8 771.78L1290.4 771.19L1291 771.15L1291.6 770.93L1292.2 770.5L1292.8 770.82L1293.4 770.84L1294 771.13L1294.6 770.88L1295.2 770.87L1295.8 771.16L1296.4 771.22L1297 771.53L1297.6 771.57L1298.2 771.59L1298.8 771.42L1299.4 771.41L1300 771.55L1300.3 771.81L1300.6 771.51L1300.8 771.72L1301.2 771.73L1301.3 771.09L1301.8 771.62L1302.3 771.64L1302.4 771.74L1302.8 771.85L1303 772.06L1303.3 771.14L1303.6 782.8L1303.64 784.57L1303.98 800.9L1304.2 811.97L1304.32 818.42L1304.66 836.89L1304.8 844.51L1305 855.89L1305.25 844.15L1305.4 837.87L1305.5 834.11L1305.75 825.53L1306 818.07L1306.25 811.6L1306.5 806.13L1306.6 804.12L1306.75 801.45L1307 797.15L1307.2 794.32L1307.25 793.68L1307.5 790.65L1307.75 788.05L1307.8 787.75L1308 785.81L1308.25 784.42L1308.4 782.99L1308.5 782.52L1308.75 781.39L1309 780.1L1309.25 778.37L1309.5 778.05L1309.6 777.29L1309.75 776.47L1310 775.88L1310.2 775.07L1310.25 774.76L1310.5 774.53L1310.75 774.2L1310.8 774.18L1311 773.33L1311.25 773.19L1311.4 773.19L1311.5 773.35L1311.75 773.15L1312 772.53L1312.25 772.08L1312.5 772.18L1312.6 771.86L1312.75 771.9L1313 771.82L1313.2 771.6L1313.25 771.23L1313.5 771.1L1313.75 771L1313.8 771.47L1314.4 771.61L1315 771.23L1315.6 771.4L1316.2 771.35L1316.8 771.4L1317.4 770.94L1318 770.68L1318.6 771.13L1319.2 771.3L1319.8 771.38L1320.4 771.83L1321 771.61L1321.6 771.8L1322.2 771.21L1322.8 770.88L1323.4 771.12L1324 770.84L1324.6 771.15L1325.2 770.96L1325.4 770.88L1325.8 771.01L1325.9 771L1326.4 770.7L1326.9 771.72L1327 771.66L1327.4 771.51L1327.6 772L1327.9 772.32L1328.2 772.58L1328.4 771.19L1328.74 781.05L1328.8 783.04L1329.08 793.01L1329.4 805L1329.42 805.71L1329.76 819.21L1330 829.09L1330.1 833.32L1330.35 824.68L1330.6 817.43L1330.85 811.19L1331.1 805.59L1331.2 803.82L1331.35 800.99L1331.6 797L1331.8 794.16L1331.85 793.56L1332.1 790.57L1332.35 787.95L1332.4 787.61L1332.6 785.48L1332.85 783.6L1333 782.48L1333.1 781.88L1333.35 780.21L1333.6 778.86L1333.85 777.68L1334.1 776.53L1334.2 776.49L1334.35 775.5L1334.6 775L1334.8 774.64L1334.85 774.82L1335.1 773.78L1335.35 773.42L1335.4 773.72L1335.6 773.38L1335.85 772.82L1336 773.23L1336.1 772.96L1336.35 772.67L1336.6 772.52L1336.85 772.47L1337.1 772.22L1337.2 772.3L1337.35 772.21L1337.6 771.76L1337.8 771.55L1337.85 772.18L1338.1 771.63L1338.35 772.03L1338.4 771.7L1338.6 771.1L1338.85 771.72L1339 771.5L1339.6 771.24L1340.2 771.5L1340.8 770.97L1341.4 770.99L1342 771.31L1342.6 771.29L1343.2 771.15L1343.8 771.27L1344.4 771.48L1345 771.45L1345.6 771.29L1346.2 771.2L1346.8 771.18L1347.4 770.88L1348 770.88L1348.6 770.9L1349.2 770.78L1349.8 771.24L1350.4 771.31L1350.5 771.08L1351 770.89L1351.5 770.96L1351.6 770.93L1352 772.06L1352.2 772.06L1352.5 772.16L1352.8 772.18L1353 772.57L1353.4 773.01L1353.5 771.32L1353.84 777.77L1354 781.68L1354.18 785.86L1354.52 794.4L1354.6 796.62L1354.86 803.63L1355.2 813.12L1355.45 807.36L1355.7 802.31L1355.8 800.62L1355.95 798.05L1356.2 794.42L1356.4 791.82L1356.45 791.26L1356.7 788.49L1356.95 786.08L1357 785.83L1357.2 784.04L1357.45 782.27L1357.6 781.38L1357.7 780.8L1357.95 779.51L1358.2 778.23L1358.45 777.12L1358.7 776.69L1358.8 776.25L1358.95 775.9L1359.2 775.04L1359.4 774.69L1359.45 774.73L1359.7 774.56L1359.95 774.3L1360 774.25L1360.2 773.37L1360.45 773.35L1360.6 773.13L1360.7 772.87L1360.95 772.49L1361.2 772.01L1361.45 771.88L1361.7 771.27L1361.8 771.96L1361.95 771.68L1362.2 771.88L1362.4 771.4L1362.45 771.21L1362.7 771.92L1362.95 771.09L1363 771.28L1363.2 771.66L1363.45 771.74L1363.6 771.28L1363.7 771.36L1363.95 771.3L1364.2 771.44L1364.8 771.21L1365.4 771.66L1366 771.85L1366.6 771.71L1367.2 771.67L1367.8 771.77L1368.4 770.85L1369 770.37L1369.6 770.79L1370.2 771.16L1370.8 771L1371.4 771.03L1372 771.64L1372.6 771.8L1373.2 771.94L1373.8 771.96L1374.4 771.24L1375 770.95L1375.6 771.29L1376.1 771.08L1376.2 770.89L1376.6 770.98L1376.8 770.72L1377.1 770.81L1377.4 771.21L1377.6 771.49L1378 771.9L1378.1 771.85L1378.6 771.28L1378.94 776.35L1379.2 780.94L1379.28 782.37L1379.62 789.12L1379.8 792.6L1379.96 795.99L1380.3 803.3L1380.4 801.5L1380.55 798.9L1380.8 794.97L1381 792.22L1381.05 791.67L1381.3 788.85L1381.55 786.41L1381.6 785.89L1381.8 784.26L1382.05 782.5L1382.2 781.54L1382.3 781.02L1382.55 779.67L1382.8 778.54L1383.05 777.51L1383.3 776.7L1383.4 776.1L1383.55 775.99L1383.8 775.11L1384 774.98L1384.05 774.95L1384.3 774.34L1384.55 774.17L1384.6 773.65L1384.8 773.47L1385.05 773.06L1385.2 772.95L1385.3 773.19L1385.55 772.44L1385.8 772.89L1386.05 772.69L1386.3 772.42L1386.4 772.19L1386.55 772.26L1386.8 772.04L1387 772.35L1387.05 771.81L1387.3 771.75L1387.55 771.83L1387.6 771.29L1387.8 771.96L1388.05 771.41L1388.2 771.5L1388.3 771.29L1388.55 770.68L1388.8 770.85L1389.05 770.79L1389.4 770.42L1390 770.82L1390.6 771.37L1391.2 771.97L1391.8 771.36L1392.4 771.09L1393 771.08L1393.6 771.12L1394.2 771.08L1394.8 771.64L1395.4 771.66L1396 770.88L1396.6 771.25L1397.2 771L1397.8 771.37L1398.4 771.7L1399 771.26L1399.6 771.06L1400.2 771.21L1400.7 770.94L1400.8 771.63L1401.2 770.95L1401.4 771.22L1401.7 770.83L1402 771.5L1402.2 771.51L1402.6 771.02L1402.7 771.46L1403.2 771.78L1403.7 771.32L1403.8 772.11L1404.04 775.38L1404.38 780.52L1404.4 780.76L1404.72 785.92L1405 790.61L1405.06 791.77L1405.4 797.75L1405.6 794.76L1405.65 794.17L1405.9 791.01L1406.15 788.39L1406.2 787.92L1406.4 786.11L1406.65 784.05L1406.8 782.89L1406.9 782.27L1407.15 780.75L1407.4 779.53L1407.65 778.28L1407.9 777.42L1408 776.97L1408.15 776.5L1408.4 775.66L1408.6 775.18L1408.65 774.65L1408.9 774.36L1409.15 773.46L1409.2 773.41L1409.4 772.94L1409.65 772.24L1409.8 772.5L1409.9 771.81L1410.15 772L1410.4 772.11L1410.65 772.2L1410.9 771.95L1411 772.02L1411.15 772.11L1411.4 772L1411.6 772.16L1411.65 772.03L1411.9 772.26L1412.15 772.05L1412.2 771.91L1412.4 771.85L1412.65 771.94L1412.8 771.7L1412.9 771.56L1413.15 771.56L1413.4 771.79L1413.65 771.36L1413.9 771.71L1414 771.85L1414.15 771.54L1414.6 771.55L1415.2 771.19L1415.8 771.07L1416.4 770.79L1417 770.68L1417.6 770.61L1418.2 770.88L1418.8 771.36L1419.4 771.19L1420 771.5L1420.6 770.84L1421.2 771.31L1421.8 770.81L1422.4 771.07L1423 771.69L1423.6 771.41L1424.2 771.83L1424.8 771.42L1425.4 771.5L1425.7 770.91L1426 771.27L1426.2 771.14L1426.6 771.46L1426.7 771.02L1427.2 771L1427.7 770.88L1427.8 770.75L1428.2 771.47L1428.4 771.46L1428.7 771.22L1429 773.97L1429.04 774.46L1429.38 778.36L1429.6 781.1L1429.72 782.67L1430.06 787.09L1430.2 789.04L1430.4 791.69L1430.65 788.93L1430.8 787.54L1430.9 786.49L1431.15 784.34L1431.4 782.72L1431.65 781.06L1431.9 779.64L1432 779.14L1432.15 778.55L1432.4 777.42L1432.6 776.66L1432.65 776.63L1432.9 775.84L1433.15 775.21L1433.2 775.02L1433.4 774.63L1433.65 773.7L1433.8 773.58L1433.9 773.54L1434.15 773.22L1434.4 773.12L1434.65 772.84L1434.9 772.33L1435 772.35L1435.15 772.55L1435.4 772.59L1435.6 772.41L1435.65 772.23L1435.9 772.34L1436.15 772.5L1436.2 772.54L1436.4 772.11L1436.65 771.94L1436.8 772.07L1436.9 771.88L1437.15 771.85L1437.4 771.5L1437.65 771.59L1437.9 771.51L1438 771.67L1438.15 771.58L1438.4 771.33L1438.6 771.09L1438.65 771.44L1438.9 771.11L1439.15 770.92L1439.2 771.13L1439.8 770.73L1440.4 771.2L1441 771.12L1441.6 771.46L1442.2 771.34L1442.8 771.49L1443.4 771.58L1444 771.42L1444.6 771.41L1445.2 771.39L1445.8 771.14L1446.4 771.22L1447 771.2L1447.6 770.59L1448.2 770.09L1448.8 770.59L1449.4 771.12L1450 771.42L1450.6 771.58L1450.8 771.34L1451.2 771.8L1451.3 771.44L1451.8 771.61L1452.3 771.4L1452.4 771.18L1452.8 771.78L1453 771.9L1453.3 772.03L1453.6 771.91L1453.8 771.26L1454.14 774.39L1454.2 774.99L1454.48 778.32L1454.8 782.28L1454.82 782.53L1455.16 786.97L1455.4 790.22L1455.5 791.59L1455.75 788.8L1456 786.38L1456.25 784.3L1456.5 782.47L1456.6 781.98L1456.75 781.18L1457 779.82L1457.2 779L1457.25 778.71L1457.5 777.55L1457.75 776.86L1457.8 776.57L1458 776.01L1458.25 775.31L1458.4 774.97L1458.5 774.84L1458.75 774.46L1459 773.43L1459.25 773.34L1459.5 772.73L1459.6 772.98L1459.75 772.85L1460 772.17L1460.2 772.25L1460.25 772.23L1460.5 771.98L1460.75 771.93L1460.8 771.67L1461 771.72L1461.25 771.62L1461.4 771.66L1461.5 771.65L1461.75 771.27L1462 771.7L1462.25 771.97L1462.5 771.51L1462.6 771.66L1462.75 771.16L1463 771.82L1463.2 771.77L1463.25 771.93L1463.5 772.08L1463.75 771.65L1463.8 771.69L1464 771.97L1464.25 771.81L1464.4 772.05L1465 771.52L1465.6 771.56L1466.2 771.14L1466.8 770.78L1467.4 770.78L1468 770.23L1468.6 770.36L1469.2 770.82L1469.8 770.85L1470.4 771.71L1471 771.47L1471.6 771.22L1472.2 771.03L1472.8 771.44L1473.4 771.42L1474 771.36L1474.6 771.66L1475.2 771.54L1475.8 771.06L1476.3 771.12L1476.4 771.27L1476.8 771.59L1477 771.67L1477.3 771.69L1477.6 771.98L1477.8 771.8L1478.2 771.66L1478.3 771.91L1478.8 771.07L1479.14 774.02L1479.4 776.87L1479.48 777.69L1479.82 781.82L1480 783.98L1480.16 786.06L1480.5 790.44L1480.6 789.29L1480.75 787.66L1481 785.53L1481.2 784.09L1481.25 783.63L1481.5 782.06L1481.75 780.65L1481.8 780.22L1482 779.32L1482.25 778.26L1482.4 777.78L1482.5 777.42L1482.75 776.46L1483 775.82L1483.25 775.17L1483.5 774.54L1483.6 774.8L1483.75 774.64L1484 773.7L1484.2 773.8L1484.25 773.47L1484.5 773.57L1484.75 773.35L1484.8 773.01L1485 772.86L1485.25 772.98L1485.4 772.46L1485.5 772.61L1485.75 771.77L1486 771.56L1486.25 771.84L1486.5 771.49L1486.6 771.32L1486.75 771.08L1487 771.25L1487.2 770.9L1487.25 771.12L1487.5 771.26L1487.75 771.05L1487.8 770.78L1488 770.75L1488.25 770.99L1488.4 770.64L1488.5 771.25L1488.75 770.99L1489 771.08L1489.25 771.24L1489.6 771.32L1490.2 771.92L1490.8 771.44L1491.4 771.08L1492 771.33L1492.6 770.85L1493.2 771.22L1493.8 771.08L1494.4 771L1495 771.23L1495.6 770.95L1496.2 770.84L1496.8 771.45L1497.4 771.53L1498 771.78L1498.6 771.54L1499.2 771.26L1499.8 770.85L1500.4 770.8L1500.8 770.79L1501 771.06L1501.3 770.74L1501.6 770.89L1501.8 771.01L1502.2 770.94L1502.3 771.27L1502.8 771.31L1503.3 771.36L1503.4 771.36L1503.8 771.18L1504 772.77L1504.14 774.11L1504.48 777.67L1504.6 778.93L1504.82 781.54L1505.16 785.48L1505.2 786.02L1505.5 789.58L1505.75 787.16L1505.8 786.64L1506 784.86L1506.25 782.98L1506.4 781.99L1506.5 781.25L1506.75 779.92L1507 778.56L1507.25 777.64L1507.5 776.68L1507.6 776.33L1507.75 775.92L1508 775.37L1508.2 774.94L1508.25 774.71L1508.5 774.32L1508.75 773.68L1508.8 773.88L1509 773.27L1509.25 773.08L1509.4 772.57L1509.5 772.93L1509.75 772.65L1510 772.55L1510.25 772.52L1510.5 772.03L1510.6 772.15L1510.75 771.64L1511 771.76L1511.2 771.65L1511.25 772.04L1511.5 771.96L1511.75 771.91L1511.8 771.87L1512 772.25L1512.25 772.02L1512.4 771.75L1512.5 772.19L1512.75 772.16L1513 771.93L1513.25 771.2L1513.5 771.34L1513.6 771.56L1513.75 771.32L1514 770.95L1514.2 771.24L1514.25 771.06L1514.8 771.29L1515.4 771.47L1516 771.74L1516.6 771.05L1517.2 771.23L1517.8 770.76L1518.4 771.18L1519 771.11L1519.6 771.19L1520.2 771.33L1520.8 771.31L1521.4 771.55L1522 771.56L1522.6 771.72L1523.2 771.49L1523.8 771.3L1524.4 770.77L1525 770.62L1525.6 771.17L1526 771.67L1526.2 771.18L1526.5 771.03L1526.8 770.69L1527 771.37L1527.4 771.18L1527.5 771.3L1528 771.76L1528.5 772.06L1528.6 772.34L1529 771.35L1529.2 772.76L1529.34 773.93L1529.68 777.09L1529.8 778.35L1530.02 780.72L1530.36 784.23L1530.4 784.81L1530.7 788.33L1530.95 785.94L1531 785.44L1531.2 783.84L1531.45 782.17L1531.6 781.2L1531.7 780.68L1531.95 779.49L1532.2 778.29L1532.45 777.36L1532.7 776.67L1532.8 776.34L1532.95 775.87L1533.2 775.2L1533.4 774.99L1533.45 774.9L1533.7 774.28L1533.95 774.22L1534 774.06L1534.2 773.73L1534.45 773.55L1534.6 773.09L1534.7 772.84L1534.95 772.69L1535.2 772.49L1535.45 772.52L1535.7 772.26L1535.8 772.17L1535.95 772.64L1536.2 772.33L1536.4 772.25L1536.45 772.49L1536.7 771.88L1536.95 771.63L1537 771.7L1537.2 771.25L1537.45 771.06L1537.6 770.94L1537.7 771.21L1537.95 770.66L1538.2 770.93L1538.45 770.89L1538.7 771.26L1538.8 770.9L1538.95 771.22L1539.2 771.3L1539.4 771.37L1539.45 771.54L1540 771.16L1540.6 771.75L1541.2 771.41L1541.8 771.01L1542.4 771.1L1543 770.86L1543.6 771.14L1544.2 771.65L1544.8 770.92L1545.4 771.52L1546 771.05L1546.6 771.68L1547.2 771.18L1547.8 771.58L1548.4 771.67L1549 771.58L1549.6 771.37L1550.2 770.94L1550.8 771.04L1550.9 770.93L1551.4 770.44L1551.9 770.32L1552 771.35L1552.4 770.55L1552.6 771.13L1552.9 771.16L1553.2 771.35L1553.4 771.42L1553.8 772.24L1553.9 771.3L1554.24 773.72L1554.4 775.25L1554.58 776.91L1554.92 780.38L1555 781.09L1555.26 783.72L1555.6 787.67L1555.85 785.49L1556.1 783.61L1556.2 782.86L1556.35 781.74L1556.6 780.37L1556.8 779.41L1556.85 779.2L1557.1 778.06L1557.35 777.15L1557.4 776.87L1557.6 776.23L1557.85 775.48L1558 775.12L1558.1 774.79L1558.35 774.46L1558.6 773.82L1558.85 773.09L1559.1 773.03L1559.2 772.68L1559.35 772.93L1559.6 772.79L1559.8 772.74L1559.85 772.36L1560.1 772.3L1560.35 772.38L1560.4 772.35L1560.6 772.42L1560.85 772.42L1561 772.3L1561.1 772.16L1561.35 772.33L1561.6 772.12L1561.85 771.76L1562.1 771.42L1562.2 771.29L1562.35 771.38L1562.6 770.72L1562.8 770.47L1562.85 770.67L1563.1 770.67L1563.35 770.65L1563.4 770.67L1563.6 770.75L1563.85 770.97L1564 770.83L1564.1 770.8L1564.35 771.05L1564.6 771.19L1565.2 771.02L1565.8 770.85L1566.4 771.38L1567 771.61L1567.6 772.05L1568.2 771.93L1568.8 771.85L1569.4 771.61L1570 770.93L1570.6 770.62L1571.2 770.64L1571.8 770.68L1572.4 771.05L1573 770.74L1573.6 771.09L1574.2 771.17L1574.8 771.41L1575.4 771.58L1576 770.8L1576.1 771.2L1576.6 771.13L1577.1 771.63L1577.2 770.71L1577.6 771.08L1577.8 771.42L1578.1 771.38L1578.4 771.58L1578.6 771.23L1579 771.79L1579.1 771.23L1579.44 773.85L1579.6 775.11L1579.78 776.72L1580.12 779.89L1580.2 780.78L1580.46 783.28L1580.8 786.8L1581.05 784.62L1581.3 782.92L1581.4 782.26L1581.55 781.21L1581.8 779.84L1582 778.93L1582.05 778.66L1582.3 777.55L1582.55 776.68L1582.6 776.54L1582.8 775.85L1583.05 775.12L1583.2 774.81L1583.3 774.54L1583.55 774.04L1583.8 773.67L1584.05 773.16L1584.3 772.89L1584.4 772.57L1584.55 772.33L1584.8 772.18L1585 772.07L1585.05 772.11L1585.3 771.74L1585.55 771.61L1585.6 771.65L1585.8 771.29L1586.05 771.43L1586.2 771.48L1586.3 771.59L1586.55 771.52L1586.8 771.42L1587.05 771.37L1587.3 771.54L1587.4 771.45L1587.55 771.54L1587.8 771.67L1588 771.75L1588.05 771.98L1588.3 771.86L1588.55 771.89L1588.6 771.96L1588.8 771.77L1589.05 771.65L1589.2 771.76L1589.3 771.65L1589.55 772.1L1589.8 772.01L1590.4 771.46L1591 771.49L1591.6 771.77L1592.2 771.66L1592.8 771.23L1593.4 770.86L1594 770.94L1594.6 770.7L1595.2 770.62L1595.8 770.8L1596.4 770.99L1597 770.74L1597.6 770.97L1598.2 771.3L1598.8 771.59L1599.4 771.56L1600 771.62L1600.6 771.56L1601.1 771.4L1601.2 771.28L1601.6 771.32L1601.8 771.72L1602.1 771.85L1602.4 771.37L1602.6 771.44L1603 771.38L1603.1 771.58L1603.6 771.31L1604.1 771.07L1604.2 771.77L1604.44 773.52L1604.78 776.39L1604.8 776.63L1605.12 779.63L1605.4 782.49L1605.46 782.89L1605.8 786.5L1606 784.82L1606.05 784.49L1606.3 782.62L1606.55 781.13L1606.6 780.85L1606.8 779.65L1607.05 778.58L1607.2 777.96L1607.3 777.62L1607.55 776.67L1607.8 776.02L1608.05 775.31L1608.3 774.77L1608.4 774.41L1608.55 774.28L1608.8 773.85L1609 773.24L1609.05 773.4L1609.3 773.27L1609.55 773.33L1609.6 772.74L1609.8 772.72L1610.05 772.35L1610.2 772.52L1610.3 772.07L1610.55 772.06L1610.8 772.08L1611.05 771.96L1611.3 771.83L1611.4 771.81L1611.55 771.74L1611.8 772.04L1612 771.85L1612.05 771.57L1612.3 771.9L1612.55 771.83L1612.6 771.97L1612.8 771.97L1613.05 771.49L1613.2 771.69L1613.3 771.41L1613.55 771.36L1613.8 771.07L1614.05 771.04L1614.3 771L1614.4 770.69L1614.55 771.07L1615 770.92L1615.6 771.23L1616.2 770.42L1616.8 770.7L1617.4 770.29L1618 770.66L1618.6 771.17L1619.2 771.72L1619.8 771.59L1620.4 771.45L1621 771.12L1621.6 770.59L1622.2 770.88L1622.8 771.08L1623.4 771.44L1624 771.25L1624.6 771.25L1625.2 771.04L1625.8 771.14L1626.4 770.74L1627 771.16L1627.5 771.05" stroke="#3a3a3a" stroke-width="1.1" fill="none" stroke-linejoin="round"/>
<path d="M1169.2 1126.65L1171.97 1126.47L1174.74 1126.29L1177.52 1126.1L1180.29 1125.89L1183.06 1125.68L1185.83 1125.46L1188.61 1125.22L1191.38 1124.97L1194.15 1124.71L1196.92 1124.44L1199.7 1124.15L1202.47 1123.85L1205.24 1123.52L1208.01 1123.18L1210.78 1122.82L1213.56 1122.44L1216.33 1122.04L1219.1 1121.61L1221.87 1121.15L1224.65 1120.67L1227.42 1120.16L1230.19 1119.61L1232.96 1119.03L1235.74 1118.41L1238.51 1117.75L1241.28 1117.04L1244.05 1116.29L1246.83 1115.48L1249.6 1114.62L1252.37 1113.7L1255.14 1112.71L1257.91 1111.65L1260.69 1110.52L1263.46 1109.3L1266.23 1108L1269 1106.59L1271.78 1105.09L1274.55 1103.48L1277.32 1101.75L1280.09 1099.89L1282.87 1097.91L1285.64 1095.78L1288.41 1093.51L1291.18 1091.09L1293.95 1088.52L1296.73 1085.78L1299.5 1082.89L1302.27 1079.83L1305.04 1076.62L1307.82 1073.26L1310.59 1069.76L1313.36 1066.12L1316.13 1062.38L1318.91 1058.54L1321.68 1054.64L1324.45 1050.68L1327.22 1046.7L1329.99 1042.73L1332.77 1038.78L1335.54 1034.89L1338.31 1031.08L1341.08 1027.37L1343.86 1023.78L1346.63 1020.32L1349.4 1017L1352.17 1013.84L1354.95 1010.83L1357.72 1007.98L1360.49 1005.3L1363.26 1002.77L1366.04 1000.39L1368.81 998.17L1371.58 996.09L1374.35 994.14L1377.12 992.33L1379.9 990.63L1382.67 989.06L1385.44 987.58L1388.21 986.21L1390.99 984.93L1393.76 983.74L1396.53 982.63L1399.3 981.6L1402.08 980.63L1404.85 979.73L1407.62 978.88L1410.39 978.09L1413.16 977.35L1415.94 976.66L1418.71 976.01L1421.48 975.41L1424.25 974.84L1427.03 974.3L1429.8 973.8L1432.57 973.32L1435.34 972.88L1438.12 972.45L1440.89 972.06L1443.66 971.68L1446.43 971.33L1449.21 970.99L1451.98 970.68L1454.75 970.38L1457.52 970.09L1460.29 969.82L1463.07 969.57L1465.84 969.32L1468.61 969.09L1471.38 968.87L1474.16 968.66L1476.93 968.46L1479.7 968.27L1482.47 968.09L1485.25 967.92L1488.02 967.75L1490.79 967.59L1493.56 967.44L1496.33 967.3L1499.11 967.16L1501.88 967.03L1504.65 966.9L1507.42 966.78L1510.2 966.66L1512.97 966.55L1515.74 966.44L1518.51 966.34L1521.29 966.24L1524.06 966.14L1526.83 966.05L1529.6 965.96L1532.37 965.88L1535.15 965.8L1537.92 965.72L1540.69 965.64L1543.46 965.57L1546.24 965.5L1549.01 965.43L1551.78 965.36L1554.55 965.3L1557.33 965.24L1560.1 965.18L1562.87 965.12L1565.64 965.06L1568.42 965.01L1571.19 964.96L1573.96 964.91L1576.73 964.86L1579.5 964.81L1582.28 964.76L1585.05 964.72L1587.82 964.68L1590.59 964.63L1593.37 964.59L1596.14 964.55L1598.91 964.52L1601.68 964.48L1604.46 964.44L1607.23 964.41L1610 964.37" stroke="#3a3a3a" stroke-width="1.15" fill="none"/>
<ellipse cx="1169.2" cy="1120" rx="2.5" ry="3.2" fill="url(#dg)"/>
<ellipse cx="1190.6" cy="1127.3" rx="2.5" ry="3.2" fill="url(#dg)"/>
<ellipse cx="1212.8" cy="1125.6" rx="2.5" ry="3.2" fill="url(#dg)"/>
<ellipse cx="1235.4" cy="1118" rx="2.5" ry="3.2" fill="url(#dg)"/>
<ellipse cx="1257.9" cy="1113" rx="2.5" ry="3.2" fill="url(#dg)"/>
<ellipse cx="1280.8" cy="1100.7" rx="2.5" ry="3.2" fill="url(#dg)"/>
<ellipse cx="1304.4" cy="1077.4" rx="2.5" ry="3.2" fill="url(#dg)"/>
<ellipse cx="1328.4" cy="1044.6" rx="2.5" ry="3.2" fill="url(#dg)"/>
<ellipse cx="1352.5" cy="1009.9" rx="2.5" ry="3.2" fill="url(#dg)"/>
<ellipse cx="1376.8" cy="994.6" rx="2.5" ry="3.2" fill="url(#dg)"/>
<ellipse cx="1401.5" cy="987.2" rx="2.5" ry="3.2" fill="url(#dg)"/>
<ellipse cx="1426.9" cy="969.5" rx="2.5" ry="3.2" fill="url(#dg)"/>
<ellipse cx="1452.2" cy="970.7" rx="2.5" ry="3.2" fill="url(#dg)"/>
<ellipse cx="1478.4" cy="975.9" rx="2.5" ry="3.2" fill="url(#dg)"/>
<ellipse cx="1504.5" cy="966" rx="2.5" ry="3.2" fill="url(#dg)"/>
<ellipse cx="1531.4" cy="964" rx="2.5" ry="3.2" fill="url(#dg)"/>
<ellipse cx="1558.5" cy="968.8" rx="2.5" ry="3.2" fill="url(#dg)"/>
<ellipse cx="1586.1" cy="960.3" rx="2.5" ry="3.2" fill="url(#dg)"/>
<ellipse cx="1614" cy="959.9" rx="2.5" ry="3.2" fill="url(#dg)"/>
<text x="1061.5" y="695.5" font-size="57" font-weight="bold">e</text>
<text x="1391" y="696.3" font-size="32.4" text-anchor="middle">Time (s)</text>
<text x="1126.9" y="739.1" class="tk" text-anchor="middle">0</text>
<text x="1223.26" y="739.1" class="tk" text-anchor="middle">1000</text>
<text x="1319.63" y="739.1" class="tk" text-anchor="middle">2000</text>
<text x="1415.99" y="739.1" class="tk" text-anchor="middle">3000</text>
<text x="1512.35" y="739.1" class="tk" text-anchor="middle">4000</text>
<text x="1608.72" y="739.1" class="tk" text-anchor="middle">5000</text>
<text x="1116.3" y="781.9" class="tk" text-anchor="end">0</text>
<text x="1116.3" y="832.9" class="tk" text-anchor="end">-0.5</text>
<text x="1116.3" y="886.3" class="tk" text-anchor="end">-1.0</text>
<text x="1116.3" y="939.7" class="tk" text-anchor="end">-1.5</text>
<text x="1116.3" y="988.7" class="tk" text-anchor="end">-10</text>
<text x="1116.3" y="1027.2" class="tk" text-anchor="end">-20</text>
<text x="1116.3" y="1065.7" class="tk" text-anchor="end">-30</text>
<text x="1116.3" y="1104.2" class="tk" text-anchor="end">-40</text>
<text x="1116.3" y="1143.5" class="tk" text-anchor="end">-50</text>
<text x="1126.9" y="1164.7" class="tk" text-anchor="middle">0</text>
<text x="1202.61" y="1164.7" class="tk" text-anchor="middle">0.5</text>
<text x="1278.33" y="1164.7" class="tk" text-anchor="middle">1</text>
<text x="1354.04" y="1164.7" class="tk" text-anchor="middle">1.5</text>
<text x="1429.76" y="1164.7" class="tk" text-anchor="middle">2</text>
<text x="1505.47" y="1164.7" class="tk" text-anchor="middle">2.5</text>
<text x="1581.19" y="1164.7" class="tk" text-anchor="middle">3</text>
<text x="1656.9" y="1164.7" class="tk" text-anchor="middle">3.5</text>
<text x="1395.4" y="1210.6" font-size="32.05" text-anchor="middle">Molar Ratio of Cdc5-Spc72<tspan font-size="20" dy="-9">P</tspan><tspan dy="9">:Dbf4</tspan></text>
</g>
</svg>
</body></html>
